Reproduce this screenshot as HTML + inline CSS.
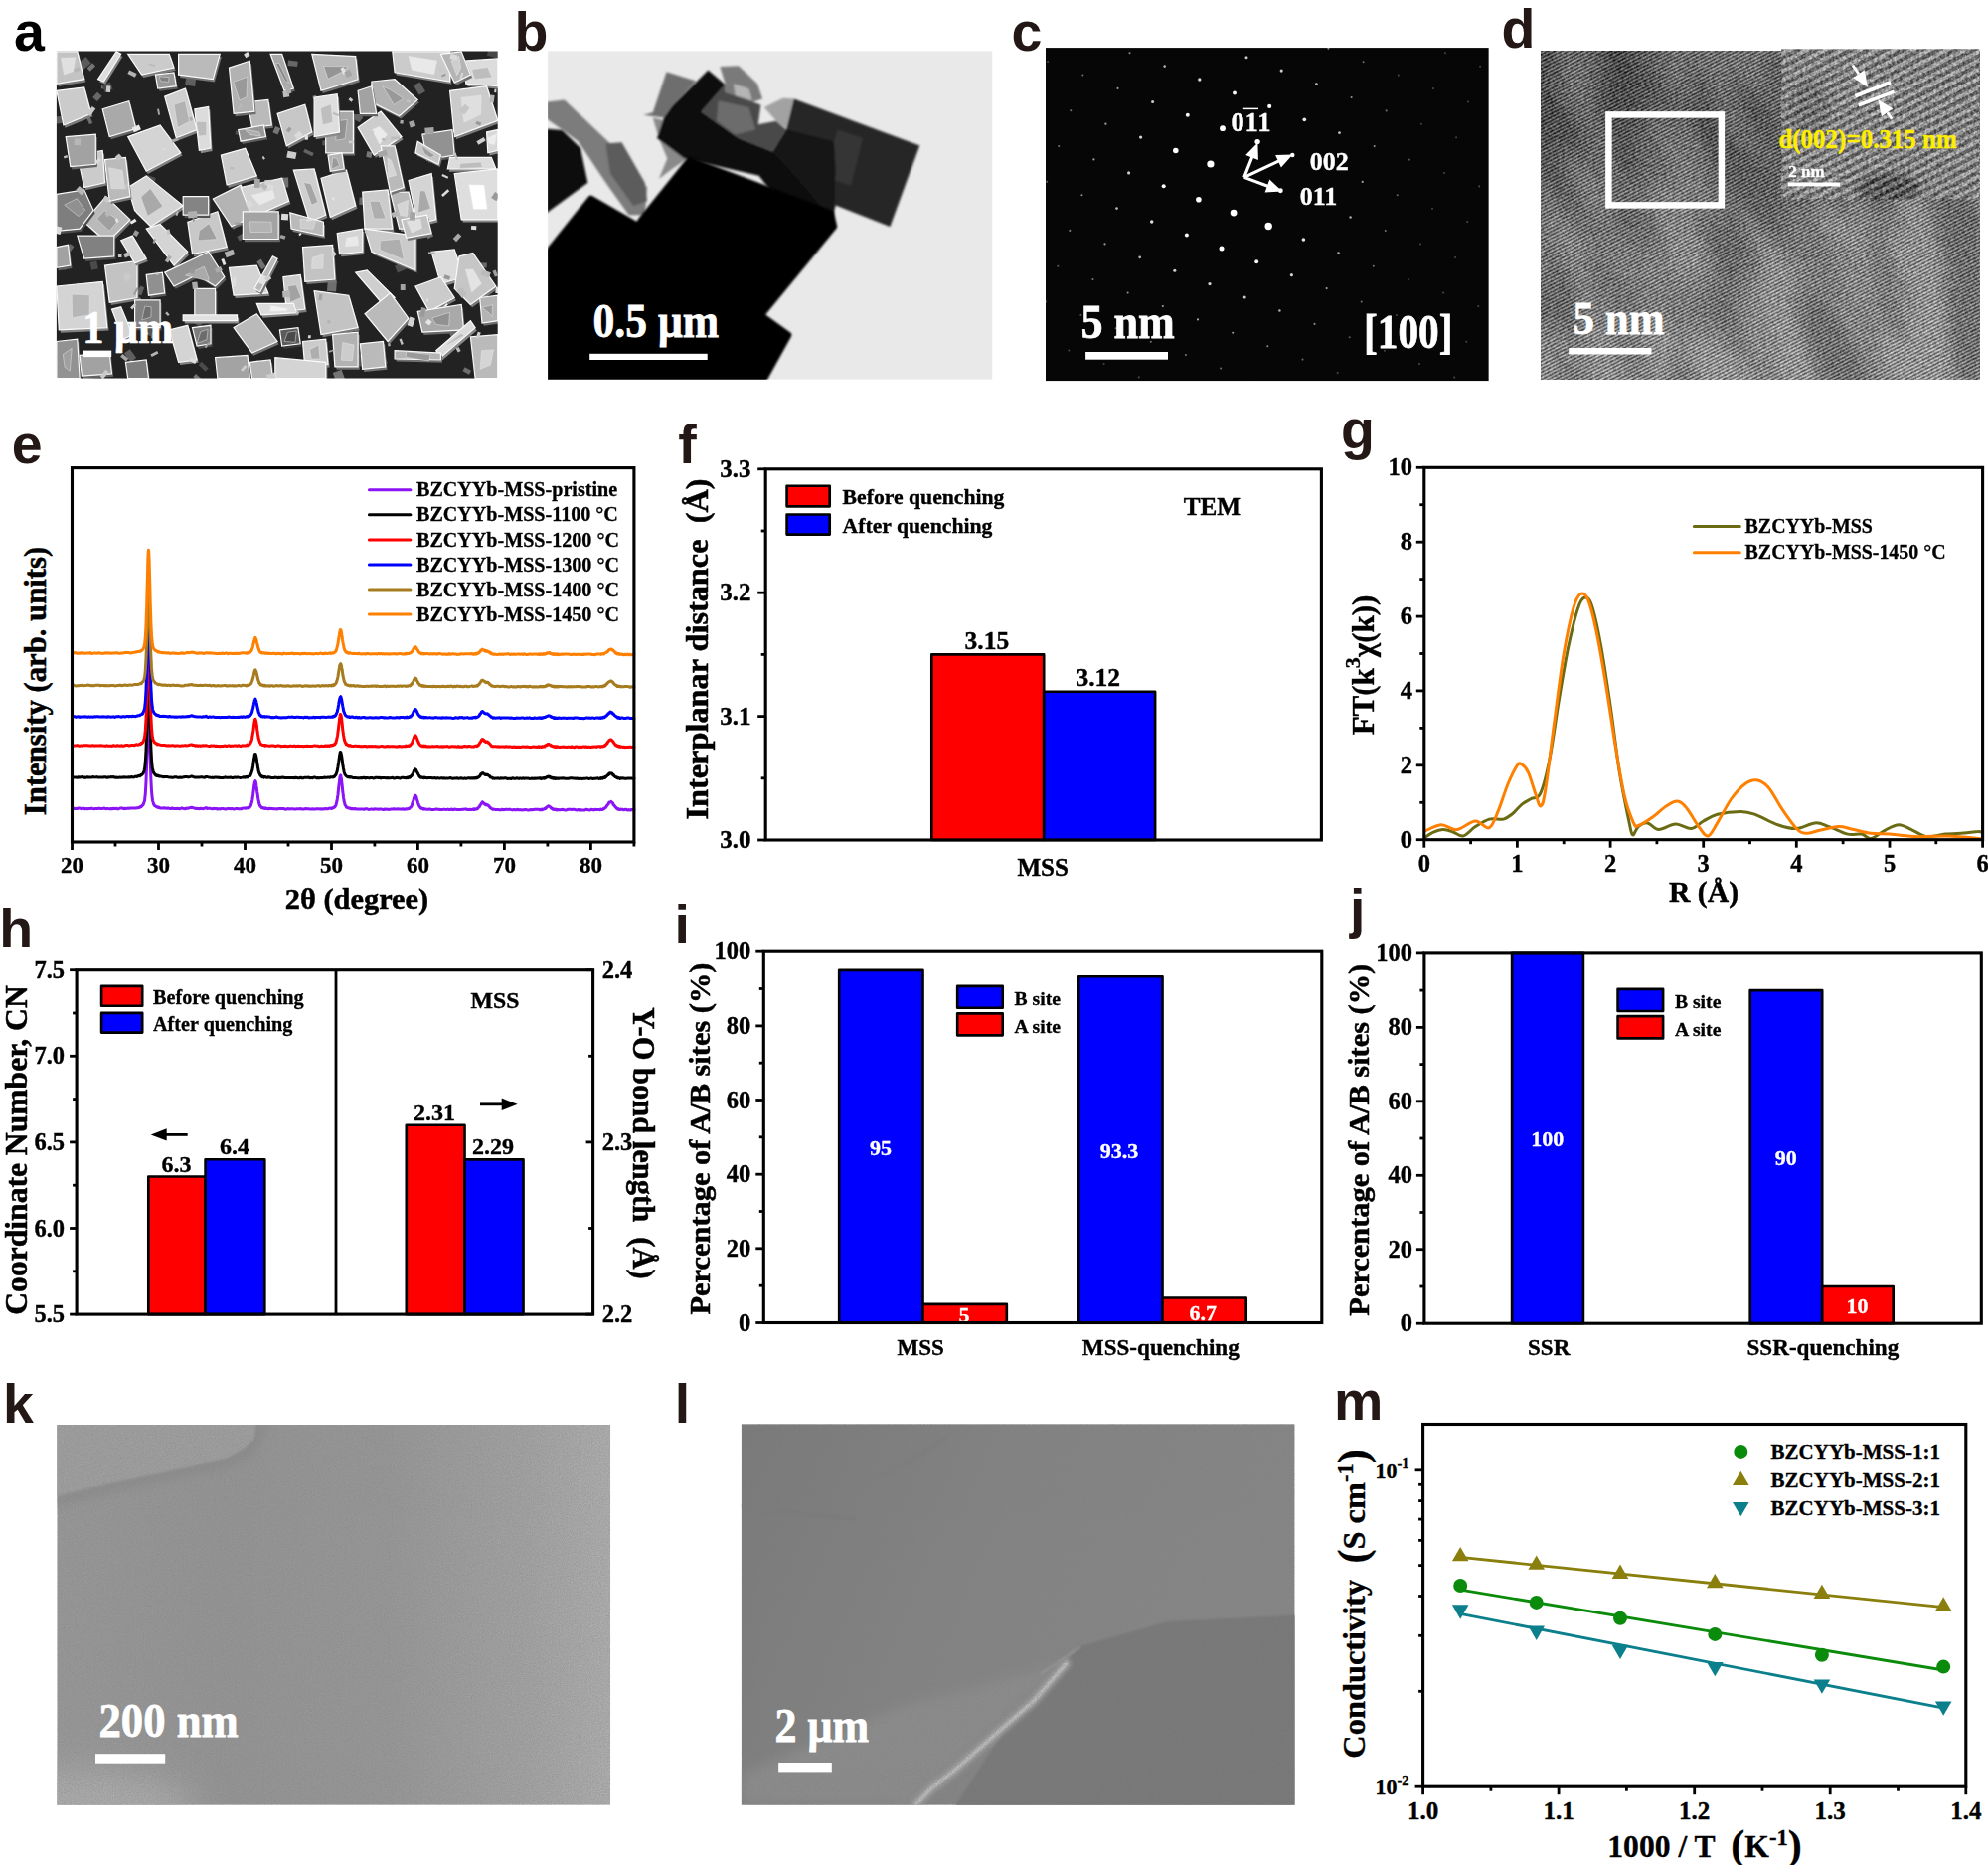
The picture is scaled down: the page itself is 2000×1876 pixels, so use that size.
<!DOCTYPE html>
<html lang="en"><head><meta charset="utf-8"><title>Figure</title>
<style>html,body{margin:0;padding:0;background:#fff;}svg{display:block;}</style></head>
<body><svg width="2000" height="1876" viewBox="0 0 2000 1876">
<rect width="2000" height="1876" fill="#fff"/>
<clipPath id="ca"><rect x="56.9" y="51.5" width="443.8" height="329.0"/></clipPath>
<filter id="bla" x="-5%" y="-5%" width="110%" height="110%"><feGaussianBlur stdDeviation="0.45"/></filter>
<g clip-path="url(#ca)"><g filter="url(#bla)">
<rect x="51.9" y="46.5" width="453.8" height="339.0" fill="#232323" stroke="none" stroke-width="0"/>
<polygon points="261.7,230.5 261.4,241.4 254.2,241.3 254.4,230.3" fill="#6b6b6b" stroke="none" stroke-width="0"/>
<polygon points="140.6,310.5 146.7,314.6 142.0,321.6 135.9,317.6" fill="#626262" stroke="none" stroke-width="0"/>
<polygon points="187.4,76.6 197.3,77.9 196.1,86.9 186.2,85.6" fill="#5f5f5f" stroke="none" stroke-width="0"/>
<polygon points="481.4,264.2 489.9,264.6 489.7,269.4 481.2,269.0" fill="#676767" stroke="none" stroke-width="0"/>
<polygon points="91.7,63.4 83.6,70.3 78.3,63.9 86.4,57.1" fill="#5a5a5a" stroke="none" stroke-width="0"/>
<polygon points="257.0,324.9 257.0,332.6 248.3,332.6 248.3,324.9" fill="#707070" stroke="none" stroke-width="0"/>
<polygon points="98.9,270.2 92.2,271.7 90.5,263.9 97.2,262.5" fill="#4b4b4b" stroke="none" stroke-width="0"/>
<polygon points="369.4,152.1 374.6,153.3 373.4,159.0 368.2,157.8" fill="#777777" stroke="none" stroke-width="0"/>
<polygon points="102.1,85.2 107.9,85.5 107.7,89.5 101.9,89.2" fill="#717171" stroke="none" stroke-width="0"/>
<polygon points="62.8,124.1 52.0,124.8 51.5,117.6 62.4,116.9" fill="#5f5f5f" stroke="none" stroke-width="0"/>
<polygon points="246.1,233.6 248.6,238.0 240.8,242.4 238.3,238.0" fill="#595959" stroke="none" stroke-width="0"/>
<polygon points="202.8,363.8 209.7,370.5 206.6,373.7 199.7,366.9" fill="#4c4c4c" stroke="none" stroke-width="0"/>
<polygon points="61.2,198.9 67.4,203.0 62.4,210.5 56.2,206.4" fill="#666666" stroke="none" stroke-width="0"/>
<polygon points="141.1,287.6 145.3,289.2 142.2,297.3 138.0,295.7" fill="#606060" stroke="none" stroke-width="0"/>
<polygon points="503.7,48.7 500.7,58.7 489.8,55.5 492.8,45.5" fill="#474747" stroke="none" stroke-width="0"/>
<polygon points="147.0,175.8 156.8,179.0 154.2,187.2 144.3,184.0" fill="#4f4f4f" stroke="none" stroke-width="0"/>
<polygon points="151.2,131.1 157.0,138.9 152.1,142.5 146.3,134.7" fill="#4a4a4a" stroke="none" stroke-width="0"/>
<polygon points="89.9,115.9 93.3,123.8 90.0,125.2 86.6,117.3" fill="#6d6d6d" stroke="none" stroke-width="0"/>
<polygon points="263.3,369.3 256.6,372.3 253.3,364.9 260.0,361.9" fill="#515151" stroke="none" stroke-width="0"/>
<polygon points="340.5,154.8 337.1,158.8 330.7,153.4 334.1,149.3" fill="#505050" stroke="none" stroke-width="0"/>
<polygon points="389.8,365.2 385.1,367.1 381.1,356.7 385.8,354.8" fill="#6c6c6c" stroke="none" stroke-width="0"/>
<polygon points="93.0,63.3 96.1,66.4 90.6,71.7 87.6,68.6" fill="#757575" stroke="none" stroke-width="0"/>
<polygon points="370.2,129.8 376.3,137.9 369.7,142.9 363.6,134.9" fill="#515151" stroke="none" stroke-width="0"/>
<polygon points="474.1,372.7 472.0,376.7 465.5,373.3 467.6,369.3" fill="#6d6d6d" stroke="none" stroke-width="0"/>
<polygon points="324.5,141.2 335.4,141.7 335.2,146.9 324.3,146.3" fill="#575757" stroke="none" stroke-width="0"/>
<polygon points="242.8,132.1 242.4,136.0 236.7,135.4 237.0,131.6" fill="#4e4e4e" stroke="none" stroke-width="0"/>
<polygon points="102.6,96.8 97.8,102.1 93.2,98.0 98.0,92.7" fill="#676767" stroke="none" stroke-width="0"/>
<polygon points="318.9,99.3 315.3,100.3 314.3,96.8 317.9,95.8" fill="#727272" stroke="none" stroke-width="0"/>
<polygon points="191.8,60.1 200.0,61.8 199.1,65.8 191.0,64.1" fill="#595959" stroke="none" stroke-width="0"/>
<polygon points="202.9,381.5 200.1,384.5 194.3,379.1 197.1,376.1" fill="#757575" stroke="none" stroke-width="0"/>
<polygon points="379.8,90.0 390.7,93.0 389.1,99.0 378.2,96.0" fill="#646464" stroke="none" stroke-width="0"/>
<polygon points="462.3,341.2 456.1,344.1 452.0,335.1 458.2,332.2" fill="#6a6a6a" stroke="none" stroke-width="0"/>
<polygon points="60.6,267.1 67.0,268.5 66.2,272.0 59.8,270.5" fill="#4b4b4b" stroke="none" stroke-width="0"/>
<polygon points="343.6,371.7 347.2,381.7 338.4,384.9 334.8,375.0" fill="#757575" stroke="none" stroke-width="0"/>
<polygon points="369.5,199.0 369.0,206.2 361.2,205.7 361.6,198.5" fill="#666666" stroke="none" stroke-width="0"/>
<polygon points="74.5,248.1 70.2,254.1 65.9,250.9 70.2,245.0" fill="#656565" stroke="none" stroke-width="0"/>
<polygon points="406.9,263.3 409.9,270.1 400.0,274.4 397.0,267.6" fill="#4f4f4f" stroke="none" stroke-width="0"/>
<polygon points="364.1,119.0 361.8,123.2 352.3,118.0 354.6,113.8" fill="#626262" stroke="none" stroke-width="0"/>
<polygon points="282.2,129.3 279.5,135.5 274.4,133.2 277.2,127.1" fill="#767676" stroke="none" stroke-width="0"/>
<polygon points="464.7,336.2 468.3,341.7 461.5,346.2 457.9,340.7" fill="#4e4e4e" stroke="none" stroke-width="0"/>
<polygon points="111.8,164.3 122.4,166.4 121.6,170.1 111.1,168.0" fill="#575757" stroke="none" stroke-width="0"/>
<polygon points="428.0,91.9 421.7,95.6 416.1,86.1 422.4,82.4" fill="#5e5e5e" stroke="none" stroke-width="0"/>
<polygon points="338.2,219.2 332.2,219.5 331.6,209.3 337.6,208.9" fill="#626262" stroke="none" stroke-width="0"/>
<polygon points="204.3,324.0 201.3,328.9 194.2,324.4 197.2,319.6" fill="#575757" stroke="none" stroke-width="0"/>
<polygon points="306.7,149.8 315.7,153.9 314.2,157.2 305.2,153.1" fill="#636363" stroke="none" stroke-width="0"/>
<polygon points="146.5,306.9 142.0,310.3 136.1,302.4 140.7,299.1" fill="#6e6e6e" stroke="none" stroke-width="0"/>
<polygon points="110.6,82.5 113.7,89.6 105.8,93.1 102.6,85.9" fill="#4a4a4a" stroke="none" stroke-width="0"/>
<polygon points="357.5,114.9 364.8,115.1 364.6,120.0 357.3,119.8" fill="#646464" stroke="none" stroke-width="0"/>
<polygon points="299.7,61.8 299.1,67.1 289.4,65.9 290.0,60.6" fill="#676767" stroke="none" stroke-width="0"/>
<polygon points="284.8,380.6 282.1,384.4 273.7,378.4 276.5,374.5" fill="#545454" stroke="none" stroke-width="0"/>
<polygon points="97.2,353.4 98.6,362.7 94.1,363.3 92.8,354.1" fill="#6e6e6e" stroke="none" stroke-width="0"/>
<polygon points="455.6,50.2 455.5,58.1 446.7,58.1 446.8,50.2" fill="#5b5b5b" stroke="none" stroke-width="0"/>
<polygon points="267.6,268.5 263.3,271.3 258.3,263.4 262.6,260.6" fill="#6f6f6f" stroke="none" stroke-width="0"/>
<polygon points="465.8,88.6 471.1,90.1 469.3,96.4 464.0,95.0" fill="#595959" stroke="none" stroke-width="0"/>
<polygon points="300.6,315.3 295.1,318.0 290.4,308.2 295.8,305.6" fill="#5c5c5c" stroke="none" stroke-width="0"/>
<polygon points="281.8,59.5 285.8,64.3 280.6,68.8 276.5,64.0" fill="#474747" stroke="none" stroke-width="0"/>
<polygon points="156.1,333.7 155.4,340.6 151.7,340.3 152.4,333.3" fill="#717171" stroke="none" stroke-width="0"/>
<polygon points="411.4,98.8 408.4,102.4 402.6,97.4 405.6,93.9" fill="#717171" stroke="none" stroke-width="0"/>
<polygon points="361.1,356.3 368.3,358.3 365.3,369.1 358.1,367.1" fill="#545454" stroke="none" stroke-width="0"/>
<polygon points="249.7,229.5 258.6,234.6 254.6,241.5 245.7,236.5" fill="#666666" stroke="none" stroke-width="0"/>
<polygon points="435.9,237.4 430.6,240.2 427.6,234.4 432.9,231.6" fill="#6d6d6d" stroke="none" stroke-width="0"/>
<polygon points="154.5,326.8 151.9,337.9 144.4,336.1 147.0,325.1" fill="#525252" stroke="none" stroke-width="0"/>
<polygon points="243.0,88.1 242.6,91.6 236.1,90.8 236.5,87.4" fill="#484848" stroke="none" stroke-width="0"/>
<polygon points="290.1,178.5 290.3,188.4 282.3,188.7 282.0,178.7" fill="#727272" stroke="none" stroke-width="0"/>
<polygon points="137.2,360.1 131.3,364.3 124.9,355.5 130.7,351.3" fill="#5f5f5f" stroke="none" stroke-width="0"/>
<polygon points="180.3,209.1 176.6,211.6 172.7,205.7 176.5,203.3" fill="#646464" stroke="none" stroke-width="0"/>
<polygon points="289.2,83.9 293.9,88.9 291.2,91.4 286.5,86.4" fill="#727272" stroke="none" stroke-width="0"/>
<polygon points="406.8,58.8 404.0,63.0 399.5,60.1 402.3,55.9" fill="#5a5a5a" stroke="none" stroke-width="0"/>
<polygon points="383.0,129.6 381.1,136.9 373.8,134.9 375.7,127.7" fill="#666666" stroke="none" stroke-width="0"/>
<polygon points="329.8,282.1 338.9,282.8 338.1,293.4 329.0,292.7" fill="#6e6e6e" stroke="none" stroke-width="0"/>
<polygon points="86.3,225.9 108.3,200.5 132.6,223.6 109.5,246.8" fill="#737373" stroke="none" stroke-width="0"/>
<polygon points="84.7,223.2 106.7,197.7 131.0,220.9 107.8,244.0" fill="#bababa" stroke="#fafafa" stroke-width="1.2"/>
<polygon points="97.5,219.9 105.1,211.7 119.1,221.4 110.1,232.4" fill="#9f9f9f" stroke="#e6e6e6" stroke-width="0.5"/>
<polygon points="130.3,191.2 148.8,179.7 185.8,209.7 153.4,230.6 137.2,214.4" fill="#838383" stroke="none" stroke-width="0"/>
<polygon points="128.7,188.5 147.2,176.9 184.2,207.0 151.8,227.8 135.6,211.6" fill="#d4d4d4" stroke="#fafafa" stroke-width="1.2"/>
<polygon points="141.8,198.3 151.3,189.6 163.8,207.4 148.6,217.3" fill="#a9a9a9" stroke="#e6e6e6" stroke-width="0.5"/>
<polygon points="58.6,198.2 86.3,193.6 95.6,214.4 81.7,232.9 58.6,235.2" fill="#4e4e4e" stroke="none" stroke-width="0"/>
<polygon points="56.9,195.4 84.7,190.8 94.0,211.6 80.1,230.1 56.9,232.4" fill="#7e7e7e" stroke="#fafafa" stroke-width="1.2"/>
<polygon points="64.8,206.1 77.4,199.7 85.6,211.3 79.0,217.6" fill="#909090" stroke="#e6e6e6" stroke-width="0.5"/>
<polygon points="104.8,112.6 131.4,104.5 138.4,132.2 111.8,140.3" fill="#686868" stroke="none" stroke-width="0"/>
<polygon points="103.2,109.8 129.8,101.7 136.8,129.5 110.2,137.6" fill="#a9a9a9" stroke="#fafafa" stroke-width="1.2"/>
<polygon points="58.6,94.1 86.3,90.6 93.3,117.2 65.5,128.8" fill="#7d7d7d" stroke="none" stroke-width="0"/>
<polygon points="56.9,91.3 84.7,87.8 91.7,114.4 63.9,126.0" fill="#cbcbcb" stroke="#fafafa" stroke-width="1.2"/>
<polygon points="167.3,99.8 188.1,91.7 199.7,133.4 178.9,141.5" fill="#808080" stroke="none" stroke-width="0"/>
<polygon points="165.7,97.1 186.5,89.0 198.1,130.6 177.3,138.7" fill="#cfcfcf" stroke="#fafafa" stroke-width="1.2"/>
<polygon points="175.1,105.3 186.2,101.7 190.6,122.3 178.7,128.5" fill="#b2b2b2" stroke="#e6e6e6" stroke-width="0.5"/>
<polygon points="130.3,140.3 162.7,128.8 183.5,156.5 148.8,175.0" fill="#838383" stroke="none" stroke-width="0"/>
<polygon points="128.7,137.6 161.1,126.0 181.9,153.8 147.2,172.3" fill="#d4d4d4" stroke="#fafafa" stroke-width="1.2"/>
<polygon points="197.4,112.6 211.3,110.3 213.6,151.9 202.0,154.2" fill="#888888" stroke="none" stroke-width="0"/>
<polygon points="195.8,109.8 209.7,107.5 212.0,149.1 200.4,151.4" fill="#dcdcdc" stroke="#fafafa" stroke-width="1.2"/>
<polygon points="197.2,122.4 207.6,122.4 207.7,136.2 200.0,137.1" fill="#bdbdbd" stroke="#e6e6e6" stroke-width="0.5"/>
<polygon points="224.0,158.8 248.3,151.9 259.9,179.7 229.8,188.9" fill="#7d7d7d" stroke="none" stroke-width="0"/>
<polygon points="222.4,156.1 246.7,149.1 258.3,176.9 228.2,186.1" fill="#cbcbcb" stroke="#fafafa" stroke-width="1.2"/>
<polygon points="215.9,202.8 243.7,188.9 259.9,219.0 234.4,230.6" fill="#6f6f6f" stroke="none" stroke-width="0"/>
<polygon points="214.3,200.0 242.1,186.1 258.3,216.2 232.8,227.8" fill="#b4b4b4" stroke="#fafafa" stroke-width="1.2"/>
<polygon points="243.7,191.2 285.3,182.0 292.3,205.1 255.2,221.3" fill="#838383" stroke="none" stroke-width="0"/>
<polygon points="242.1,188.5 283.7,179.2 290.6,202.3 253.6,218.5" fill="#d4d4d4" stroke="#fafafa" stroke-width="1.2"/>
<polygon points="253.0,196.4 274.5,190.9 276.7,199.3 261.4,206.3" fill="#e9e9e9" stroke="#e6e6e6" stroke-width="0.5"/>
<polygon points="190.5,225.9 220.5,215.5 229.8,251.4 195.1,258.3" fill="#7c7c7c" stroke="none" stroke-width="0"/>
<polygon points="188.8,223.2 218.9,212.8 228.2,248.6 193.5,255.6" fill="#c8c8c8" stroke="#fafafa" stroke-width="1.2"/>
<polygon points="200.4,232.1 210.3,224.7 218.4,240.5 199.0,241.9" fill="#a0a0a0" stroke="#e6e6e6" stroke-width="0.5"/>
<polygon points="246.0,215.5 281.9,215.5 281.9,243.3 246.0,243.3" fill="#656565" stroke="none" stroke-width="0"/>
<polygon points="244.4,212.8 280.2,212.8 280.2,240.5 244.4,240.5" fill="#a3a3a3" stroke="#fafafa" stroke-width="1.2"/>
<polygon points="251.3,222.8 273.0,223.2 273.4,233.4 252.1,233.5" fill="#b3b3b3" stroke="#e6e6e6" stroke-width="0.5"/>
<polygon points="148.8,232.9 162.7,228.3 190.5,256.0 176.6,269.9" fill="#838383" stroke="none" stroke-width="0"/>
<polygon points="147.2,230.1 161.1,225.5 188.8,253.3 175.0,267.1" fill="#d4d4d4" stroke="#fafafa" stroke-width="1.2"/>
<polygon points="167.3,276.9 211.3,256.0 227.5,281.5 218.2,290.7 199.7,279.2 176.6,290.7" fill="#5b5b5b" stroke="none" stroke-width="0"/>
<polygon points="165.7,274.1 209.7,253.3 225.9,278.7 216.6,288.0 198.1,276.4 175.0,288.0" fill="#949494" stroke="#fafafa" stroke-width="1.2"/>
<polygon points="186.6,277.0 205.4,268.2 210.1,280.2 209.3,282.9" fill="#aaaaaa" stroke="#e6e6e6" stroke-width="0.5"/>
<polygon points="107.2,269.9 139.5,265.3 139.5,302.3 111.8,306.9" fill="#787878" stroke="none" stroke-width="0"/>
<polygon points="105.5,267.1 137.9,262.5 137.9,299.5 110.2,304.2" fill="#c3c3c3" stroke="#fafafa" stroke-width="1.2"/>
<polygon points="58.6,290.7 104.8,286.1 109.5,332.4 60.9,334.7" fill="#838383" stroke="none" stroke-width="0"/>
<polygon points="56.9,288.0 103.2,283.3 107.8,329.6 59.3,331.9" fill="#d4d4d4" stroke="#fafafa" stroke-width="1.2"/>
<polygon points="72.2,296.1 90.3,296.8 90.1,316.8 72.6,319.7" fill="#b6b6b6" stroke="#e6e6e6" stroke-width="0.5"/>
<polygon points="137.2,304.6 162.7,304.6 162.7,332.4 137.2,332.4" fill="#4f4f4f" stroke="none" stroke-width="0"/>
<polygon points="135.6,301.8 161.1,301.8 161.1,329.6 135.6,329.6" fill="#818181" stroke="#fafafa" stroke-width="1.2"/>
<polygon points="145.8,308.1 152.1,308.8 151.9,319.0 142.7,322.0" fill="#6e6e6e" stroke="#e6e6e6" stroke-width="0.5"/>
<polygon points="197.4,293.1 218.2,293.1 218.2,320.8 197.4,320.8" fill="#686868" stroke="none" stroke-width="0"/>
<polygon points="195.8,290.3 216.6,290.3 216.6,318.0 195.8,318.0" fill="#a9a9a9" stroke="#fafafa" stroke-width="1.2"/>
<polygon points="185.8,319.7 240.2,319.7 240.2,325.4 185.8,325.4" fill="#8b8b8b" stroke="none" stroke-width="0"/>
<polygon points="184.2,316.9 238.6,316.9 238.6,322.7 184.2,322.7" fill="#e1e1e1" stroke="#fafafa" stroke-width="1.2"/>
<polygon points="232.1,272.2 259.9,269.9 271.4,297.7 236.7,300.0" fill="#838383" stroke="none" stroke-width="0"/>
<polygon points="230.5,269.4 258.3,267.1 269.8,294.9 235.1,297.2" fill="#d4d4d4" stroke="#fafafa" stroke-width="1.2"/>
<polygon points="306.1,251.4 336.2,249.1 338.5,283.8 308.5,286.1" fill="#787878" stroke="none" stroke-width="0"/>
<polygon points="304.5,248.6 334.6,246.3 336.9,281.0 306.8,283.3" fill="#c3c3c3" stroke="#fafafa" stroke-width="1.2"/>
<polygon points="314.2,259.2 325.3,255.8 324.9,270.0 313.6,270.4" fill="#d6d6d6" stroke="#e6e6e6" stroke-width="0.5"/>
<polygon points="286.5,281.5 303.8,279.2 308.5,313.9 290.0,316.2" fill="#7d7d7d" stroke="none" stroke-width="0"/>
<polygon points="284.9,278.7 302.2,276.4 306.8,311.1 288.3,313.4" fill="#cbcbcb" stroke="#fafafa" stroke-width="1.2"/>
<polygon points="289.6,287.9 298.0,286.7 303.0,299.4 291.9,304.2" fill="#a2a2a2" stroke="#e6e6e6" stroke-width="0.5"/>
<polygon points="259.9,308.1 296.9,308.1 300.4,317.3 264.5,319.7" fill="#888888" stroke="none" stroke-width="0"/>
<polygon points="258.3,305.3 295.3,305.3 298.7,314.6 262.9,316.9" fill="#dcdcdc" stroke="#fafafa" stroke-width="1.2"/>
<polygon points="272.6,307.4 289.5,310.6 288.1,313.0 271.1,313.3" fill="#f2f2f2" stroke="#e6e6e6" stroke-width="0.5"/>
<polygon points="296.9,173.9 317.7,172.7 329.3,219.0 313.1,225.9" fill="#808080" stroke="none" stroke-width="0"/>
<polygon points="295.3,171.1 316.1,170.0 327.7,216.2 311.5,223.2" fill="#cfcfcf" stroke="#fafafa" stroke-width="1.2"/>
<polygon points="305.5,183.4 312.7,184.9 319.8,203.1 313.6,206.3" fill="#a5a5a5" stroke="#e6e6e6" stroke-width="0.5"/>
<polygon points="324.7,182.0 350.1,173.9 359.4,209.7 333.9,221.3" fill="#838383" stroke="none" stroke-width="0"/>
<polygon points="323.0,179.2 348.5,171.1 357.7,207.0 332.3,218.5" fill="#d4d4d4" stroke="#fafafa" stroke-width="1.2"/>
<polygon points="293.4,216.7 327.0,225.9 327.0,239.8 294.6,232.9" fill="#737373" stroke="none" stroke-width="0"/>
<polygon points="291.8,213.9 325.4,223.2 325.4,237.1 293.0,230.1" fill="#bababa" stroke="#fafafa" stroke-width="1.2"/>
<polygon points="302.1,220.0 317.6,221.7 315.0,230.3 302.3,229.4" fill="#cccccc" stroke="#e6e6e6" stroke-width="0.5"/>
<polygon points="361.7,131.1 384.8,114.9 405.6,140.3 377.9,158.8" fill="#7f7f7f" stroke="none" stroke-width="0"/>
<polygon points="360.1,128.3 383.2,112.1 404.0,137.6 376.3,156.1" fill="#cdcdcd" stroke="#fafafa" stroke-width="1.2"/>
<polygon points="374.3,130.7 381.8,127.2 389.5,135.5 381.8,145.2" fill="#ebebeb" stroke="#e6e6e6" stroke-width="0.5"/>
<polygon points="329.3,114.9 357.1,114.9 357.1,156.5 329.3,156.5" fill="#686868" stroke="none" stroke-width="0"/>
<polygon points="327.7,112.1 355.4,112.1 355.4,153.8 327.7,153.8" fill="#a9a9a9" stroke="#fafafa" stroke-width="1.2"/>
<polygon points="338.5,121.8 349.2,120.4 347.2,139.6 337.8,141.3" fill="#919191" stroke="#e6e6e6" stroke-width="0.5"/>
<polygon points="317.7,101.0 340.9,97.5 343.2,135.7 317.7,140.3" fill="#898989" stroke="none" stroke-width="0"/>
<polygon points="316.1,98.2 339.2,94.7 341.6,132.9 316.1,137.6" fill="#dedede" stroke="#fafafa" stroke-width="1.2"/>
<polygon points="322.4,109.1 332.9,104.7 334.8,123.0 324.7,125.8" fill="#bebebe" stroke="#e6e6e6" stroke-width="0.5"/>
<polygon points="280.7,117.2 308.5,107.9 315.4,135.7 290.0,149.6" fill="#7b7b7b" stroke="none" stroke-width="0"/>
<polygon points="279.1,114.4 306.8,105.2 313.8,132.9 288.3,146.8" fill="#c7c7c7" stroke="#fafafa" stroke-width="1.2"/>
<polygon points="250.6,105.6 271.4,103.3 274.9,128.8 255.2,131.1" fill="#737373" stroke="none" stroke-width="0"/>
<polygon points="249.0,102.8 269.8,100.5 273.3,126.0 253.6,128.3" fill="#bababa" stroke="#fafafa" stroke-width="1.2"/>
<polygon points="232.1,70.9 252.9,64.0 257.6,114.9 236.7,117.2" fill="#6e6e6e" stroke="none" stroke-width="0"/>
<polygon points="230.5,68.1 251.3,61.2 255.9,112.1 235.1,114.4" fill="#b2b2b2" stroke="#fafafa" stroke-width="1.2"/>
<polygon points="234.8,82.3 248.8,77.3 248.0,97.8 240.9,100.9" fill="#999999" stroke="#e6e6e6" stroke-width="0.5"/>
<polygon points="181.2,57.0 222.8,57.0 215.9,82.5 181.2,77.9" fill="#737373" stroke="none" stroke-width="0"/>
<polygon points="179.6,54.3 221.2,54.3 214.3,79.7 179.6,75.1" fill="#bababa" stroke="#fafafa" stroke-width="1.2"/>
<polygon points="130.3,57.0 171.9,57.0 176.6,70.9 144.2,77.9" fill="#7d7d7d" stroke="none" stroke-width="0"/>
<polygon points="128.7,54.3 170.3,54.3 175.0,68.1 142.6,75.1" fill="#cbcbcb" stroke="#fafafa" stroke-width="1.2"/>
<polygon points="315.4,57.0 359.4,59.3 361.7,82.5 324.7,94.1" fill="#737373" stroke="none" stroke-width="0"/>
<polygon points="313.8,54.3 357.7,56.6 360.1,79.7 323.0,91.3" fill="#bababa" stroke="#fafafa" stroke-width="1.2"/>
<polygon points="325.7,66.5 350.1,66.8 345.1,71.6 330.0,79.3" fill="#949494" stroke="#e6e6e6" stroke-width="0.5"/>
<polygon points="375.6,84.8 398.7,82.5 421.8,103.3 403.3,119.5 375.6,105.6" fill="#6e6e6e" stroke="none" stroke-width="0"/>
<polygon points="373.9,82.0 397.1,79.7 420.2,100.5 401.7,116.7 373.9,102.8" fill="#b2b2b2" stroke="#fafafa" stroke-width="1.2"/>
<polygon points="384.9,86.9 392.2,90.1 405.8,99.2 396.3,105.4" fill="#999999" stroke="#e6e6e6" stroke-width="0.5"/>
<polygon points="396.4,54.7 454.2,54.7 454.2,84.8 398.7,75.5" fill="#7d7d7d" stroke="none" stroke-width="0"/>
<polygon points="394.8,51.9 452.6,51.9 452.6,82.0 397.1,72.8" fill="#cbcbcb" stroke="#fafafa" stroke-width="1.2"/>
<polygon points="411.0,56.4 439.6,61.0 436.7,74.7 414.4,70.2" fill="#e9e9e9" stroke="#e6e6e6" stroke-width="0.5"/>
<polygon points="468.1,64.0 502.4,61.7 502.4,89.4 470.4,87.1" fill="#888888" stroke="none" stroke-width="0"/>
<polygon points="466.5,61.2 500.7,58.9 500.7,86.7 468.8,84.3" fill="#dcdcdc" stroke="#fafafa" stroke-width="1.2"/>
<polygon points="474.6,69.7 490.7,67.6 495.0,77.8 477.6,79.7" fill="#bdbdbd" stroke="#e6e6e6" stroke-width="0.5"/>
<polygon points="454.2,94.1 491.3,89.4 502.4,124.1 458.9,140.3" fill="#7d7d7d" stroke="none" stroke-width="0"/>
<polygon points="452.6,91.3 489.6,86.7 500.7,121.4 457.2,137.6" fill="#cbcbcb" stroke="#fafafa" stroke-width="1.2"/>
<polygon points="464.1,98.3 484.2,96.1 483.7,115.1 466.9,123.3" fill="#dfdfdf" stroke="#e6e6e6" stroke-width="0.5"/>
<polygon points="426.5,138.0 456.6,133.4 458.9,158.8 431.1,163.5" fill="#5a5a5a" stroke="none" stroke-width="0"/>
<polygon points="424.9,135.2 454.9,130.6 457.2,156.1 429.5,160.7" fill="#929292" stroke="#fafafa" stroke-width="1.2"/>
<polygon points="454.2,161.2 495.9,161.2 500.5,172.7 451.9,172.7" fill="#888888" stroke="none" stroke-width="0"/>
<polygon points="452.6,158.4 494.3,158.4 498.9,170.0 450.3,170.0" fill="#dcdcdc" stroke="#fafafa" stroke-width="1.2"/>
<polygon points="463.1,164.4 483.9,162.9 485.2,168.6 462.2,169.4" fill="#bdbdbd" stroke="#e6e6e6" stroke-width="0.5"/>
<polygon points="458.9,177.4 502.4,172.7 502.4,223.6 465.8,223.6" fill="#898989" stroke="none" stroke-width="0"/>
<polygon points="457.2,174.6 500.7,170.0 500.7,220.9 464.2,220.9" fill="#dedede" stroke="#fafafa" stroke-width="1.2"/>
<polygon points="471.7,185.7 487.1,186.0 490.2,210.4 476.3,210.4" fill="#ffffff" stroke="#e6e6e6" stroke-width="0.5"/>
<polygon points="412.6,184.3 435.7,177.4 440.4,223.6 421.8,228.3" fill="#838383" stroke="none" stroke-width="0"/>
<polygon points="411.0,181.5 434.1,174.6 438.7,220.9 420.2,225.5" fill="#d4d4d4" stroke="#fafafa" stroke-width="1.2"/>
<polygon points="422.7,191.7 427.7,192.1 433.3,209.8 420.5,214.1" fill="#a9a9a9" stroke="#e6e6e6" stroke-width="0.5"/>
<polygon points="366.3,195.9 391.8,193.6 396.4,232.9 368.6,232.9" fill="#7d7d7d" stroke="none" stroke-width="0"/>
<polygon points="364.7,193.1 390.1,190.8 394.8,230.1 367.0,230.1" fill="#cbcbcb" stroke="#fafafa" stroke-width="1.2"/>
<polygon points="371.9,202.2 382.0,202.4 388.2,219.9 376.0,220.0" fill="#aeaeae" stroke="#e6e6e6" stroke-width="0.5"/>
<polygon points="394.1,195.9 412.6,195.9 421.8,232.9 403.3,232.9" fill="#737373" stroke="none" stroke-width="0"/>
<polygon points="392.5,193.1 411.0,193.1 420.2,230.1 401.7,230.1" fill="#bababa" stroke="#fafafa" stroke-width="1.2"/>
<polygon points="399.8,205.7 410.6,201.3 409.5,217.6 402.8,216.6" fill="#d5d5d5" stroke="#e6e6e6" stroke-width="0.5"/>
<polygon points="368.6,232.9 419.5,239.8 419.5,274.5 375.6,256.0" fill="#7d7d7d" stroke="none" stroke-width="0"/>
<polygon points="367.0,230.1 417.9,237.1 417.9,271.8 373.9,253.3" fill="#cbcbcb" stroke="#fafafa" stroke-width="1.2"/>
<polygon points="382.3,242.0 402.0,240.2 406.5,261.5 382.2,251.3" fill="#aeaeae" stroke="#e6e6e6" stroke-width="0.5"/>
<polygon points="340.9,237.5 366.3,232.9 366.3,256.0 343.2,258.3" fill="#838383" stroke="none" stroke-width="0"/>
<polygon points="339.2,234.7 364.7,230.1 364.7,253.3 341.6,255.6" fill="#d4d4d4" stroke="#fafafa" stroke-width="1.2"/>
<polygon points="348.8,239.0 359.5,237.4 360.8,246.7 347.3,247.8" fill="#e9e9e9" stroke="#e6e6e6" stroke-width="0.5"/>
<polygon points="435.7,256.0 458.9,253.7 468.1,281.5 445.0,288.4" fill="#888888" stroke="none" stroke-width="0"/>
<polygon points="434.1,253.3 457.2,250.9 466.5,278.7 443.4,285.6" fill="#dcdcdc" stroke="#fafafa" stroke-width="1.2"/>
<polygon points="463.5,260.7 477.4,257.2 500.5,290.7 475.1,309.2 458.9,293.1" fill="#7a7a7a" stroke="none" stroke-width="0"/>
<polygon points="461.9,257.9 475.8,254.4 498.9,288.0 473.4,306.5 457.2,290.3" fill="#c6c6c6" stroke="#fafafa" stroke-width="1.2"/>
<polygon points="468.5,271.2 475.9,271.0 484.3,285.5 474.6,294.0" fill="#e3e3e3" stroke="#e6e6e6" stroke-width="0.5"/>
<polygon points="359.4,276.9 370.9,274.5 398.7,302.3 387.1,309.2" fill="#808080" stroke="none" stroke-width="0"/>
<polygon points="357.7,274.1 369.3,271.8 397.1,299.5 385.5,306.5" fill="#cfcfcf" stroke="#fafafa" stroke-width="1.2"/>
<polygon points="368.6,318.5 394.1,297.7 412.6,323.1 391.8,346.3" fill="#737373" stroke="none" stroke-width="0"/>
<polygon points="367.0,315.7 392.5,294.9 411.0,320.4 390.1,343.5" fill="#bababa" stroke="#fafafa" stroke-width="1.2"/>
<polygon points="317.7,295.4 352.4,300.0 361.7,332.4 324.7,339.3" fill="#787878" stroke="none" stroke-width="0"/>
<polygon points="316.1,292.6 350.8,297.2 360.1,329.6 323.0,336.6" fill="#c3c3c3" stroke="#fafafa" stroke-width="1.2"/>
<polygon points="419.5,290.7 445.0,281.5 458.9,302.3 433.4,316.2" fill="#7d7d7d" stroke="none" stroke-width="0"/>
<polygon points="417.9,288.0 443.4,278.7 457.2,299.5 431.8,313.4" fill="#cbcbcb" stroke="#fafafa" stroke-width="1.2"/>
<polygon points="421.8,316.2 465.8,309.2 468.1,334.7 426.5,337.0" fill="#686868" stroke="none" stroke-width="0"/>
<polygon points="420.2,313.4 464.2,306.5 466.5,331.9 424.9,334.2" fill="#a9a9a9" stroke="#fafafa" stroke-width="1.2"/>
<polygon points="434.7,320.0 452.5,314.2 451.6,327.9 438.8,326.4" fill="#919191" stroke="#e6e6e6" stroke-width="0.5"/>
<polygon points="440.4,355.5 475.1,325.4 479.7,332.4 445.0,362.5" fill="#888888" stroke="none" stroke-width="0"/>
<polygon points="438.7,352.7 473.4,322.7 478.1,329.6 443.4,359.7" fill="#dcdcdc" stroke="#fafafa" stroke-width="1.2"/>
<polygon points="448.8,346.6 463.6,335.5 467.1,337.6 450.3,347.1" fill="#bdbdbd" stroke="#e6e6e6" stroke-width="0.5"/>
<polygon points="236.7,332.4 259.9,318.5 280.7,346.3 255.2,357.8" fill="#737373" stroke="none" stroke-width="0"/>
<polygon points="235.1,329.6 258.3,315.7 279.1,343.5 253.6,355.1" fill="#bababa" stroke="#fafafa" stroke-width="1.2"/>
<polygon points="171.9,334.7 190.5,330.1 199.7,364.8 181.2,367.1" fill="#838383" stroke="none" stroke-width="0"/>
<polygon points="170.3,331.9 188.8,327.3 198.1,362.0 179.6,364.3" fill="#d4d4d4" stroke="#fafafa" stroke-width="1.2"/>
<polygon points="306.1,346.3 329.3,344.0 331.6,369.4 308.5,371.7" fill="#7d7d7d" stroke="none" stroke-width="0"/>
<polygon points="304.5,343.5 327.7,341.2 330.0,366.6 306.8,368.9" fill="#cbcbcb" stroke="#fafafa" stroke-width="1.2"/>
<polygon points="311.4,351.9 320.6,346.7 322.0,360.9 313.3,361.1" fill="#aeaeae" stroke="#e6e6e6" stroke-width="0.5"/>
<polygon points="336.2,339.3 361.7,337.0 361.7,371.7 338.5,371.7" fill="#6e6e6e" stroke="none" stroke-width="0"/>
<polygon points="334.6,336.6 360.1,334.2 360.1,368.9 336.9,368.9" fill="#b2b2b2" stroke="#fafafa" stroke-width="1.2"/>
<polygon points="344.7,344.5 356.2,347.1 354.3,362.8 343.3,362.2" fill="#cccccc" stroke="#e6e6e6" stroke-width="0.5"/>
<polygon points="278.4,362.5 329.3,367.1 329.3,383.3 278.4,383.3" fill="#838383" stroke="none" stroke-width="0"/>
<polygon points="276.8,359.7 327.7,364.3 327.7,380.5 276.8,380.5" fill="#d4d4d4" stroke="#fafafa" stroke-width="1.2"/>
<polygon points="218.2,362.5 250.6,360.2 252.9,383.3 220.5,383.3" fill="#656565" stroke="none" stroke-width="0"/>
<polygon points="216.6,359.7 249.0,357.4 251.3,380.5 218.9,380.5" fill="#a3a3a3" stroke="#fafafa" stroke-width="1.2"/>
<polygon points="58.6,346.3 79.4,344.0 81.7,383.3 58.6,383.3" fill="#5a5a5a" stroke="none" stroke-width="0"/>
<polygon points="56.9,343.5 77.8,341.2 80.1,380.5 56.9,380.5" fill="#929292" stroke="#fafafa" stroke-width="1.2"/>
<polygon points="63.3,356.5 72.2,350.4 70.3,373.1 65.1,369.2" fill="#a0a0a0" stroke="#e6e6e6" stroke-width="0.5"/>
<polygon points="81.7,360.2 111.8,357.8 114.1,378.7 84.0,381.0" fill="#646464" stroke="none" stroke-width="0"/>
<polygon points="80.1,357.4 110.2,355.1 112.5,375.9 82.4,378.2" fill="#a2a2a2" stroke="#fafafa" stroke-width="1.2"/>
<polygon points="475.1,341.6 502.4,339.3 502.4,383.3 479.7,383.3" fill="#737373" stroke="none" stroke-width="0"/>
<polygon points="473.4,338.9 500.7,336.6 500.7,380.5 478.1,380.5" fill="#bababa" stroke="#fafafa" stroke-width="1.2"/>
<polygon points="484.5,352.7 496.5,351.8 493.5,367.0 483.1,371.3" fill="#d5d5d5" stroke="#e6e6e6" stroke-width="0.5"/>
<polygon points="398.7,355.5 445.0,357.8 445.0,364.8 398.7,363.6" fill="#6f6f6f" stroke="none" stroke-width="0"/>
<polygon points="397.1,352.7 443.4,355.1 443.4,362.0 397.1,360.8" fill="#b4b4b4" stroke="#fafafa" stroke-width="1.2"/>
<polygon points="408.6,353.8 433.2,356.6 431.6,363.0 408.2,359.3" fill="#9a9a9a" stroke="#e6e6e6" stroke-width="0.5"/>
<polygon points="58.6,54.7 79.4,54.7 86.3,82.5 58.6,87.1" fill="#787878" stroke="none" stroke-width="0"/>
<polygon points="56.9,51.9 77.8,51.9 84.7,79.7 56.9,84.3" fill="#c3c3c3" stroke="#fafafa" stroke-width="1.2"/>
<polygon points="61.4,58.2 75.9,57.8 73.5,71.7 64.4,75.0" fill="#e0e0e0" stroke="#e6e6e6" stroke-width="0.5"/>
<polygon points="100.2,82.5 118.7,54.7 123.4,57.0 106.0,84.8" fill="#888888" stroke="none" stroke-width="0"/>
<polygon points="98.6,79.7 117.1,51.9 121.7,54.3 104.4,82.0" fill="#dcdcdc" stroke="#fafafa" stroke-width="1.2"/>
<polygon points="445.0,57.0 465.8,54.7 475.1,77.9 458.9,86.0" fill="#6f6f6f" stroke="none" stroke-width="0"/>
<polygon points="443.4,54.3 464.2,51.9 473.4,75.1 457.2,83.2" fill="#b4b4b4" stroke="#fafafa" stroke-width="1.2"/>
<polygon points="454.0,61.1 461.7,56.4 463.6,68.0 459.8,75.7" fill="#cecece" stroke="#e6e6e6" stroke-width="0.5"/>
<polygon points="384.8,149.6 398.7,149.6 408.0,191.2 394.1,195.9" fill="#737373" stroke="none" stroke-width="0"/>
<polygon points="383.2,146.8 397.1,146.8 406.3,188.5 392.5,193.1" fill="#bababa" stroke="#fafafa" stroke-width="1.2"/>
<polygon points="389.9,159.1 393.4,161.2 398.7,176.3 390.8,178.4" fill="#d5d5d5" stroke="#e6e6e6" stroke-width="0.5"/>
<polygon points="79.4,158.8 104.8,154.2 107.2,186.6 86.3,191.2" fill="#7d7d7d" stroke="none" stroke-width="0"/>
<polygon points="77.8,156.1 103.2,151.4 105.5,183.8 84.7,188.5" fill="#cbcbcb" stroke="#fafafa" stroke-width="1.2"/>
<polygon points="107.2,163.5 128.0,161.2 132.6,200.5 111.8,205.1" fill="#737373" stroke="none" stroke-width="0"/>
<polygon points="105.5,160.7 126.4,158.4 131.0,197.7 110.2,202.3" fill="#bababa" stroke="#fafafa" stroke-width="1.2"/>
<polygon points="109.6,168.7 123.1,171.4 125.7,189.8 112.0,189.6" fill="#d5d5d5" stroke="#e6e6e6" stroke-width="0.5"/>
<polygon points="67.8,140.3 97.9,138.0 97.9,168.1 72.4,170.4" fill="#646464" stroke="none" stroke-width="0"/>
<polygon points="66.2,137.6 96.3,135.2 96.3,165.3 70.8,167.6" fill="#a2a2a2" stroke="#fafafa" stroke-width="1.2"/>
<polygon points="241.4,133.4 266.8,128.8 269.1,140.3 243.7,145.0" fill="#5e5e5e" stroke="none" stroke-width="0"/>
<polygon points="239.7,130.6 265.2,126.0 267.5,137.6 242.1,142.2" fill="#989898" stroke="#fafafa" stroke-width="1.2"/>
<polygon points="245.9,129.8 260.7,132.9 262.3,137.2 251.2,135.3" fill="#aeaeae" stroke="#e6e6e6" stroke-width="0.5"/>
<polygon points="185.8,200.5 211.3,200.5 211.3,219.0 185.8,219.0" fill="#515151" stroke="none" stroke-width="0"/>
<polygon points="184.2,197.7 209.7,197.7 209.7,216.2 184.2,216.2" fill="#848484" stroke="#fafafa" stroke-width="1.2"/>
<polygon points="79.4,239.8 116.4,239.8 116.4,260.7 86.3,263.0" fill="#4f4f4f" stroke="none" stroke-width="0"/>
<polygon points="77.8,237.1 114.8,237.1 114.8,257.9 84.7,260.2" fill="#818181" stroke="#fafafa" stroke-width="1.2"/>
<polygon points="123.4,244.5 134.9,239.8 148.8,263.0 137.2,267.6" fill="#838383" stroke="none" stroke-width="0"/>
<polygon points="121.7,241.7 133.3,237.1 147.2,260.2 135.6,264.8" fill="#d4d4d4" stroke="#fafafa" stroke-width="1.2"/>
<polygon points="257.6,293.1 276.1,260.7 280.7,263.0 263.3,296.5" fill="#737373" stroke="none" stroke-width="0"/>
<polygon points="255.9,290.3 274.4,257.9 279.1,260.2 261.7,293.7" fill="#bababa" stroke="#fafafa" stroke-width="1.2"/>
<polygon points="405.6,223.6 431.1,219.0 435.7,237.5 410.3,242.1" fill="#787878" stroke="none" stroke-width="0"/>
<polygon points="404.0,220.9 429.5,216.2 434.1,234.7 408.7,239.4" fill="#c3c3c3" stroke="#fafafa" stroke-width="1.2"/>
<polygon points="409.4,222.5 422.9,219.9 424.5,229.4 414.2,234.0" fill="#e0e0e0" stroke="#e6e6e6" stroke-width="0.5"/>
<polygon points="361.7,94.1 375.6,89.4 380.2,117.2 364.0,117.2" fill="#646464" stroke="none" stroke-width="0"/>
<polygon points="360.1,91.3 373.9,86.7 378.6,114.4 362.4,114.4" fill="#a2a2a2" stroke="#fafafa" stroke-width="1.2"/>
<polygon points="421.8,145.0 445.0,158.8 442.7,168.1 419.5,156.5" fill="#7a7a7a" stroke="none" stroke-width="0"/>
<polygon points="420.2,142.2 443.4,156.1 441.0,165.3 417.9,153.8" fill="#c6c6c6" stroke="#fafafa" stroke-width="1.2"/>
<polygon points="423.5,146.0 437.6,156.6 433.1,158.6 427.2,154.7" fill="#9e9e9e" stroke="#e6e6e6" stroke-width="0.5"/>
<polygon points="484.3,302.3 502.4,300.0 502.4,325.4 486.6,327.8" fill="#6f6f6f" stroke="none" stroke-width="0"/>
<polygon points="482.7,299.5 500.7,297.2 500.7,322.7 485.0,325.0" fill="#b4b4b4" stroke="#fafafa" stroke-width="1.2"/>
<polygon points="484.7,309.3 495.6,306.7 495.0,318.5 492.0,314.8" fill="#9a9a9a" stroke="#e6e6e6" stroke-width="0.5"/>
<polygon points="148.8,279.2 165.0,276.9 167.3,297.7 151.1,300.0" fill="#595959" stroke="none" stroke-width="0"/>
<polygon points="147.2,276.4 163.4,274.1 165.7,294.9 149.5,297.2" fill="#909090" stroke="#fafafa" stroke-width="1.2"/>
<polygon points="58.6,251.4 70.1,249.1 72.4,269.9 58.6,272.2" fill="#646464" stroke="none" stroke-width="0"/>
<polygon points="56.9,248.6 68.5,246.3 70.8,267.1 56.9,269.4" fill="#a2a2a2" stroke="#fafafa" stroke-width="1.2"/>
<polygon points="273.8,57.0 285.3,57.0 296.9,91.7 287.6,94.1" fill="#686868" stroke="none" stroke-width="0"/>
<polygon points="272.1,54.3 283.7,54.3 295.3,89.0 286.0,91.3" fill="#a9a9a9" stroke="#fafafa" stroke-width="1.2"/>
<polygon points="277.6,63.5 280.7,63.4 290.6,83.1 287.1,81.9" fill="#878787" stroke="#e6e6e6" stroke-width="0.5"/>
<polygon points="158.1,77.9 176.6,75.5 178.9,89.4 160.4,91.7" fill="#5e5e5e" stroke="none" stroke-width="0"/>
<polygon points="156.4,75.1 175.0,72.8 177.3,86.7 158.8,89.0" fill="#989898" stroke="#fafafa" stroke-width="1.2"/>
<polygon points="160.0,76.9 170.1,77.6 169.5,82.3 161.8,81.8" fill="#828282" stroke="#e6e6e6" stroke-width="0.5"/>
<polygon points="331.6,158.8 345.5,156.5 347.8,172.7 333.9,175.0" fill="#6f6f6f" stroke="none" stroke-width="0"/>
<polygon points="330.0,156.1 343.9,153.8 346.2,170.0 332.3,172.3" fill="#b4b4b4" stroke="#fafafa" stroke-width="1.2"/>
<polygon points="334.7,158.5 338.8,159.6 341.8,166.6 333.4,170.2" fill="#9a9a9a" stroke="#e6e6e6" stroke-width="0.5"/>
<polygon points="491.3,135.7 502.4,133.4 502.4,154.2 492.4,156.5" fill="#858585" stroke="none" stroke-width="0"/>
<polygon points="489.6,132.9 500.7,130.6 500.7,151.4 490.8,153.8" fill="#d8d8d8" stroke="#fafafa" stroke-width="1.2"/>
<polygon points="489.6,139.1 499.8,134.5 497.7,145.8 492.2,144.6" fill="#ededed" stroke="#e6e6e6" stroke-width="0.5"/>
<polygon points="195.1,332.4 213.6,330.1 213.6,348.6 199.7,350.9" fill="#4e4e4e" stroke="none" stroke-width="0"/>
<polygon points="193.5,329.6 212.0,327.3 212.0,345.8 198.1,348.1" fill="#7e7e7e" stroke="#fafafa" stroke-width="1.2"/>
<polygon points="201.8,333.7 209.1,331.2 208.0,341.7 198.2,345.3" fill="#6c6c6c" stroke="#e6e6e6" stroke-width="0.5"/>
<polygon points="114.1,313.9 123.4,311.6 134.9,339.3 125.7,344.0" fill="#838383" stroke="none" stroke-width="0"/>
<polygon points="112.5,311.1 121.7,308.8 133.3,336.6 124.0,341.2" fill="#d4d4d4" stroke="#fafafa" stroke-width="1.2"/>
<polygon points="364.0,348.6 387.1,346.3 389.4,371.7 366.3,374.0" fill="#737373" stroke="none" stroke-width="0"/>
<polygon points="362.4,345.8 385.5,343.5 387.8,368.9 364.7,371.3" fill="#bababa" stroke="#fafafa" stroke-width="1.2"/>
<polygon points="252.9,367.1 273.8,364.8 276.1,383.3 255.2,383.3" fill="#6f6f6f" stroke="none" stroke-width="0"/>
<polygon points="251.3,364.3 272.1,362.0 274.4,380.5 253.6,380.5" fill="#b4b4b4" stroke="#fafafa" stroke-width="1.2"/>
<polygon points="128.0,367.1 148.8,364.8 151.1,383.3 130.3,383.3" fill="#4e4e4e" stroke="none" stroke-width="0"/>
<polygon points="126.4,364.3 147.2,362.0 149.5,380.5 128.7,380.5" fill="#7e7e7e" stroke="#fafafa" stroke-width="1.2"/>
<polygon points="283.0,334.7 301.5,332.4 303.8,348.6 285.3,350.9" fill="#373737" stroke="none" stroke-width="0"/>
<polygon points="281.4,331.9 299.9,329.6 302.2,345.8 283.7,348.1" fill="#5a5a5a" stroke="#fafafa" stroke-width="1.2"/>
<polygon points="289.4,334.3 298.2,332.9 297.0,344.3 286.0,343.4" fill="#484848" stroke="#e6e6e6" stroke-width="0.5"/>
<polygon points="261.7,188.8 255.9,188.9 255.9,180.1 261.7,180.1" fill="#a7a7a7" stroke="none" stroke-width="0"/>
<polygon points="196.7,270.5 195.1,275.8 190.6,274.5 192.2,269.1" fill="#989898" stroke="none" stroke-width="0"/>
<polygon points="127.5,184.3 129.4,185.0 127.3,190.4 125.4,189.6" fill="#c9c9c9" stroke="none" stroke-width="0"/>
<polygon points="135.9,219.8 137.5,222.6 132.3,225.6 130.7,222.9" fill="#e8e8e8" stroke="none" stroke-width="0"/>
<polygon points="407.6,286.1 407.7,292.0 402.8,292.0 402.8,286.1" fill="#a3a3a3" stroke="none" stroke-width="0"/>
<polygon points="269.9,187.9 266.3,191.4 261.5,186.3 265.1,182.9" fill="#bababa" stroke="none" stroke-width="0"/>
<polygon points="275.8,374.7 277.6,380.5 269.7,382.8 268.0,377.0" fill="#cdcdcd" stroke="none" stroke-width="0"/>
<polygon points="111.4,86.4 111.0,93.1 106.7,92.8 107.2,86.2" fill="#cbcbcb" stroke="none" stroke-width="0"/>
<polygon points="460.8,160.4 458.8,161.1 456.6,154.2 458.6,153.5" fill="#c6c6c6" stroke="none" stroke-width="0"/>
<polygon points="321.4,295.6 324.7,296.3 323.4,302.4 320.1,301.7" fill="#a5a5a5" stroke="none" stroke-width="0"/>
<polygon points="436.3,128.1 436.8,134.4 427.8,135.1 427.3,128.8" fill="#a3a3a3" stroke="none" stroke-width="0"/>
<polygon points="291.1,127.6 293.6,129.9 290.4,133.4 287.9,131.1" fill="#9e9e9e" stroke="none" stroke-width="0"/>
<polygon points="503.6,289.3 502.7,295.5 498.2,294.8 499.1,288.6" fill="#dedede" stroke="none" stroke-width="0"/>
<polygon points="418.3,126.8 412.9,128.5 411.1,122.8 416.5,121.1" fill="#a2a2a2" stroke="none" stroke-width="0"/>
<polygon points="290.4,91.1 291.3,97.3 285.2,98.2 284.3,92.0" fill="#bbbbbb" stroke="none" stroke-width="0"/>
<polygon points="167.3,150.8 164.0,151.9 163.3,149.7 166.6,148.6" fill="#d9d9d9" stroke="none" stroke-width="0"/>
<polygon points="231.1,167.8 235.9,168.2 235.7,170.4 230.9,169.9" fill="#bebebe" stroke="none" stroke-width="0"/>
<polygon points="198.0,212.0 198.5,218.6 189.5,219.4 188.9,212.8" fill="#b0b0b0" stroke="none" stroke-width="0"/>
<polygon points="146.5,331.3 149.4,335.8 147.5,337.1 144.6,332.6" fill="#c3c3c3" stroke="none" stroke-width="0"/>
<polygon points="460.4,55.4 459.5,60.4 452.6,59.1 453.5,54.1" fill="#dadada" stroke="none" stroke-width="0"/>
<polygon points="335.3,112.8 341.3,114.9 340.5,117.0 334.5,114.9" fill="#bebebe" stroke="none" stroke-width="0"/>
<polygon points="486.7,138.1 488.7,141.6 481.4,145.7 479.4,142.3" fill="#cecece" stroke="none" stroke-width="0"/>
<polygon points="244.3,105.8 240.8,110.9 238.5,109.4 242.0,104.3" fill="#b8b8b8" stroke="none" stroke-width="0"/>
<polygon points="139.9,125.4 141.9,130.2 134.8,133.2 132.8,128.4" fill="#eaeaea" stroke="none" stroke-width="0"/>
<polygon points="293.5,93.6 289.3,95.0 286.3,86.4 290.6,85.0" fill="#adadad" stroke="none" stroke-width="0"/>
<polygon points="355.9,144.0 350.8,144.3 350.7,141.8 355.8,141.5" fill="#cecece" stroke="none" stroke-width="0"/>
<polygon points="466.2,73.3 464.5,79.6 462.6,79.1 464.4,72.8" fill="#dadada" stroke="none" stroke-width="0"/>
<polygon points="170.6,316.5 169.0,318.1 166.2,315.2 167.9,313.6" fill="#b5b5b5" stroke="none" stroke-width="0"/>
<polygon points="137.5,289.3 139.3,290.2 135.7,297.1 134.0,296.1" fill="#9a9a9a" stroke="none" stroke-width="0"/>
<polygon points="335.8,353.1 331.3,354.7 330.7,353.0 335.2,351.4" fill="#9d9d9d" stroke="none" stroke-width="0"/>
<polygon points="140.1,233.4 137.6,238.0 133.7,235.8 136.1,231.3" fill="#9a9a9a" stroke="none" stroke-width="0"/>
<polygon points="290.2,215.2 289.8,221.4 282.9,220.9 283.3,214.8" fill="#dadada" stroke="none" stroke-width="0"/>
<polygon points="135.4,304.9 137.3,306.7 133.1,311.4 131.1,309.6" fill="#cecece" stroke="none" stroke-width="0"/>
<polygon points="301.1,131.6 304.8,135.6 299.6,140.6 295.8,136.6" fill="#dbdbdb" stroke="none" stroke-width="0"/>
<polygon points="156.9,240.8 155.6,245.0 153.6,244.3 154.9,240.1" fill="#9c9c9c" stroke="none" stroke-width="0"/>
<polygon points="310.0,337.2 312.8,337.3 312.6,340.3 309.9,340.2" fill="#d5d5d5" stroke="none" stroke-width="0"/>
<polygon points="412.7,213.1 418.3,213.6 417.5,221.8 411.9,221.3" fill="#a4a4a4" stroke="none" stroke-width="0"/>
<polygon points="461.0,234.5 464.3,237.6 459.1,243.3 455.7,240.1" fill="#a8a8a8" stroke="none" stroke-width="0"/>
<polygon points="85.7,192.4 82.0,196.4 76.2,191.0 79.9,187.0" fill="#b7b7b7" stroke="none" stroke-width="0"/>
<polygon points="398.6,212.2 400.5,217.0 395.3,219.1 393.4,214.3" fill="#b5b5b5" stroke="none" stroke-width="0"/>
<polygon points="125.7,274.5 131.7,275.7 130.2,283.2 124.2,282.1" fill="#cacaca" stroke="none" stroke-width="0"/>
<polygon points="263.6,276.3 268.6,278.5 265.1,286.7 260.1,284.5" fill="#e2e2e2" stroke="none" stroke-width="0"/>
<polygon points="493.5,95.5 497.6,96.0 496.7,103.4 492.6,102.8" fill="#b4b4b4" stroke="none" stroke-width="0"/>
<polygon points="241.9,223.2 242.1,225.5 236.2,226.1 236.0,223.7" fill="#9f9f9f" stroke="none" stroke-width="0"/>
<polygon points="493.8,274.3 491.9,279.5 483.4,276.3 485.3,271.2" fill="#bbbbbb" stroke="none" stroke-width="0"/>
<polygon points="171.5,235.5 168.5,236.2 167.4,231.0 170.4,230.4" fill="#c4c4c4" stroke="none" stroke-width="0"/>
<polygon points="192.1,359.8 197.8,363.0 196.2,366.0 190.4,362.8" fill="#e0e0e0" stroke="none" stroke-width="0"/>
<polygon points="348.7,73.6 345.4,75.1 342.5,68.7 345.8,67.2" fill="#e1e1e1" stroke="none" stroke-width="0"/>
<polygon points="467.7,104.8 472.6,108.7 467.1,115.6 462.2,111.7" fill="#c6c6c6" stroke="none" stroke-width="0"/>
<polygon points="405.9,121.2 405.4,124.7 402.2,124.3 402.8,120.7" fill="#aaaaaa" stroke="none" stroke-width="0"/>
<polygon points="273.8,180.7 274.2,185.5 266.8,186.2 266.3,181.3" fill="#d4d4d4" stroke="none" stroke-width="0"/>
<polygon points="498.7,271.6 500.9,277.4 497.8,278.6 495.5,272.8" fill="#9f9f9f" stroke="none" stroke-width="0"/>
<polygon points="81.3,139.6 80.9,146.3 74.5,145.9 74.9,139.3" fill="#b7b7b7" stroke="none" stroke-width="0"/>
<polygon points="282.6,235.9 287.5,237.5 286.4,240.8 281.5,239.2" fill="#9d9d9d" stroke="none" stroke-width="0"/>
<polygon points="129.2,360.7 126.8,363.5 121.1,358.7 123.5,355.9" fill="#a5a5a5" stroke="none" stroke-width="0"/>
<polygon points="68.2,158.2 64.7,159.6 63.8,157.3 67.3,155.9" fill="#bfbfbf" stroke="none" stroke-width="0"/>
<polygon points="173.6,338.9 171.9,343.8 168.0,342.5 169.7,337.5" fill="#d4d4d4" stroke="none" stroke-width="0"/>
<polygon points="74.6,98.9 77.3,103.0 75.6,104.1 72.9,100.1" fill="#cccccc" stroke="none" stroke-width="0"/>
<polygon points="270.8,276.5 273.3,280.2 268.4,283.5 265.9,279.7" fill="#cfcfcf" stroke="none" stroke-width="0"/>
<polygon points="355.3,100.4 353.5,102.7 350.5,100.2 352.3,98.0" fill="#c9c9c9" stroke="none" stroke-width="0"/>
<polygon points="118.1,219.6 119.6,222.9 117.2,224.0 115.7,220.6" fill="#e4e4e4" stroke="none" stroke-width="0"/>
<polygon points="156.2,65.0 155.8,66.9 149.4,65.6 149.8,63.7" fill="#bcbcbc" stroke="none" stroke-width="0"/>
<polygon points="351.6,69.8 354.4,75.4 349.0,78.0 346.3,72.5" fill="#a5a5a5" stroke="none" stroke-width="0"/>
<polygon points="480.7,333.7 483.7,334.6 481.8,340.8 478.9,340.0" fill="#cccccc" stroke="none" stroke-width="0"/>
<polygon points="112.2,209.5 114.9,212.9 108.1,218.3 105.4,214.9" fill="#b9b9b9" stroke="none" stroke-width="0"/>
<polygon points="158.1,353.0 159.4,355.6 152.7,359.0 151.4,356.5" fill="#b4b4b4" stroke="none" stroke-width="0"/>
<polygon points="291.8,292.5 292.3,299.0 284.5,299.5 284.0,293.0" fill="#b6b6b6" stroke="none" stroke-width="0"/>
<polygon points="368.6,230.8 370.4,235.9 368.5,236.6 366.7,231.5" fill="#c4c4c4" stroke="none" stroke-width="0"/>
<polygon points="463.6,353.0 460.7,354.5 458.6,350.4 461.4,348.9" fill="#bcbcbc" stroke="none" stroke-width="0"/>
<polygon points="265.4,157.0 266.9,159.8 265.1,160.8 263.7,158.0" fill="#c5c5c5" stroke="none" stroke-width="0"/>
<polygon points="309.6,135.2 310.1,140.5 306.9,140.8 306.4,135.5" fill="#e4e4e4" stroke="none" stroke-width="0"/>
<polygon points="210.1,343.5 211.6,344.8 207.2,350.3 205.6,349.0" fill="#9f9f9f" stroke="none" stroke-width="0"/>
<polygon points="336.3,252.8 338.8,255.8 335.0,259.0 332.5,256.0" fill="#d1d1d1" stroke="none" stroke-width="0"/>
<polygon points="445.3,175.1 451.2,177.8 450.3,179.7 444.4,177.0" fill="#d6d6d6" stroke="none" stroke-width="0"/>
<polygon points="179.8,212.9 178.4,216.9 176.5,216.3 177.9,212.3" fill="#b8b8b8" stroke="none" stroke-width="0"/>
<polygon points="159.6,274.0 159.2,277.1 157.3,276.8 157.7,273.8" fill="#c8c8c8" stroke="none" stroke-width="0"/>
<polygon points="56.4,227.3 62.4,228.8 60.6,236.1 54.6,234.6" fill="#dddddd" stroke="none" stroke-width="0"/>
<polygon points="447.6,276.3 453.2,278.2 451.9,281.8 446.3,279.9" fill="#989898" stroke="none" stroke-width="0"/>
<polygon points="199.2,290.3 193.9,290.9 193.1,284.0 198.4,283.4" fill="#aaaaaa" stroke="none" stroke-width="0"/>
<polygon points="129.7,253.0 131.4,257.0 125.9,259.4 124.2,255.4" fill="#bababa" stroke="none" stroke-width="0"/>
<polygon points="222.0,268.1 223.9,272.0 217.8,274.8 216.0,270.8" fill="#acacac" stroke="none" stroke-width="0"/>
<polygon points="469.7,296.4 464.4,299.8 459.4,292.1 464.7,288.7" fill="#bdbdbd" stroke="none" stroke-width="0"/>
<polygon points="105.8,196.5 110.9,199.4 108.2,204.1 103.2,201.3" fill="#cacaca" stroke="none" stroke-width="0"/>
<polygon points="446.3,70.8 443.8,72.7 440.4,68.2 443.0,66.3" fill="#c8c8c8" stroke="none" stroke-width="0"/>
<polygon points="169.6,256.6 172.8,258.6 169.0,264.4 165.9,262.4" fill="#b0b0b0" stroke="none" stroke-width="0"/>
<polygon points="434.7,323.8 431.9,327.6 427.9,324.6 430.8,320.8" fill="#e5e5e5" stroke="none" stroke-width="0"/>
<polygon points="387.9,139.7 386.9,142.2 383.8,140.9 384.8,138.4" fill="#bbbbbb" stroke="none" stroke-width="0"/>
<polygon points="161.1,115.5 159.2,115.8 158.1,109.8 160.0,109.4" fill="#a7a7a7" stroke="none" stroke-width="0"/>
<polygon points="178.6,138.4 179.7,141.3 173.4,143.7 172.3,140.7" fill="#a7a7a7" stroke="none" stroke-width="0"/>
<polygon points="78.7,284.7 80.2,286.6 78.5,287.9 77.0,286.0" fill="#dadada" stroke="none" stroke-width="0"/>
<polygon points="499.6,89.8 499.2,93.3 497.1,93.0 497.6,89.5" fill="#d3d3d3" stroke="none" stroke-width="0"/>
<polygon points="137.6,74.1 135.8,77.8 128.4,74.0 130.2,70.4" fill="#b2b2b2" stroke="none" stroke-width="0"/>
<polygon points="234.3,250.7 236.2,256.1 227.7,259.2 225.7,253.8" fill="#b1b1b1" stroke="none" stroke-width="0"/>
<polygon points="298.8,312.9 301.2,313.8 300.2,316.8 297.7,315.9" fill="#b6b6b6" stroke="none" stroke-width="0"/>
<polygon points="450.4,190.3 452.2,192.3 445.8,197.9 444.1,195.9" fill="#dedede" stroke="none" stroke-width="0"/>
<polygon points="122.4,255.7 122.6,258.9 119.1,259.1 118.9,255.9" fill="#c4c4c4" stroke="none" stroke-width="0"/>
<polygon points="303.6,235.4 301.6,237.2 300.3,235.8 302.3,234.0" fill="#ebebeb" stroke="none" stroke-width="0"/>
<polygon points="92.8,106.9 96.3,109.5 90.8,116.9 87.3,114.3" fill="#cacaca" stroke="none" stroke-width="0"/>
<polygon points="269.6,185.3 275.4,186.3 274.6,191.0 268.7,190.0" fill="#dcdcdc" stroke="none" stroke-width="0"/>
<polygon points="331.3,321.5 333.2,324.0 330.6,325.9 328.7,323.5" fill="#b5b5b5" stroke="none" stroke-width="0"/>
<polygon points="498.0,192.9 503.2,196.1 499.4,202.2 494.2,199.0" fill="#999999" stroke="none" stroke-width="0"/>
<polygon points="474.2,226.9 479.4,227.3 479.1,231.2 473.9,230.8" fill="#dddddd" stroke="none" stroke-width="0"/>
<polygon points="195.8,222.5 193.9,222.7 193.5,219.3 195.4,219.1" fill="#979797" stroke="none" stroke-width="0"/>
<polygon points="402.0,137.4 402.0,140.5 393.3,140.6 393.3,137.5" fill="#bdbdbd" stroke="none" stroke-width="0"/>
<polygon points="412.4,318.6 417.9,320.4 415.0,329.1 409.6,327.3" fill="#d3d3d3" stroke="none" stroke-width="0"/>
<polygon points="234.4,279.3 237.5,279.5 236.9,288.1 233.8,287.8" fill="#dfdfdf" stroke="none" stroke-width="0"/>
<polygon points="119.8,154.4 123.4,158.6 119.1,162.2 115.6,158.0" fill="#c4c4c4" stroke="none" stroke-width="0"/>
<polygon points="337.3,198.7 335.7,201.8 333.6,200.7 335.2,197.7" fill="#e2e2e2" stroke="none" stroke-width="0"/>
<polygon points="101.9,161.1 98.1,165.2 95.6,162.8 99.5,158.7" fill="#dbdbdb" stroke="none" stroke-width="0"/>
<polygon points="192.9,117.4 194.3,120.7 191.5,121.9 190.1,118.5" fill="#adadad" stroke="none" stroke-width="0"/>
<polygon points="249.2,51.9 251.5,55.6 247.4,58.2 245.1,54.5" fill="#dadada" stroke="none" stroke-width="0"/>
<polygon points="429.4,300.4 431.3,300.8 430.7,303.9 428.8,303.5" fill="#e1e1e1" stroke="none" stroke-width="0"/>
<polygon points="106.4,371.7 109.5,374.2 103.8,381.2 100.7,378.6" fill="#cacaca" stroke="none" stroke-width="0"/>
<polygon points="403.8,340.4 405.8,346.1 403.6,346.9 401.5,341.2" fill="#bfbfbf" stroke="none" stroke-width="0"/>
<polygon points="450.8,306.4 447.8,309.8 446.3,308.5 449.3,305.1" fill="#eaeaea" stroke="none" stroke-width="0"/>
<polygon points="227.4,266.0 224.7,267.0 222.4,261.0 225.2,260.0" fill="#e6e6e6" stroke="none" stroke-width="0"/>
<polygon points="248.5,369.0 244.1,373.8 242.1,371.9 246.5,367.1" fill="#d0d0d0" stroke="none" stroke-width="0"/>
<polygon points="252.1,201.6 254.5,207.2 249.3,209.4 247.0,203.7" fill="#dbdbdb" stroke="none" stroke-width="0"/>
<polygon points="314.4,219.7 314.8,221.7 308.4,222.8 308.0,220.8" fill="#e1e1e1" stroke="none" stroke-width="0"/>
<polygon points="79.0,66.9 80.8,69.9 75.9,72.9 74.0,69.9" fill="#b6b6b6" stroke="none" stroke-width="0"/>
<polygon points="388.3,150.7 390.0,156.1 381.3,158.8 379.6,153.5" fill="#a6a6a6" stroke="none" stroke-width="0"/>
<polygon points="393.0,348.1 390.6,348.6 389.9,345.5 392.2,344.9" fill="#a8a8a8" stroke="none" stroke-width="0"/>
<polygon points="424.1,309.1 428.5,310.0 426.6,319.0 422.3,318.1" fill="#9a9a9a" stroke="none" stroke-width="0"/>
<polygon points="376.0,131.7 375.4,137.6 370.2,137.0 370.8,131.1" fill="#cccccc" stroke="none" stroke-width="0"/>
<polygon points="145.6,141.5 144.8,146.5 142.4,146.1 143.3,141.1" fill="#d4d4d4" stroke="none" stroke-width="0"/>
<polygon points="448.9,75.8 444.9,77.6 444.0,75.5 448.0,73.7" fill="#9e9e9e" stroke="none" stroke-width="0"/>
<polygon points="409.2,100.3 412.9,100.7 412.6,103.3 408.9,102.9" fill="#c2c2c2" stroke="none" stroke-width="0"/>
<polygon points="484.2,123.4 483.1,126.5 478.4,124.8 479.6,121.7" fill="#999999" stroke="none" stroke-width="0"/>
<polygon points="437.5,255.8 431.0,256.0 430.9,253.6 437.4,253.4" fill="#b0b0b0" stroke="none" stroke-width="0"/>
<polygon points="298.5,153.4 297.2,160.0 288.3,158.4 289.6,151.8" fill="#cdcdcd" stroke="none" stroke-width="0"/>
</g></g>
<text transform="translate(83.2 344.7) scale(1.0 1.1)" font-size="42.3" text-anchor="start" fill="#fff" stroke="#fff" stroke-width="0.68" font-family="Liberation Serif, serif" font-weight="bold">1 μm</text>
<rect x="83.3" y="352.6" width="28.9" height="6.5" fill="#fff" stroke="none" stroke-width="0"/>
<text x="14.0" y="50.5" font-size="55.5" text-anchor="start" fill="#000000" font-family="Liberation Sans, sans-serif" font-weight="bold">a</text>
<clipPath id="cb"><rect x="551.1" y="51.2" width="447.4" height="330.5"/></clipPath>
<filter id="bl1" x="-10%" y="-10%" width="120%" height="120%"><feGaussianBlur stdDeviation="1.1"/></filter>
<filter id="bl3" x="-10%" y="-10%" width="120%" height="120%"><feGaussianBlur stdDeviation="3"/></filter>
<g clip-path="url(#cb)">
<rect x="551.1" y="51.2" width="447.4" height="330.5" fill="#e9e9e9" stroke="none" stroke-width="0"/>
<g filter="url(#bl1)">
<polygon points="549.3,102.8 567.8,100.5 616.4,146.8 651.1,188.5 648.8,216.2 632.6,216.2 609.4,183.8 581.7,142.2 549.3,119.0" fill="#7c7c7c" stroke="none" stroke-width="0"/>
<polygon points="609.4,144.5 625.6,143.3 648.8,183.8 651.1,202.3 637.2,207.0 614.0,174.6" fill="#5c5c5c" stroke="none" stroke-width="0"/>
<polygon points="724.3,67.1 743.1,66.2 762.0,84.2 767.1,99.6 756.8,103.0 729.5,92.8 729.5,84.2" fill="#7a7a7a" stroke="none" stroke-width="0"/>
<polygon points="738.0,84.2 753.4,89.3 756.8,101.3 739.7,96.2" fill="#b5b5b5" stroke="none" stroke-width="0"/>
<polygon points="670.5,72.2 700.4,81.6 676.4,106.4 667.9,118.4 647.4,115.8 656.8,113.3" fill="#6e6e6e" stroke="none" stroke-width="0"/>
<polygon points="656.8,118.4 671.3,121.8 691.8,159.5 676.4,169.7 662.8,180.0 671.3,159.5 662.8,138.9" fill="#8a8a8a" stroke="none" stroke-width="0"/>
<polygon points="729.5,85.1 729.5,92.8 765.4,105.6 762.8,125.3 780.8,121.8 791.0,130.4 777.3,152.6 743.1,138.9 705.5,112.4" fill="#484848" stroke="none" stroke-width="0"/>
<polygon points="722.6,101.3 753.4,108.1 760.2,130.4 739.7,135.5 720.9,121.8" fill="#6c6c6c" stroke="none" stroke-width="0"/>
<polygon points="768.8,108.1 787.6,98.7 798.7,99.6 791.0,129.5 780.8,121.8" fill="#a2a2a2" stroke="none" stroke-width="0"/>
<polygon points="798.7,99.6 925.3,146.6 895.4,227.9 840.6,206.5 837.2,221.0 773.9,186.8 791.0,130.4" fill="#262626" stroke="none" stroke-width="0"/>
<polygon points="842.3,130.4 868.0,138.9 856.0,186.8 830.4,178.3" fill="#363636" stroke="none" stroke-width="0"/>
<polygon points="777.3,152.6 791.0,130.4 838.9,142.4 840.6,169.7 838.9,214.2 791.0,195.4" fill="#141414" stroke="none" stroke-width="0"/>
<polygon points="739.7,145.8 808.1,186.8 837.2,221.0 773.9,190.2" fill="#0e0e0e" stroke="none" stroke-width="0"/>
<polygon points="712.4,70.5 729.5,85.1 705.5,112.4 743.1,138.9 777.3,152.6 808.1,186.8 688.4,159.5 661.0,138.9 667.9,118.4 676.4,106.4" fill="#0e0e0e" stroke="none" stroke-width="0"/>
</g><g filter="url(#bl1)">
<polygon points="546.9,129.5 565.5,131.1 584.0,149.1 591.4,183.8 546.9,216.2" fill="#0c0c0c" stroke="none" stroke-width="0"/>
<path d="M645.3,220.9 L693.9,160.7 L836.2,214.6 L839.2,227.8 L767.9,314.6 L639.5,230.1 Z" fill="#060606" stroke="#060606" stroke-width="6" stroke-linejoin="round"/>
<path d="M546.9,259.0 L594.4,199.6 L639.5,225.5 L793.4,337.0 L766.8,385.1 L546.9,385.1 Z" fill="#040404" stroke="#040404" stroke-width="6" stroke-linejoin="round"/>
</g></g>
<text transform="translate(596.5 338.9) scale(1.0 1.1)" font-size="43.7" text-anchor="start" fill="#fff" stroke="#fff" stroke-width="0.70" font-family="Liberation Serif, serif" font-weight="bold">0.5 μm</text>
<rect x="593.2" y="355.8" width="118.5" height="6.2" fill="#fff" stroke="none" stroke-width="0"/>
<text x="517.4" y="51.3" font-size="55.5" text-anchor="start" fill="#231815" font-family="Liberation Sans, sans-serif" font-weight="bold">b</text>
<clipPath id="cc"><rect x="1052" y="48.1" width="445.8" height="335.2"/></clipPath>
<filter id="bl05" x="-50%" y="-50%" width="200%" height="200%"><feGaussianBlur stdDeviation="0.55"/></filter>
<g clip-path="url(#cc)">
<rect x="1052.0" y="48.1" width="445.8" height="335.2" fill="#060606" stroke="none" stroke-width="0"/>
<g filter="url(#bl05)">
<circle cx="1075.4" cy="352.6" r="1.05" fill="#fff" opacity="0.25"/>
<circle cx="1110.6" cy="366.0" r="1.05" fill="#fff" opacity="0.25"/>
<circle cx="1145.7" cy="379.4" r="1.05" fill="#fff" opacity="0.25"/>
<circle cx="1052.3" cy="303.4" r="1.05" fill="#fff" opacity="0.25"/>
<circle cx="1087.4" cy="316.9" r="1.05" fill="#fff" opacity="0.30"/>
<circle cx="1122.6" cy="330.3" r="1.05" fill="#fff" opacity="0.38"/>
<circle cx="1157.8" cy="343.7" r="1.05" fill="#fff" opacity="0.43"/>
<circle cx="1192.9" cy="357.1" r="1.05" fill="#fff" opacity="0.44"/>
<circle cx="1228.1" cy="370.5" r="1.05" fill="#fff" opacity="0.41"/>
<circle cx="1263.3" cy="384.0" r="1.05" fill="#fff" opacity="0.35"/>
<circle cx="1064.3" cy="267.7" r="1.05" fill="#fff" opacity="0.34"/>
<circle cx="1099.5" cy="281.1" r="1.05" fill="#fff" opacity="0.46"/>
<circle cx="1134.6" cy="294.5" r="1.05" fill="#fff" opacity="0.56"/>
<circle cx="1169.8" cy="308.0" r="1.08" fill="#fff" opacity="0.62"/>
<circle cx="1205.0" cy="321.4" r="1.12" fill="#fff" opacity="0.63"/>
<circle cx="1240.2" cy="334.8" r="1.05" fill="#fff" opacity="0.60"/>
<circle cx="1275.3" cy="348.2" r="1.05" fill="#fff" opacity="0.52"/>
<circle cx="1310.5" cy="361.6" r="1.05" fill="#fff" opacity="0.39"/>
<circle cx="1345.7" cy="375.1" r="1.05" fill="#fff" opacity="0.25"/>
<circle cx="1076.3" cy="231.9" r="1.05" fill="#fff" opacity="0.46"/>
<circle cx="1111.5" cy="245.4" r="1.05" fill="#fff" opacity="0.60"/>
<circle cx="1146.7" cy="258.8" r="1.35" fill="#fff" opacity="0.72"/>
<circle cx="1181.8" cy="272.2" r="1.56" fill="#fff" opacity="0.80"/>
<circle cx="1217.0" cy="285.6" r="1.62" fill="#fff" opacity="0.82"/>
<circle cx="1252.2" cy="299.0" r="1.52" fill="#fff" opacity="0.79"/>
<circle cx="1287.4" cy="312.5" r="1.25" fill="#fff" opacity="0.68"/>
<circle cx="1322.5" cy="325.9" r="1.05" fill="#fff" opacity="0.52"/>
<circle cx="1357.7" cy="339.3" r="1.05" fill="#fff" opacity="0.33"/>
<circle cx="1392.9" cy="352.7" r="1.05" fill="#fff" opacity="0.25"/>
<circle cx="1428.0" cy="366.1" r="1.05" fill="#fff" opacity="0.25"/>
<circle cx="1463.2" cy="379.6" r="1.05" fill="#fff" opacity="0.25"/>
<circle cx="1053.2" cy="182.8" r="1.05" fill="#fff" opacity="0.38"/>
<circle cx="1088.4" cy="196.2" r="1.05" fill="#fff" opacity="0.56"/>
<circle cx="1123.5" cy="209.6" r="1.35" fill="#fff" opacity="0.72"/>
<circle cx="1158.7" cy="223.0" r="1.73" fill="#fff" opacity="0.87"/>
<circle cx="1193.9" cy="236.5" r="2.01" fill="#fff" opacity="0.98"/>
<circle cx="1229.0" cy="249.9" r="2.50" fill="#fff" opacity="1.00"/>
<circle cx="1264.2" cy="263.3" r="1.97" fill="#fff" opacity="0.96"/>
<circle cx="1299.4" cy="276.7" r="1.59" fill="#fff" opacity="0.81"/>
<circle cx="1334.6" cy="290.1" r="1.08" fill="#fff" opacity="0.62"/>
<circle cx="1369.7" cy="303.6" r="1.05" fill="#fff" opacity="0.40"/>
<circle cx="1404.9" cy="317.0" r="1.05" fill="#fff" opacity="0.25"/>
<circle cx="1440.1" cy="330.4" r="1.05" fill="#fff" opacity="0.25"/>
<circle cx="1475.2" cy="343.8" r="1.05" fill="#fff" opacity="0.25"/>
<circle cx="1065.2" cy="147.0" r="1.05" fill="#fff" opacity="0.43"/>
<circle cx="1100.4" cy="160.4" r="1.09" fill="#fff" opacity="0.62"/>
<circle cx="1135.6" cy="173.9" r="1.56" fill="#fff" opacity="0.80"/>
<circle cx="1170.7" cy="187.3" r="2.01" fill="#fff" opacity="0.98"/>
<circle cx="1205.9" cy="200.7" r="2.80" fill="#fff" opacity="1.00"/>
<circle cx="1241.1" cy="214.1" r="3.40" fill="#fff" opacity="1.00"/>
<circle cx="1276.2" cy="227.5" r="3.70" fill="#fff" opacity="1.00"/>
<circle cx="1311.4" cy="241.0" r="1.81" fill="#fff" opacity="0.90"/>
<circle cx="1346.6" cy="254.4" r="1.22" fill="#fff" opacity="0.67"/>
<circle cx="1381.8" cy="267.8" r="1.05" fill="#fff" opacity="0.44"/>
<circle cx="1416.9" cy="281.2" r="1.05" fill="#fff" opacity="0.25"/>
<circle cx="1452.1" cy="294.6" r="1.05" fill="#fff" opacity="0.25"/>
<circle cx="1487.3" cy="308.1" r="1.05" fill="#fff" opacity="0.25"/>
<circle cx="1077.3" cy="111.3" r="1.05" fill="#fff" opacity="0.44"/>
<circle cx="1112.4" cy="124.7" r="1.13" fill="#fff" opacity="0.63"/>
<circle cx="1147.6" cy="138.1" r="1.62" fill="#fff" opacity="0.83"/>
<circle cx="1182.8" cy="151.5" r="2.80" fill="#fff" opacity="1.00"/>
<circle cx="1217.9" cy="165.0" r="3.60" fill="#fff" opacity="1.00"/>
<circle cx="1288.3" cy="191.8" r="2.48" fill="#fff" opacity="1.00"/>
<circle cx="1358.6" cy="218.6" r="1.23" fill="#fff" opacity="0.67"/>
<circle cx="1393.8" cy="232.1" r="1.05" fill="#fff" opacity="0.43"/>
<circle cx="1429.0" cy="245.5" r="1.05" fill="#fff" opacity="0.25"/>
<circle cx="1464.1" cy="258.9" r="1.05" fill="#fff" opacity="0.25"/>
<circle cx="1499.3" cy="272.3" r="1.05" fill="#fff" opacity="0.25"/>
<circle cx="1054.1" cy="62.1" r="1.05" fill="#fff" opacity="0.25"/>
<circle cx="1089.3" cy="75.5" r="1.05" fill="#fff" opacity="0.42"/>
<circle cx="1124.5" cy="88.9" r="1.05" fill="#fff" opacity="0.60"/>
<circle cx="1159.6" cy="102.4" r="1.52" fill="#fff" opacity="0.79"/>
<circle cx="1194.8" cy="115.8" r="1.98" fill="#fff" opacity="0.97"/>
<circle cx="1230.0" cy="129.2" r="2.90" fill="#fff" opacity="1.00"/>
<circle cx="1265.1" cy="142.6" r="2.70" fill="#fff" opacity="1.00"/>
<circle cx="1300.3" cy="156.0" r="2.24" fill="#fff" opacity="1.00"/>
<circle cx="1370.7" cy="182.9" r="1.10" fill="#fff" opacity="0.62"/>
<circle cx="1405.8" cy="196.3" r="1.05" fill="#fff" opacity="0.39"/>
<circle cx="1441.0" cy="209.7" r="1.05" fill="#fff" opacity="0.25"/>
<circle cx="1476.2" cy="223.1" r="1.05" fill="#fff" opacity="0.25"/>
<circle cx="1136.5" cy="53.2" r="1.05" fill="#fff" opacity="0.53"/>
<circle cx="1171.7" cy="66.6" r="1.29" fill="#fff" opacity="0.70"/>
<circle cx="1206.8" cy="80.0" r="1.68" fill="#fff" opacity="0.85"/>
<circle cx="1242.0" cy="93.5" r="1.98" fill="#fff" opacity="0.96"/>
<circle cx="1277.2" cy="106.9" r="2.08" fill="#fff" opacity="1.00"/>
<circle cx="1312.3" cy="120.3" r="1.84" fill="#fff" opacity="0.91"/>
<circle cx="1347.5" cy="133.7" r="1.39" fill="#fff" opacity="0.74"/>
<circle cx="1382.7" cy="147.1" r="1.05" fill="#fff" opacity="0.53"/>
<circle cx="1417.9" cy="160.6" r="1.05" fill="#fff" opacity="0.31"/>
<circle cx="1453.0" cy="174.0" r="1.05" fill="#fff" opacity="0.25"/>
<circle cx="1488.2" cy="187.4" r="1.05" fill="#fff" opacity="0.25"/>
<circle cx="1254.0" cy="57.7" r="1.52" fill="#fff" opacity="0.79"/>
<circle cx="1289.2" cy="71.1" r="1.57" fill="#fff" opacity="0.80"/>
<circle cx="1324.4" cy="84.5" r="1.37" fill="#fff" opacity="0.73"/>
<circle cx="1359.6" cy="98.0" r="1.05" fill="#fff" opacity="0.59"/>
<circle cx="1394.7" cy="111.4" r="1.05" fill="#fff" opacity="0.40"/>
<circle cx="1429.9" cy="124.8" r="1.05" fill="#fff" opacity="0.25"/>
<circle cx="1465.1" cy="138.2" r="1.05" fill="#fff" opacity="0.25"/>
<circle cx="1500.2" cy="151.6" r="1.05" fill="#fff" opacity="0.25"/>
<circle cx="1336.4" cy="48.8" r="1.05" fill="#fff" opacity="0.54"/>
<circle cx="1371.6" cy="62.2" r="1.05" fill="#fff" opacity="0.42"/>
<circle cx="1406.8" cy="75.6" r="1.05" fill="#fff" opacity="0.26"/>
<circle cx="1441.9" cy="89.1" r="1.05" fill="#fff" opacity="0.25"/>
<circle cx="1477.1" cy="102.5" r="1.05" fill="#fff" opacity="0.25"/>
<circle cx="1454.0" cy="53.3" r="1.05" fill="#fff" opacity="0.25"/>
<circle cx="1489.1" cy="66.7" r="1.05" fill="#fff" opacity="0.25"/>
</g></g>
<line x1="1251.7" y1="178.4" x2="1260.3" y2="156.5" stroke="#fff" stroke-width="3.1"/>
<polygon points="1265.4,143.5 1265.9,160.9 1253.2,155.9" fill="#fff" stroke="none" stroke-width="0"/>
<line x1="1251.7" y1="178.4" x2="1287.8" y2="161.4" stroke="#fff" stroke-width="3.1"/>
<polygon points="1300.5,155.5 1288.9,168.5 1283.1,156.1" fill="#fff" stroke="none" stroke-width="0"/>
<line x1="1251.7" y1="178.4" x2="1276.9" y2="187.7" stroke="#fff" stroke-width="3.1"/>
<polygon points="1290.0,192.5 1272.6,193.4 1277.3,180.6" fill="#fff" stroke="none" stroke-width="0"/>
<text x="1238.5" y="131.9" font-size="26.5" fill="#fff" stroke="#fff" stroke-width="0.4" font-family="Liberation Serif, serif" font-weight="bold" letter-spacing="0.8">011</text>
<line x1="1250.8" y1="109.4" x2="1266.0" y2="109.4" stroke="#fff" stroke-width="1.5"/>
<text x="1317.7" y="171.2" font-size="26" text-anchor="start" fill="#fff" font-family="Liberation Serif, serif" font-weight="bold" stroke="#fff" stroke-width="0.42">002</text>
<text x="1307.7" y="206.1" font-size="26" text-anchor="start" fill="#fff" font-family="Liberation Serif, serif" font-weight="bold" stroke="#fff" stroke-width="0.42">011</text>
<text transform="translate(1087.5 339.6) scale(1.026 1.11)" font-size="43" text-anchor="start" fill="#fff" stroke="#fff" stroke-width="0.69" font-family="Liberation Serif, serif" font-weight="bold">5 nm</text>
<rect x="1092.1" y="354.0" width="82.9" height="7.7" fill="#fff" stroke="none" stroke-width="0"/>
<text transform="translate(1372.0 349.5) scale(1.0 1.15)" font-size="41.3" text-anchor="start" fill="#fff" stroke="#fff" stroke-width="0.66" font-family="Liberation Serif, serif" font-weight="bold">[100]</text>
<text x="1017.6" y="50.5" font-size="55.5" text-anchor="start" fill="#231815" font-family="Liberation Sans, sans-serif" font-weight="bold">c</text>
<clipPath id="cd"><rect x="1550" y="50.9" width="441.9" height="331.1"/></clipPath>
<clipPath id="cdi"><rect x="1792.2" y="49.3" width="199.3" height="151.1"/></clipPath>
<pattern id="st1" width="10" height="3.2" patternUnits="userSpaceOnUse" patternTransform="rotate(-27)"><rect width="10" height="1.6" fill="#000" opacity="0.42"/><rect y="1.6" width="10" height="1.6" fill="#fff" opacity="0.27"/></pattern>
<pattern id="st2" width="20" height="8.0" patternUnits="userSpaceOnUse" patternTransform="rotate(-27)"><rect width="20" height="4.0" fill="#000" opacity="0.36"/><rect y="4.0" width="20" height="4.0" fill="#fff" opacity="0.3"/></pattern>
<linearGradient id="gd" x1="0" y1="0" x2="0.35" y2="1"><stop offset="0" stop-color="#2e2e2e"/><stop offset="0.35" stop-color="#555555"/><stop offset="0.7" stop-color="#868686"/><stop offset="1" stop-color="#9a9a9a"/></linearGradient>
<filter id="noise2" x="0" y="0" width="100%" height="100%" color-interpolation-filters="sRGB"><feTurbulence type="fractalNoise" baseFrequency="0.35" numOctaves="3" seed="3"/><feColorMatrix type="matrix" values="2.2 0 0 0 -0.6  2.2 0 0 0 -0.6  2.2 0 0 0 -0.6  0 0 0 0 1"/></filter>
<g clip-path="url(#cd)">
<rect x="1550.0" y="50.9" width="441.9" height="331.1" fill="url(#gd)" stroke="none" stroke-width="0"/>
<filter id="noise3" x="0" y="0" width="100%" height="100%" color-interpolation-filters="sRGB"><feTurbulence type="fractalNoise" baseFrequency="0.02 0.008" numOctaves="2" seed="5"/><feColorMatrix type="matrix" values="3 0 0 0 -1  3 0 0 0 -1  3 0 0 0 -1  0 0 0 0 1"/></filter>
<g transform="rotate(-27 1770 216)"><rect x="1400" y="-100" width="740" height="640" fill="#808080" filter="url(#noise3)" opacity="0.25"/></g>
<rect x="1550.0" y="50.9" width="441.9" height="331.1" fill="url(#st1)" stroke="none" stroke-width="0"/>
<rect x="1550.0" y="50.9" width="441.9" height="331.1" fill="#808080" stroke="none" stroke-width="0" filter="url(#noise2)" opacity="0.2"/>
</g>
<g clip-path="url(#cdi)">
<rect x="1792.2" y="49.3" width="199.3" height="151.1" fill="#8c8c8c" stroke="none" stroke-width="0"/>
<ellipse cx="1900" cy="190" rx="32" ry="16" fill="#3a3a3a" filter="url(#bl3)"/>
<ellipse cx="1820" cy="110" rx="20" ry="30" fill="#6a6a6a" filter="url(#bl3)"/>
<rect x="1792.2" y="49.3" width="199.3" height="151.1" fill="url(#st2)" stroke="none" stroke-width="0"/>
<rect x="1792.2" y="49.3" width="199.3" height="151.1" fill="#808080" stroke="none" stroke-width="0" filter="url(#noise2)" opacity="0.3"/>
</g>
<rect x="1618.4" y="115.4" width="113.5" height="91.0" fill="none" stroke="#fff" stroke-width="6.5"/>
<text transform="translate(1582.5 336.2) scale(1.0 1.1)" font-size="43" text-anchor="start" fill="#fff" stroke="#fff" stroke-width="0.69" font-family="Liberation Serif, serif" font-weight="bold">5 nm</text>
<rect x="1578.2" y="350.0" width="83.3" height="6.5" fill="#fff" stroke="none" stroke-width="0"/>
<text transform="translate(1789.4 149.2) scale(1.0 1.08)" font-size="25" text-anchor="start" fill="#ffee00" stroke="#ffee00" stroke-width="0.40" font-family="Liberation Serif, serif" font-weight="bold">d(002)=0.315 nm</text>
<text x="1799.2" y="178.1" font-size="17" text-anchor="start" fill="#fff" font-family="Liberation Serif, serif" font-weight="bold" stroke="#fff" stroke-width="0.27">2 nm</text>
<rect x="1798.7" y="183.5" width="52.5" height="3.9" fill="#fff" stroke="none" stroke-width="0"/>
<line x1="1866.3" y1="96.7" x2="1902.1" y2="82.8" stroke="#fff" stroke-width="3.6"/>
<line x1="1869.7" y1="105.9" x2="1905.6" y2="92.1" stroke="#fff" stroke-width="3.6"/>
<line x1="1863.9" y1="65.5" x2="1869.9" y2="74.2" stroke="#fff" stroke-width="2.8"/>
<polygon points="1879.0,87.4 1864.2,78.2 1875.7,70.3" fill="#fff" stroke="none" stroke-width="0"/>
<line x1="1903.3" y1="119.8" x2="1898.7" y2="113.3" stroke="#fff" stroke-width="2.8"/>
<polygon points="1889.4,100.2 1904.4,109.2 1892.9,117.3" fill="#fff" stroke="none" stroke-width="0"/>
<text x="1510.6" y="48.4" font-size="55.5" text-anchor="start" fill="#231815" font-family="Liberation Sans, sans-serif" font-weight="bold">d</text>
<polyline points="72.5,813.2 73.8,813.4 75.1,813.3 76.4,813.5 77.7,813.5 79.0,813.0 80.3,813.0 81.6,813.7 82.9,813.2 84.2,813.2 85.5,813.8 86.9,813.4 88.2,813.7 89.5,813.4 90.8,813.5 92.1,813.1 93.4,813.5 94.7,813.7 96.0,813.4 97.3,813.6 98.6,813.5 99.9,813.1 101.2,813.6 102.5,813.5 103.8,813.3 105.1,813.0 106.4,813.7 107.7,813.4 109.0,813.6 110.3,813.7 111.6,813.6 112.9,813.7 114.3,813.3 115.6,813.6 116.9,813.3 118.2,813.7 119.5,813.7 120.8,813.0 122.1,813.1 123.4,813.1 124.7,813.7 126.0,813.2 127.3,813.4 128.6,813.1 129.9,813.2 131.2,813.1 132.5,813.0 133.8,813.1 135.1,813.0 136.4,813.1 137.7,812.7 139.0,812.7 140.3,812.3 140.7,812.3 141.0,811.9 141.4,811.3 141.7,811.7 142.1,811.6 142.4,811.3 142.8,810.8 143.1,810.6 143.5,809.8 143.8,809.9 144.2,809.2 144.5,808.3 144.9,807.2 145.2,806.6 145.6,804.9 145.9,801.6 146.3,798.5 146.6,793.1 147.0,786.0 147.3,777.2 147.7,766.8 148.0,754.4 148.4,740.6 148.7,728.5 149.0,718.2 149.4,714.0 149.7,715.3 150.1,723.3 150.4,734.8 150.8,747.6 151.1,760.9 151.5,772.1 151.8,781.8 152.2,790.0 152.5,795.6 152.9,800.0 153.2,803.3 153.6,805.6 153.9,806.7 154.3,807.7 154.6,809.1 155.0,809.3 155.3,810.3 155.7,810.6 156.0,810.5 156.4,810.9 156.7,811.2 157.0,811.5 157.4,811.6 157.7,811.7 158.1,811.9 158.4,812.3 158.8,812.1 159.1,812.1 159.5,812.5 159.8,812.2 160.2,812.3 161.5,813.1 162.8,812.9 164.1,813.0 165.4,812.7 166.7,813.1 168.0,813.3 169.3,812.9 170.6,813.4 171.9,813.5 173.2,813.0 174.5,813.5 175.8,813.4 177.1,813.6 178.4,813.3 179.8,813.6 181.1,813.7 182.4,813.1 183.7,813.1 185.0,813.6 186.3,813.8 187.6,813.1 188.9,813.2 190.2,813.0 191.5,812.4 192.8,812.3 194.1,812.6 195.4,813.0 196.7,813.4 198.0,813.3 199.3,813.4 200.6,813.7 201.9,813.2 203.2,813.6 204.5,813.7 205.8,813.1 207.2,812.6 208.5,813.4 209.8,813.3 211.1,813.3 212.4,813.6 213.7,813.8 215.0,813.3 216.3,813.5 217.6,813.5 218.9,814.0 220.2,813.6 221.5,814.0 222.8,813.4 224.1,813.6 225.4,813.8 226.7,814.0 228.0,813.7 229.3,813.5 230.6,813.4 231.9,813.7 233.2,813.4 234.6,813.9 235.9,813.9 237.2,813.4 238.5,813.4 239.8,813.8 241.1,813.7 242.4,813.7 243.7,813.3 245.0,813.1 246.3,813.1 247.6,813.3 247.9,812.8 248.3,812.8 248.6,812.8 249.0,812.7 249.3,812.6 249.7,812.9 250.0,812.2 250.4,811.9 250.7,812.5 251.1,812.2 251.4,811.9 251.8,811.0 252.1,810.9 252.5,810.1 252.8,808.6 253.2,807.8 253.5,806.4 253.9,804.5 254.2,802.3 254.6,799.7 254.9,797.1 255.3,794.3 255.6,791.4 256.0,789.4 256.3,787.2 256.6,786.4 257.0,785.5 257.3,787.0 257.7,788.4 258.0,790.9 258.4,793.5 258.7,796.2 259.1,798.6 259.4,800.7 259.8,803.5 260.1,805.0 260.5,806.8 260.8,808.4 261.2,809.4 261.5,810.1 261.9,811.2 262.2,811.5 262.6,811.6 262.9,811.8 263.3,812.6 263.6,812.4 264.0,812.8 264.3,812.6 264.6,812.6 265.0,812.9 265.3,813.2 265.7,812.8 266.0,813.3 266.4,813.5 266.7,813.5 267.1,813.5 267.4,812.9 268.7,813.5 270.0,813.8 271.3,813.2 272.7,813.4 274.0,813.5 275.3,813.7 276.6,813.7 277.9,813.7 279.2,814.0 280.5,813.4 281.8,813.5 283.1,813.5 284.4,813.5 285.7,813.5 287.0,814.2 288.3,814.1 289.6,813.5 290.9,813.9 292.2,813.7 293.5,813.7 294.8,813.8 296.1,814.0 297.4,814.0 298.7,813.8 300.1,813.7 301.4,813.8 302.7,813.6 304.0,814.0 305.3,814.1 306.6,813.8 307.9,813.6 309.2,813.7 310.5,813.8 311.8,814.0 313.1,814.1 314.4,813.8 315.7,814.1 317.0,814.0 318.3,813.8 319.6,813.8 320.9,813.8 322.2,814.0 323.5,813.7 324.8,813.9 326.1,813.7 327.5,813.5 328.8,813.7 330.1,813.7 331.4,813.1 332.7,813.2 333.0,813.1 333.4,813.4 333.7,813.4 334.1,812.9 334.4,813.2 334.8,813.0 335.1,812.5 335.5,812.5 335.8,812.1 336.2,812.4 336.5,812.0 336.8,811.9 337.2,811.4 337.5,810.7 337.9,810.0 338.2,808.9 338.6,807.3 338.9,806.2 339.3,803.8 339.6,801.7 340.0,799.5 340.3,796.0 340.7,792.8 341.0,789.4 341.4,786.8 341.7,783.4 342.1,781.1 342.4,780.5 342.8,779.9 343.1,781.7 343.5,783.8 343.8,786.8 344.2,790.1 344.5,793.2 344.8,796.6 345.2,798.9 345.5,802.2 345.9,804.2 346.2,806.3 346.6,807.4 346.9,809.1 347.3,810.2 347.6,810.3 348.0,811.0 348.3,811.7 348.7,812.2 349.0,812.0 349.4,812.2 349.7,812.4 350.1,812.8 350.4,813.0 350.8,812.9 351.1,812.9 351.5,813.0 351.8,813.1 352.2,813.2 352.5,813.0 352.9,813.4 353.2,813.8 354.5,813.5 355.8,813.9 357.1,813.5 358.4,814.0 359.7,814.1 361.0,814.0 362.3,813.9 363.6,813.9 364.9,814.1 366.2,814.3 367.6,813.7 368.9,813.7 370.2,814.2 371.5,814.4 372.8,814.1 374.1,814.0 375.4,814.3 376.7,813.8 378.0,813.9 379.3,813.9 380.6,814.2 381.9,814.0 383.2,813.9 384.5,814.3 385.8,814.5 387.1,814.0 388.4,814.3 389.7,814.1 391.0,814.4 392.3,814.2 393.6,814.0 395.0,813.9 396.3,813.7 397.6,814.1 398.9,814.0 400.2,813.8 401.5,814.0 402.8,813.9 404.1,814.2 405.4,813.7 406.7,814.3 408.0,813.8 408.3,813.9 408.7,813.8 409.0,814.0 409.4,814.0 409.7,813.7 410.1,813.6 410.4,813.7 410.8,813.7 411.1,813.3 411.5,813.4 411.8,813.4 412.2,812.8 412.5,812.4 412.9,812.1 413.2,812.0 413.6,811.5 413.9,811.1 414.3,810.3 414.6,808.9 415.0,807.9 415.3,806.8 415.7,805.6 416.0,804.7 416.4,803.6 416.7,802.5 417.0,801.1 417.4,800.9 417.7,800.2 418.1,800.3 418.4,801.1 418.8,801.4 419.1,802.5 419.5,804.2 419.8,805.0 420.2,806.3 420.5,807.6 420.9,808.8 421.2,809.2 421.6,810.3 421.9,811.0 422.3,811.6 422.6,811.9 423.0,812.6 423.3,813.1 423.7,812.9 424.0,813.2 424.4,813.0 424.7,813.3 425.0,813.7 425.4,813.3 425.7,814.0 426.1,814.1 426.4,813.5 426.8,814.2 427.1,813.8 427.5,814.1 427.8,814.1 428.2,813.8 428.5,814.1 429.8,814.2 431.1,814.3 432.4,813.9 433.7,814.4 435.1,814.6 436.4,814.4 437.7,814.3 439.0,813.9 440.3,814.3 441.6,814.2 442.9,814.5 444.2,814.4 445.5,814.4 446.8,814.1 448.1,814.4 449.4,814.4 450.7,814.1 452.0,814.6 453.3,814.5 454.6,814.0 455.9,814.7 457.2,814.1 458.5,814.2 459.8,814.5 461.1,814.4 462.5,814.4 463.8,814.5 465.1,814.3 466.4,814.2 467.7,814.1 469.0,814.0 470.3,814.5 471.6,814.5 472.9,814.3 474.2,814.5 475.5,814.1 475.8,814.0 476.2,814.1 476.5,814.5 476.9,813.8 477.2,814.1 477.6,813.9 477.9,814.3 478.3,813.9 478.6,813.9 479.0,813.8 479.3,813.9 479.7,813.9 480.0,813.5 480.4,813.7 480.7,812.9 481.1,812.7 481.4,812.3 481.8,811.9 482.1,812.0 482.5,811.4 482.8,810.4 483.2,809.8 483.5,809.4 483.9,809.0 484.2,808.5 484.5,808.0 484.9,807.5 485.2,806.9 485.6,807.2 485.9,807.1 486.3,807.7 486.6,808.1 487.0,808.1 487.3,808.5 487.7,809.2 488.0,808.8 488.4,809.5 488.7,809.7 489.1,809.8 489.4,809.4 489.8,809.6 490.1,809.7 490.5,809.9 490.8,810.3 491.2,810.4 491.5,810.3 491.9,811.1 492.2,811.2 492.5,811.7 492.9,812.2 493.2,812.0 493.6,813.0 493.9,813.2 494.3,813.4 494.6,813.6 495.0,813.8 495.3,813.7 495.7,814.1 496.0,813.8 497.3,814.3 498.6,814.5 499.9,814.4 501.2,814.5 502.6,814.8 503.9,814.8 505.2,814.2 506.5,814.7 507.8,814.6 509.1,814.1 510.4,814.4 511.7,814.3 513.0,814.2 514.3,814.6 515.6,814.9 516.9,814.4 518.2,814.8 519.5,814.7 520.8,814.3 522.1,814.8 523.4,814.6 524.7,814.9 526.0,814.7 527.3,814.8 528.6,814.4 530.0,814.8 531.3,814.9 532.6,814.9 533.9,814.5 535.2,814.8 536.5,814.6 537.8,814.2 539.1,814.2 540.4,814.2 541.7,814.3 542.0,814.2 542.4,814.5 542.7,814.7 543.1,814.5 543.4,814.4 543.8,814.6 544.1,814.3 544.5,814.4 544.8,814.6 545.2,814.3 545.5,814.1 545.9,814.6 546.2,814.4 546.6,814.1 546.9,814.0 547.3,814.0 547.6,813.9 548.0,813.5 548.3,813.1 548.7,813.1 549.0,813.3 549.3,812.5 549.7,812.4 550.0,811.9 550.4,811.6 550.7,811.3 551.1,811.3 551.4,810.9 551.8,810.8 552.1,810.9 552.5,811.1 552.8,811.6 553.2,811.5 553.5,811.8 553.9,812.4 554.2,812.7 554.6,813.2 554.9,812.9 555.3,813.5 555.6,813.6 556.0,813.5 556.3,814.4 556.7,813.9 557.0,813.9 557.4,814.3 557.7,814.1 558.0,814.5 558.4,814.3 558.7,814.2 559.1,814.1 559.4,814.7 559.8,814.3 560.1,814.8 560.5,814.5 560.8,814.9 561.2,814.4 561.5,814.4 561.9,814.4 562.2,814.8 563.5,814.7 564.8,814.5 566.1,814.3 567.4,814.8 568.7,815.0 570.1,814.7 571.4,814.3 572.7,814.3 574.0,814.3 575.3,814.4 576.6,814.3 577.9,814.3 579.2,814.8 580.5,815.0 581.8,814.4 583.1,815.1 584.4,814.7 585.7,814.9 587.0,815.0 588.3,815.0 589.6,814.3 590.9,814.5 592.2,814.8 593.5,815.0 594.8,814.3 596.1,814.5 597.5,814.9 598.8,814.3 600.1,814.5 601.4,814.4 602.7,814.6 604.0,814.7 604.3,814.1 604.7,814.5 605.0,814.4 605.4,814.5 605.7,814.2 606.1,814.4 606.4,813.9 606.8,813.8 607.1,813.5 607.5,813.8 607.8,813.4 608.2,813.0 608.5,812.7 608.8,812.9 609.2,812.5 609.5,812.2 609.9,811.6 610.2,811.3 610.6,810.5 610.9,810.5 611.3,809.4 611.6,809.2 612.0,808.9 612.3,808.4 612.7,807.4 613.0,807.0 613.4,807.1 613.7,806.7 614.1,806.7 614.4,806.6 614.8,806.4 615.1,806.9 615.5,807.1 615.8,807.1 616.2,807.6 616.5,807.9 616.8,808.7 617.2,809.7 617.5,809.5 617.9,810.4 618.2,810.5 618.6,811.0 618.9,811.8 619.3,811.9 619.6,812.1 620.0,812.5 620.3,813.1 620.7,813.3 621.0,813.1 621.4,813.4 621.7,814.2 622.1,813.7 622.4,814.1 622.8,814.0 623.1,814.4 623.5,814.3 623.8,814.5 624.2,814.4 624.5,814.1 624.9,814.2 626.2,814.2 627.5,814.8 628.8,814.3 630.1,814.3 631.4,815.1 632.7,814.5 634.0,815.1 635.3,814.4 636.6,814.8 637.9,814.6" fill="none" stroke="#8a14f5" stroke-width="3.0" stroke-linejoin="round" stroke-linecap="round"/>
<polyline points="72.5,782.1 73.8,782.0 75.1,782.0 76.4,782.1 77.7,782.2 79.0,781.8 80.3,782.0 81.6,781.8 82.9,781.6 84.2,782.2 85.5,782.0 86.9,782.2 88.2,781.7 89.5,781.9 90.8,781.9 92.1,782.1 93.4,781.6 94.7,781.8 96.0,781.9 97.3,781.6 98.6,782.0 99.9,782.1 101.2,781.9 102.5,782.0 103.8,782.0 105.1,781.7 106.4,781.8 107.7,782.3 109.0,781.8 110.3,781.9 111.6,781.6 112.9,781.7 114.3,781.6 115.6,782.2 116.9,782.1 118.2,782.2 119.5,782.3 120.8,781.9 122.1,782.2 123.4,781.9 124.7,781.7 126.0,782.1 127.3,782.1 128.6,782.1 129.9,781.7 131.2,781.9 132.5,781.5 133.8,781.9 135.1,781.7 136.4,781.1 137.7,781.4 139.0,780.6 140.3,780.2 140.7,780.6 141.0,780.1 141.4,780.1 141.7,780.0 142.1,779.3 142.4,779.7 142.8,779.1 143.1,778.9 143.5,778.5 143.8,778.3 144.2,777.8 144.5,776.8 144.9,775.7 145.2,774.6 145.6,772.9 145.9,770.1 146.3,766.5 146.6,761.9 147.0,754.9 147.3,746.3 147.7,735.5 148.0,722.9 148.4,709.3 148.7,696.6 149.0,686.9 149.4,682.3 149.7,684.0 150.1,691.5 150.4,702.8 150.8,716.3 151.1,728.8 151.5,740.7 151.8,750.9 152.2,758.7 152.5,764.3 152.9,768.6 153.2,772.1 153.6,773.6 153.9,775.2 154.3,776.6 154.6,777.4 155.0,777.7 155.3,778.0 155.7,778.6 156.0,779.3 156.4,779.4 156.7,780.0 157.0,780.1 157.4,780.4 157.7,779.8 158.1,780.1 158.4,780.1 158.8,780.5 159.1,780.6 159.5,780.4 159.8,780.9 160.2,780.6 161.5,781.0 162.8,781.2 164.1,781.7 165.4,781.5 166.7,781.5 168.0,781.4 169.3,781.7 170.6,781.9 171.9,782.0 173.2,782.2 174.5,782.2 175.8,781.7 177.1,781.7 178.4,782.2 179.8,782.2 181.1,782.0 182.4,782.2 183.7,782.0 185.0,781.8 186.3,781.6 187.6,781.4 188.9,781.8 190.2,781.8 191.5,781.4 192.8,780.9 194.1,781.4 195.4,781.9 196.7,782.1 198.0,782.0 199.3,781.9 200.6,782.0 201.9,781.8 203.2,781.8 204.5,782.1 205.8,782.2 207.2,781.4 208.5,781.6 209.8,781.9 211.1,782.1 212.4,782.4 213.7,782.1 215.0,782.5 216.3,781.9 217.6,782.0 218.9,782.2 220.2,782.1 221.5,782.5 222.8,782.5 224.1,782.5 225.4,782.3 226.7,781.8 228.0,782.3 229.3,782.2 230.6,782.2 231.9,782.0 233.2,782.4 234.6,782.5 235.9,781.9 237.2,782.3 238.5,782.0 239.8,782.1 241.1,782.4 242.4,782.4 243.7,782.1 245.0,781.7 246.3,782.2 247.6,781.4 247.9,781.6 248.3,781.9 248.6,781.4 249.0,781.3 249.3,781.7 249.7,781.6 250.0,781.0 250.4,781.0 250.7,780.7 251.1,780.4 251.4,780.2 251.8,780.4 252.1,779.2 252.5,778.7 252.8,777.8 253.2,776.7 253.5,775.8 253.9,774.4 254.2,772.7 254.6,770.5 254.9,768.4 255.3,765.4 255.6,763.3 256.0,761.7 256.3,759.3 256.6,758.4 257.0,758.4 257.3,758.8 257.7,760.5 258.0,762.0 258.4,764.4 258.7,767.3 259.1,769.0 259.4,771.7 259.8,773.1 260.1,775.4 260.5,776.6 260.8,777.7 261.2,778.2 261.5,778.9 261.9,780.0 262.2,780.0 262.6,780.3 262.9,781.1 263.3,781.3 263.6,780.8 264.0,781.6 264.3,781.4 264.6,781.4 265.0,781.2 265.3,781.5 265.7,782.1 266.0,781.5 266.4,781.5 266.7,781.5 267.1,781.5 267.4,781.8 268.7,782.3 270.0,781.7 271.3,781.9 272.7,782.5 274.0,782.6 275.3,782.6 276.6,782.1 277.9,782.2 279.2,782.7 280.5,782.3 281.8,782.5 283.1,782.2 284.4,782.0 285.7,782.2 287.0,782.6 288.3,782.6 289.6,782.4 290.9,782.4 292.2,782.4 293.5,782.4 294.8,782.4 296.1,782.7 297.4,782.2 298.7,782.5 300.1,782.8 301.4,782.7 302.7,782.2 304.0,782.8 305.3,782.7 306.6,782.2 307.9,782.3 309.2,782.2 310.5,782.1 311.8,782.8 313.1,782.4 314.4,782.7 315.7,782.1 317.0,782.0 318.3,782.7 319.6,782.6 320.9,782.8 322.2,782.5 323.5,782.4 324.8,782.6 326.1,782.0 327.5,782.3 328.8,782.2 330.1,781.9 331.4,782.2 332.7,781.8 333.0,781.9 333.4,781.8 333.7,781.7 334.1,781.6 334.4,781.8 334.8,782.0 335.1,781.9 335.5,781.7 335.8,781.6 336.2,781.0 336.5,781.3 336.8,780.5 337.2,780.0 337.5,779.9 337.9,779.5 338.2,778.5 338.6,777.8 338.9,776.3 339.3,775.4 339.6,773.3 340.0,771.3 340.3,769.0 340.7,766.8 341.0,764.4 341.4,761.5 341.7,759.3 342.1,757.7 342.4,756.4 342.8,756.7 343.1,757.9 343.5,759.5 343.8,761.2 344.2,764.3 344.5,766.5 344.8,769.4 345.2,771.2 345.5,773.1 345.9,775.1 346.2,776.8 346.6,777.6 346.9,778.9 347.3,779.5 347.6,779.8 348.0,780.2 348.3,780.7 348.7,780.9 349.0,781.1 349.4,781.4 349.7,781.7 350.1,781.6 350.4,781.4 350.8,781.5 351.1,781.7 351.5,781.9 351.8,781.6 352.2,781.6 352.5,781.9 352.9,781.9 353.2,781.7 354.5,782.2 355.8,782.6 357.1,782.4 358.4,782.6 359.7,782.7 361.0,782.7 362.3,782.8 363.6,782.5 364.9,782.7 366.2,782.2 367.6,782.9 368.9,782.5 370.2,782.6 371.5,782.9 372.8,782.4 374.1,782.4 375.4,782.9 376.7,782.7 378.0,782.3 379.3,782.3 380.6,782.5 381.9,782.3 383.2,782.9 384.5,782.4 385.8,782.5 387.1,782.6 388.4,782.7 389.7,782.6 391.0,782.8 392.3,782.8 393.6,782.6 395.0,782.3 396.3,783.1 397.6,782.8 398.9,782.3 400.2,782.6 401.5,782.8 402.8,783.0 404.1,782.3 405.4,782.2 406.7,782.5 408.0,782.4 408.3,782.8 408.7,782.7 409.0,782.3 409.4,782.3 409.7,782.5 410.1,782.7 410.4,782.1 410.8,782.2 411.1,781.9 411.5,782.2 411.8,781.6 412.2,782.2 412.5,781.7 412.9,781.6 413.2,780.9 413.6,780.7 413.9,780.5 414.3,780.3 414.6,779.5 415.0,778.6 415.3,778.5 415.7,777.5 416.0,776.6 416.4,775.5 416.7,774.9 417.0,774.7 417.4,773.7 417.7,773.8 418.1,774.0 418.4,774.1 418.8,774.9 419.1,775.7 419.5,776.4 419.8,777.1 420.2,777.5 420.5,778.1 420.9,779.1 421.2,779.6 421.6,780.0 421.9,781.0 422.3,780.9 422.6,781.7 423.0,782.0 423.3,781.5 423.7,782.3 424.0,782.0 424.4,782.0 424.7,782.0 425.0,782.0 425.4,782.4 425.7,782.3 426.1,782.7 426.4,782.7 426.8,782.1 427.1,782.4 427.5,782.5 427.8,782.3 428.2,782.4 428.5,782.4 429.8,782.8 431.1,782.6 432.4,782.4 433.7,782.5 435.1,782.7 436.4,782.8 437.7,782.6 439.0,783.0 440.3,782.6 441.6,782.9 442.9,782.9 444.2,782.6 445.5,783.0 446.8,782.8 448.1,782.9 449.4,782.9 450.7,783.0 452.0,782.8 453.3,782.5 454.6,783.1 455.9,783.2 457.2,782.9 458.5,782.9 459.8,782.7 461.1,783.2 462.5,783.0 463.8,782.7 465.1,783.1 466.4,783.3 467.7,782.8 469.0,783.3 470.3,782.9 471.6,782.6 472.9,783.0 474.2,782.7 475.5,783.0 475.8,782.9 476.2,782.5 476.5,782.8 476.9,783.0 477.2,782.7 477.6,782.7 477.9,783.0 478.3,782.6 478.6,782.6 479.0,782.6 479.3,782.8 479.7,782.2 480.0,782.0 480.4,782.4 480.7,782.1 481.1,781.7 481.4,781.9 481.8,781.7 482.1,781.1 482.5,781.1 482.8,780.5 483.2,780.0 483.5,779.2 483.9,778.5 484.2,778.7 484.5,778.4 484.9,777.8 485.2,777.8 485.6,777.9 485.9,777.7 486.3,778.3 486.6,778.4 487.0,778.5 487.3,778.5 487.7,779.1 488.0,779.0 488.4,779.5 488.7,779.1 489.1,779.3 489.4,779.2 489.8,779.4 490.1,779.6 490.5,779.3 490.8,779.4 491.2,779.9 491.5,779.9 491.9,780.4 492.2,780.4 492.5,780.6 492.9,781.3 493.2,781.9 493.6,782.1 493.9,782.0 494.3,782.1 494.6,782.0 495.0,782.3 495.3,782.5 495.7,783.1 496.0,782.5 497.3,783.2 498.6,782.9 499.9,782.9 501.2,782.8 502.6,783.3 503.9,782.7 505.2,783.1 506.5,783.0 507.8,782.8 509.1,782.8 510.4,783.4 511.7,783.3 513.0,783.2 514.3,783.4 515.6,782.7 516.9,783.2 518.2,783.3 519.5,782.8 520.8,783.0 522.1,783.4 523.4,782.9 524.7,783.3 526.0,782.8 527.3,783.2 528.6,782.9 530.0,783.1 531.3,783.0 532.6,783.4 533.9,783.3 535.2,783.1 536.5,783.2 537.8,783.0 539.1,783.3 540.4,782.9 541.7,783.1 542.0,783.1 542.4,783.0 542.7,782.7 543.1,782.8 543.4,783.2 543.8,782.8 544.1,783.3 544.5,783.0 544.8,783.4 545.2,783.3 545.5,783.2 545.9,782.9 546.2,782.6 546.6,783.0 546.9,783.1 547.3,783.2 547.6,782.5 548.0,782.4 548.3,783.0 548.7,782.6 549.0,782.3 549.3,782.4 549.7,781.7 550.0,781.9 550.4,781.8 550.7,781.7 551.1,781.2 551.4,781.1 551.8,781.5 552.1,781.7 552.5,781.2 552.8,781.2 553.2,781.4 553.5,782.1 553.9,781.9 554.2,782.2 554.6,782.7 554.9,782.6 555.3,782.4 555.6,782.8 556.0,782.4 556.3,782.7 556.7,783.1 557.0,782.7 557.4,782.6 557.7,783.0 558.0,782.9 558.4,783.4 558.7,782.7 559.1,783.3 559.4,783.0 559.8,783.3 560.1,783.1 560.5,783.2 560.8,783.0 561.2,782.9 561.5,783.1 561.9,783.4 562.2,783.0 563.5,782.9 564.8,783.1 566.1,782.8 567.4,783.0 568.7,783.2 570.1,783.2 571.4,783.3 572.7,783.0 574.0,782.8 575.3,782.8 576.6,783.1 577.9,783.0 579.2,783.3 580.5,783.0 581.8,783.4 583.1,783.3 584.4,783.3 585.7,783.4 587.0,783.2 588.3,783.2 589.6,783.1 590.9,782.9 592.2,783.4 593.5,783.2 594.8,782.9 596.1,783.5 597.5,783.2 598.8,783.3 600.1,783.1 601.4,782.8 602.7,783.5 604.0,782.8 604.3,782.9 604.7,783.4 605.0,782.6 605.4,782.9 605.7,782.9 606.1,782.6 606.4,783.1 606.8,782.6 607.1,782.2 607.5,782.5 607.8,782.0 608.2,782.5 608.5,782.4 608.8,782.3 609.2,781.4 609.5,781.7 609.9,781.1 610.2,781.0 610.6,780.6 610.9,780.3 611.3,779.8 611.6,779.8 612.0,779.1 612.3,779.4 612.7,778.4 613.0,778.8 613.4,777.9 613.7,777.7 614.1,778.1 614.4,777.9 614.8,778.1 615.1,778.0 615.5,778.3 615.8,778.1 616.2,778.9 616.5,779.1 616.8,779.8 617.2,779.4 617.5,779.8 617.9,780.6 618.2,781.1 618.6,781.0 618.9,781.5 619.3,781.6 619.6,781.7 620.0,782.0 620.3,782.3 620.7,781.9 621.0,782.3 621.4,782.8 621.7,782.5 622.1,782.7 622.4,782.6 622.8,782.8 623.1,783.0 623.5,783.2 623.8,783.4 624.2,783.0 624.5,782.8 624.9,782.9 626.2,782.8 627.5,783.0 628.8,783.3 630.1,783.3 631.4,783.1 632.7,783.0 634.0,783.0 635.3,783.1 636.6,783.3 637.9,783.1" fill="none" stroke="#000000" stroke-width="3.0" stroke-linejoin="round" stroke-linecap="round"/>
<polyline points="72.5,750.3 73.8,750.0 75.1,749.9 76.4,749.9 77.7,749.6 79.0,750.2 80.3,750.2 81.6,749.9 82.9,750.2 84.2,749.8 85.5,749.8 86.9,749.8 88.2,749.8 89.5,750.1 90.8,750.1 92.1,750.2 93.4,749.7 94.7,750.2 96.0,750.0 97.3,749.9 98.6,750.0 99.9,750.0 101.2,749.8 102.5,749.9 103.8,750.1 105.1,750.2 106.4,750.3 107.7,749.8 109.0,750.3 110.3,750.2 111.6,750.2 112.9,750.4 114.3,749.7 115.6,750.2 116.9,750.3 118.2,749.7 119.5,750.0 120.8,750.3 122.1,749.8 123.4,750.2 124.7,750.2 126.0,749.8 127.3,749.6 128.6,749.6 129.9,750.1 131.2,749.7 132.5,749.5 133.8,749.6 135.1,749.8 136.4,749.2 137.7,748.8 139.0,749.3 140.3,748.4 140.7,748.4 141.0,748.7 141.4,748.0 141.7,747.7 142.1,748.1 142.4,747.4 142.8,747.1 143.1,747.4 143.5,746.5 143.8,746.6 144.2,745.6 144.5,744.9 144.9,743.9 145.2,742.9 145.6,741.2 145.9,738.5 146.3,734.9 146.6,729.6 147.0,723.1 147.3,714.3 147.7,703.4 148.0,691.0 148.4,677.2 148.7,664.8 149.0,654.9 149.4,650.1 149.7,652.4 150.1,659.9 150.4,671.4 150.8,684.2 151.1,696.8 151.5,708.8 151.8,718.3 152.2,726.9 152.5,732.3 152.9,736.7 153.2,740.3 153.6,741.9 153.9,743.9 154.3,744.5 154.6,745.6 155.0,745.7 155.3,746.8 155.7,746.8 156.0,747.1 156.4,747.6 156.7,747.8 157.0,747.7 157.4,747.8 157.7,748.4 158.1,748.1 158.4,748.9 158.8,748.6 159.1,748.5 159.5,748.8 159.8,748.7 160.2,748.9 161.5,749.3 162.8,749.4 164.1,749.5 165.4,749.5 166.7,749.8 168.0,750.1 169.3,749.8 170.6,750.1 171.9,749.9 173.2,749.7 174.5,749.8 175.8,750.3 177.1,750.0 178.4,750.0 179.8,750.1 181.1,750.4 182.4,750.0 183.7,750.0 185.0,749.9 186.3,749.6 187.6,750.0 188.9,749.8 190.2,749.5 191.5,749.1 192.8,749.0 194.1,749.5 195.4,749.4 196.7,750.3 198.0,749.7 199.3,750.4 200.6,749.9 201.9,750.4 203.2,749.9 204.5,749.7 205.8,749.9 207.2,749.7 208.5,750.1 209.8,750.4 211.1,750.6 212.4,749.9 213.7,750.2 215.0,749.9 216.3,750.5 217.6,750.2 218.9,750.5 220.2,750.5 221.5,750.7 222.8,750.4 224.1,750.6 225.4,750.3 226.7,750.0 228.0,750.6 229.3,750.0 230.6,750.0 231.9,750.5 233.2,750.1 234.6,750.4 235.9,749.9 237.2,750.0 238.5,750.4 239.8,749.8 241.1,750.2 242.4,750.5 243.7,749.8 245.0,750.1 246.3,750.1 247.6,749.8 247.9,749.9 248.3,749.8 248.6,749.1 249.0,749.2 249.3,749.4 249.7,749.6 250.0,748.9 250.4,749.0 250.7,748.5 251.1,748.8 251.4,748.2 251.8,747.8 252.1,747.4 252.5,746.2 252.8,745.8 253.2,744.7 253.5,743.3 253.9,741.1 254.2,739.0 254.6,736.7 254.9,734.8 255.3,731.7 255.6,729.1 256.0,726.8 256.3,725.1 256.6,723.6 257.0,723.4 257.3,724.4 257.7,726.0 258.0,727.8 258.4,730.1 258.7,733.5 259.1,735.9 259.4,738.2 259.8,740.2 260.1,742.6 260.5,743.7 260.8,744.9 261.2,745.8 261.5,746.8 261.9,747.7 262.2,747.9 262.6,748.8 262.9,748.8 263.3,748.9 263.6,749.2 264.0,749.3 264.3,749.4 264.6,749.4 265.0,749.6 265.3,749.6 265.7,749.9 266.0,749.5 266.4,750.0 266.7,749.7 267.1,750.2 267.4,749.6 268.7,750.0 270.0,750.1 271.3,750.4 272.7,750.0 274.0,750.1 275.3,750.0 276.6,750.4 277.9,750.4 279.2,750.0 280.5,750.1 281.8,750.2 283.1,750.8 284.4,750.4 285.7,750.5 287.0,750.3 288.3,750.6 289.6,750.7 290.9,750.6 292.2,750.1 293.5,750.4 294.8,750.5 296.1,750.1 297.4,750.7 298.7,750.4 300.1,750.3 301.4,750.6 302.7,750.6 304.0,750.5 305.3,750.8 306.6,750.5 307.9,750.4 309.2,750.2 310.5,750.6 311.8,750.4 313.1,750.5 314.4,750.4 315.7,750.1 317.0,750.1 318.3,750.2 319.6,750.2 320.9,750.7 322.2,750.5 323.5,750.2 324.8,750.6 326.1,750.5 327.5,750.0 328.8,750.5 330.1,750.0 331.4,750.5 332.7,749.6 333.0,749.7 333.4,749.6 333.7,750.0 334.1,749.9 334.4,749.6 334.8,749.2 335.1,749.3 335.5,749.4 335.8,748.7 336.2,749.2 336.5,748.9 336.8,748.7 337.2,748.1 337.5,747.5 337.9,747.1 338.2,745.6 338.6,744.5 338.9,742.9 339.3,741.1 339.6,739.5 340.0,736.4 340.3,734.2 340.7,730.8 341.0,728.1 341.4,724.9 341.7,722.2 342.1,720.2 342.4,718.5 342.8,718.7 343.1,719.9 343.5,722.0 343.8,724.9 344.2,728.1 344.5,731.1 344.8,734.3 345.2,736.9 345.5,739.2 345.9,741.4 346.2,743.4 346.6,744.9 346.9,745.7 347.3,746.6 347.6,747.5 348.0,747.7 348.3,748.7 348.7,748.3 349.0,749.0 349.4,749.1 349.7,749.0 350.1,749.5 350.4,749.5 350.8,750.0 351.1,750.0 351.5,749.8 351.8,750.1 352.2,750.2 352.5,749.7 352.9,750.3 353.2,750.3 354.5,750.6 355.8,750.5 357.1,750.3 358.4,750.2 359.7,750.6 361.0,750.3 362.3,750.8 363.6,750.6 364.9,750.9 366.2,750.5 367.6,750.5 368.9,751.0 370.2,750.8 371.5,750.6 372.8,750.7 374.1,750.6 375.4,750.8 376.7,750.7 378.0,750.5 379.3,751.1 380.6,751.0 381.9,750.9 383.2,750.6 384.5,750.5 385.8,750.9 387.1,751.0 388.4,750.9 389.7,750.5 391.0,750.9 392.3,750.8 393.6,750.7 395.0,750.8 396.3,750.7 397.6,750.9 398.9,750.9 400.2,751.1 401.5,750.4 402.8,750.8 404.1,751.0 405.4,750.8 406.7,750.7 408.0,750.8 408.3,750.1 408.7,750.7 409.0,750.6 409.4,750.5 409.7,750.2 410.1,750.4 410.4,750.0 410.8,750.3 411.1,750.0 411.5,750.4 411.8,750.2 412.2,749.7 412.5,749.8 412.9,749.2 413.2,749.0 413.6,748.3 413.9,748.4 414.3,747.7 414.6,747.0 415.0,745.7 415.3,745.4 415.7,743.8 416.0,743.3 416.4,742.3 416.7,741.1 417.0,740.6 417.4,740.4 417.7,740.0 418.1,739.8 418.4,740.6 418.8,740.9 419.1,742.2 419.5,742.7 419.8,743.4 420.2,745.1 420.5,745.3 420.9,746.3 421.2,747.4 421.6,747.5 421.9,748.4 422.3,749.1 422.6,749.3 423.0,749.4 423.3,749.9 423.7,750.2 424.0,750.1 424.4,750.2 424.7,750.1 425.0,750.2 425.4,750.8 425.7,750.8 426.1,750.1 426.4,750.3 426.8,750.3 427.1,750.8 427.5,750.3 427.8,750.3 428.2,750.8 428.5,750.4 429.8,751.1 431.1,750.7 432.4,751.1 433.7,751.1 435.1,750.6 436.4,751.1 437.7,750.8 439.0,750.7 440.3,750.5 441.6,751.1 442.9,751.0 444.2,750.8 445.5,751.2 446.8,750.7 448.1,750.9 449.4,750.6 450.7,750.8 452.0,751.3 453.3,751.0 454.6,750.7 455.9,750.7 457.2,751.1 458.5,750.8 459.8,751.3 461.1,750.6 462.5,751.3 463.8,751.1 465.1,751.2 466.4,750.8 467.7,750.6 469.0,750.7 470.3,751.0 471.6,750.5 472.9,750.6 474.2,751.1 475.5,751.1 475.8,751.1 476.2,751.1 476.5,750.8 476.9,751.1 477.2,750.9 477.6,750.8 477.9,750.6 478.3,750.3 478.6,750.3 479.0,750.3 479.3,750.4 479.7,750.0 480.0,750.6 480.4,750.1 480.7,750.0 481.1,749.8 481.4,749.0 481.8,749.1 482.1,748.7 482.5,747.7 482.8,747.0 483.2,746.9 483.5,746.3 483.9,745.7 484.2,744.8 484.5,744.4 484.9,743.7 485.2,743.6 485.6,743.8 485.9,744.2 486.3,743.9 486.6,744.9 487.0,744.6 487.3,745.6 487.7,745.3 488.0,746.0 488.4,746.2 488.7,746.4 489.1,746.0 489.4,746.3 489.8,746.0 490.1,746.5 490.5,746.1 490.8,746.9 491.2,746.9 491.5,746.8 491.9,747.8 492.2,747.7 492.5,747.9 492.9,748.5 493.2,748.7 493.6,749.2 493.9,749.9 494.3,750.4 494.6,750.3 495.0,750.7 495.3,750.8 495.7,750.9 496.0,750.7 497.3,750.7 498.6,750.7 499.9,751.1 501.2,750.8 502.6,751.2 503.9,750.9 505.2,751.1 506.5,751.1 507.8,751.2 509.1,750.8 510.4,750.9 511.7,751.3 513.0,750.9 514.3,751.3 515.6,751.5 516.9,751.0 518.2,751.5 519.5,751.2 520.8,751.5 522.1,751.2 523.4,751.4 524.7,751.3 526.0,750.9 527.3,751.2 528.6,751.2 530.0,751.1 531.3,751.3 532.6,751.5 533.9,751.4 535.2,751.4 536.5,750.9 537.8,751.3 539.1,751.3 540.4,751.5 541.7,750.8 542.0,750.9 542.4,751.5 542.7,751.0 543.1,751.3 543.4,751.2 543.8,751.0 544.1,751.1 544.5,751.1 544.8,751.5 545.2,751.1 545.5,751.3 545.9,750.8 546.2,751.1 546.6,751.0 546.9,751.0 547.3,751.1 547.6,750.3 548.0,750.9 548.3,750.5 548.7,750.0 549.0,750.0 549.3,749.5 549.7,749.4 550.0,749.7 550.4,749.3 550.7,749.3 551.1,748.5 551.4,748.4 551.8,748.6 552.1,748.7 552.5,749.0 552.8,748.8 553.2,749.4 553.5,749.5 553.9,749.5 554.2,750.1 554.6,749.7 554.9,750.3 555.3,750.2 555.6,750.2 556.0,750.7 556.3,750.8 556.7,751.0 557.0,750.8 557.4,751.3 557.7,751.3 558.0,750.8 558.4,750.7 558.7,751.5 559.1,751.1 559.4,750.8 559.8,750.9 560.1,751.3 560.5,750.9 560.8,751.1 561.2,751.3 561.5,751.1 561.9,751.3 562.2,751.6 563.5,751.5 564.8,751.3 566.1,751.3 567.4,751.1 568.7,751.4 570.1,751.4 571.4,751.3 572.7,751.3 574.0,751.5 575.3,751.0 576.6,751.5 577.9,751.7 579.2,750.9 580.5,751.1 581.8,751.7 583.1,751.0 584.4,751.5 585.7,751.4 587.0,750.9 588.3,751.4 589.6,750.9 590.9,751.6 592.2,751.1 593.5,751.6 594.8,751.6 596.1,751.0 597.5,751.2 598.8,750.9 600.1,751.4 601.4,750.8 602.7,750.8 604.0,750.7 604.3,751.3 604.7,750.8 605.0,750.8 605.4,750.8 605.7,750.9 606.1,750.7 606.4,751.0 606.8,750.5 607.1,750.5 607.5,750.6 607.8,750.0 608.2,749.8 608.5,750.1 608.8,749.4 609.2,749.6 609.5,749.3 609.9,748.6 610.2,748.2 610.6,747.6 610.9,747.8 611.3,747.0 611.6,746.4 612.0,745.8 612.3,745.4 612.7,745.4 613.0,744.5 613.4,744.5 613.7,744.2 614.1,744.0 614.4,743.9 614.8,743.9 615.1,743.9 615.5,744.7 615.8,745.1 616.2,745.2 616.5,745.4 616.8,746.4 617.2,746.3 617.5,746.8 617.9,747.6 618.2,748.2 618.6,748.4 618.9,748.4 619.3,749.4 619.6,749.1 620.0,749.5 620.3,750.2 620.7,750.3 621.0,750.4 621.4,750.0 621.7,750.8 622.1,750.5 622.4,750.3 622.8,751.0 623.1,751.2 623.5,750.6 623.8,750.9 624.2,751.3 624.5,750.9 624.9,750.9 626.2,751.4 627.5,751.2 628.8,751.7 630.1,751.6 631.4,751.6 632.7,751.5 634.0,751.1 635.3,751.5 636.6,751.5 637.9,751.4" fill="none" stroke="#ff0000" stroke-width="3.0" stroke-linejoin="round" stroke-linecap="round"/>
<polyline points="72.5,721.0 73.8,720.8 75.1,720.7 76.4,721.3 77.7,720.9 79.0,720.7 80.3,721.4 81.6,721.0 82.9,721.1 84.2,720.9 85.5,720.7 86.9,720.9 88.2,721.3 89.5,720.8 90.8,721.3 92.1,720.9 93.4,721.3 94.7,720.8 96.0,721.0 97.3,720.7 98.6,720.7 99.9,721.0 101.2,720.9 102.5,721.0 103.8,720.8 105.1,720.9 106.4,720.9 107.7,721.3 109.0,720.7 110.3,720.9 111.6,721.3 112.9,721.1 114.3,720.8 115.6,721.4 116.9,720.7 118.2,720.7 119.5,720.6 120.8,720.9 122.1,721.2 123.4,720.8 124.7,720.7 126.0,721.1 127.3,720.5 128.6,720.4 129.9,720.9 131.2,720.4 132.5,720.7 133.8,720.3 135.1,720.6 136.4,720.7 137.7,720.2 139.0,719.8 140.3,719.7 140.7,719.6 141.0,719.0 141.4,719.0 141.7,718.9 142.1,718.8 142.4,718.4 142.8,718.5 143.1,717.8 143.5,718.0 143.8,717.1 144.2,716.5 144.5,715.7 144.9,714.9 145.2,713.7 145.6,712.4 145.9,709.5 146.3,705.8 146.6,701.1 147.0,694.2 147.3,685.2 147.7,674.0 148.0,661.6 148.4,648.5 148.7,635.8 149.0,626.0 149.4,621.2 149.7,622.8 150.1,630.8 150.4,642.1 150.8,655.1 151.1,668.1 151.5,679.9 151.8,689.9 152.2,697.2 152.5,703.8 152.9,707.9 153.2,710.8 153.6,713.5 153.9,714.8 154.3,715.5 154.6,716.1 155.0,717.0 155.3,717.5 155.7,717.8 156.0,717.9 156.4,718.6 156.7,718.5 157.0,719.2 157.4,719.2 157.7,719.1 158.1,719.7 158.4,719.5 158.8,719.4 159.1,719.6 159.5,719.5 159.8,719.9 160.2,720.4 161.5,720.6 162.8,720.6 164.1,720.3 165.4,720.5 166.7,720.5 168.0,720.7 169.3,721.0 170.6,720.5 171.9,721.0 173.2,720.9 174.5,721.1 175.8,721.3 177.1,721.0 178.4,721.2 179.8,720.9 181.1,721.0 182.4,721.2 183.7,720.7 185.0,721.1 186.3,721.0 187.6,720.7 188.9,720.6 190.2,720.8 191.5,720.1 192.8,719.8 194.1,720.2 195.4,720.7 196.7,720.8 198.0,720.9 199.3,720.9 200.6,720.9 201.9,721.1 203.2,721.2 204.5,720.8 205.8,721.0 207.2,720.3 208.5,721.2 209.8,721.4 211.1,720.9 212.4,721.4 213.7,721.1 215.0,721.0 216.3,721.6 217.6,721.6 218.9,721.5 220.2,721.4 221.5,721.7 222.8,721.4 224.1,721.5 225.4,721.4 226.7,721.6 228.0,721.6 229.3,721.2 230.6,721.1 231.9,721.4 233.2,721.4 234.6,721.2 235.9,721.6 237.2,721.6 238.5,721.4 239.8,721.3 241.1,721.4 242.4,721.0 243.7,721.4 245.0,720.8 246.3,721.4 247.6,721.1 247.9,720.7 248.3,720.6 248.6,720.9 249.0,720.8 249.3,720.9 249.7,720.3 250.0,720.9 250.4,720.4 250.7,720.3 251.1,720.4 251.4,720.1 251.8,719.6 252.1,719.2 252.5,718.8 252.8,717.9 253.2,717.3 253.5,716.8 253.9,715.0 254.2,713.7 254.6,712.7 254.9,710.7 255.3,709.0 255.6,707.3 256.0,705.9 256.3,704.3 256.6,703.9 257.0,703.1 257.3,704.2 257.7,704.9 258.0,706.6 258.4,708.0 258.7,710.1 259.1,711.5 259.4,713.3 259.8,714.6 260.1,716.2 260.5,717.2 260.8,717.6 261.2,718.8 261.5,719.5 261.9,719.3 262.2,719.6 262.6,720.5 262.9,720.7 263.3,720.2 263.6,720.8 264.0,721.0 264.3,720.5 264.6,721.0 265.0,720.7 265.3,721.1 265.7,721.0 266.0,721.0 266.4,720.7 266.7,721.2 267.1,721.2 267.4,720.9 268.7,720.8 270.0,720.9 271.3,721.1 272.7,721.7 274.0,721.6 275.3,721.7 276.6,721.6 277.9,721.1 279.2,721.3 280.5,721.8 281.8,721.7 283.1,721.9 284.4,721.7 285.7,721.7 287.0,721.7 288.3,721.8 289.6,721.4 290.9,721.1 292.2,721.4 293.5,721.1 294.8,721.3 296.1,721.6 297.4,721.4 298.7,721.3 300.1,721.2 301.4,721.4 302.7,721.6 304.0,721.6 305.3,721.9 306.6,721.2 307.9,721.4 309.2,721.2 310.5,721.9 311.8,721.7 313.1,721.7 314.4,721.8 315.7,721.2 317.0,721.9 318.3,721.4 319.6,721.6 320.9,721.5 322.2,721.7 323.5,721.3 324.8,721.3 326.1,721.3 327.5,721.6 328.8,721.4 330.1,721.1 331.4,721.2 332.7,721.2 333.0,721.0 333.4,721.2 333.7,721.3 334.1,721.1 334.4,721.2 334.8,720.7 335.1,721.1 335.5,721.1 335.8,720.7 336.2,720.1 336.5,720.0 336.8,720.4 337.2,720.2 337.5,719.7 337.9,719.1 338.2,718.5 338.6,717.4 338.9,716.8 339.3,716.0 339.6,714.0 340.0,712.6 340.3,711.0 340.7,708.8 341.0,706.5 341.4,704.5 341.7,703.1 342.1,701.9 342.4,701.1 342.8,700.7 343.1,701.7 343.5,703.1 343.8,704.6 344.2,706.9 344.5,708.6 344.8,710.5 345.2,712.2 345.5,714.4 345.9,715.8 346.2,716.4 346.6,717.4 346.9,718.4 347.3,718.9 347.6,719.7 348.0,719.7 348.3,720.2 348.7,720.4 349.0,720.4 349.4,721.0 349.7,720.7 350.1,720.9 350.4,721.1 350.8,720.9 351.1,720.8 351.5,721.5 351.8,721.4 352.2,721.2 352.5,721.2 352.9,721.4 353.2,721.1 354.5,721.0 355.8,721.5 357.1,721.8 358.4,721.2 359.7,722.0 361.0,721.5 362.3,722.0 363.6,721.9 364.9,721.5 366.2,721.4 367.6,722.0 368.9,722.1 370.2,721.9 371.5,721.8 372.8,721.8 374.1,722.0 375.4,722.0 376.7,722.0 378.0,721.6 379.3,722.0 380.6,722.1 381.9,721.8 383.2,721.4 384.5,721.5 385.8,721.9 387.1,721.7 388.4,722.1 389.7,721.9 391.0,721.9 392.3,721.5 393.6,721.8 395.0,722.0 396.3,722.1 397.6,722.1 398.9,721.6 400.2,721.8 401.5,722.1 402.8,721.4 404.1,721.4 405.4,721.5 406.7,721.9 408.0,721.5 408.3,721.8 408.7,721.9 409.0,721.8 409.4,721.2 409.7,721.7 410.1,721.7 410.4,721.6 410.8,721.7 411.1,721.6 411.5,721.4 411.8,721.5 412.2,721.1 412.5,720.6 412.9,720.6 413.2,720.9 413.6,720.1 413.9,719.8 414.3,719.7 414.6,719.1 415.0,718.6 415.3,717.7 415.7,717.1 416.0,716.0 416.4,715.4 416.7,714.7 417.0,714.5 417.4,714.1 417.7,713.6 418.1,714.1 418.4,713.9 418.8,714.6 419.1,714.9 419.5,716.0 419.8,716.4 420.2,717.8 420.5,718.0 420.9,718.9 421.2,719.2 421.6,719.5 421.9,720.3 422.3,720.2 422.6,720.7 423.0,721.0 423.3,721.4 423.7,721.3 424.0,720.9 424.4,721.3 424.7,721.8 425.0,721.8 425.4,721.4 425.7,721.3 426.1,721.4 426.4,721.8 426.8,721.4 427.1,722.0 427.5,721.5 427.8,721.8 428.2,721.9 428.5,721.5 429.8,721.8 431.1,721.9 432.4,721.6 433.7,721.9 435.1,722.0 436.4,722.2 437.7,721.7 439.0,721.6 440.3,721.9 441.6,722.0 442.9,721.9 444.2,722.3 445.5,721.7 446.8,721.9 448.1,721.9 449.4,721.7 450.7,721.9 452.0,721.9 453.3,721.9 454.6,722.2 455.9,722.4 457.2,722.3 458.5,721.7 459.8,721.9 461.1,722.3 462.5,721.6 463.8,721.7 465.1,721.6 466.4,722.3 467.7,722.0 469.0,721.9 470.3,721.6 471.6,722.3 472.9,722.3 474.2,722.1 475.5,722.2 475.8,721.9 476.2,721.7 476.5,721.6 476.9,721.7 477.2,721.5 477.6,721.7 477.9,721.4 478.3,721.3 478.6,722.0 479.0,721.9 479.3,721.8 479.7,721.3 480.0,721.3 480.4,721.2 480.7,721.2 481.1,720.6 481.4,720.5 481.8,720.2 482.1,720.0 482.5,719.2 482.8,718.4 483.2,718.2 483.5,718.1 483.9,717.0 484.2,716.8 484.5,716.0 484.9,715.8 485.2,716.0 485.6,715.6 485.9,716.0 486.3,716.3 486.6,716.4 487.0,717.0 487.3,717.4 487.7,717.2 488.0,717.7 488.4,717.9 488.7,717.8 489.1,717.9 489.4,717.9 489.8,718.1 490.1,718.1 490.5,717.9 490.8,718.3 491.2,718.6 491.5,718.7 491.9,719.3 492.2,719.2 492.5,719.7 492.9,720.1 493.2,720.4 493.6,720.4 493.9,721.1 494.3,720.8 494.6,721.4 495.0,721.5 495.3,721.8 495.7,722.0 496.0,722.2 497.3,721.8 498.6,722.3 499.9,722.0 501.2,722.1 502.6,721.7 503.9,722.4 505.2,721.9 506.5,721.9 507.8,721.9 509.1,721.9 510.4,721.9 511.7,722.0 513.0,722.2 514.3,722.0 515.6,722.3 516.9,722.5 518.2,722.5 519.5,722.1 520.8,722.3 522.1,722.3 523.4,722.3 524.7,722.1 526.0,721.9 527.3,722.4 528.6,722.3 530.0,722.1 531.3,722.3 532.6,721.8 533.9,722.4 535.2,722.5 536.5,722.6 537.8,721.9 539.1,722.3 540.4,722.4 541.7,721.9 542.0,722.2 542.4,721.9 542.7,721.9 543.1,721.8 543.4,722.0 543.8,722.4 544.1,722.2 544.5,722.3 544.8,722.5 545.2,721.8 545.5,722.3 545.9,722.3 546.2,722.1 546.6,721.8 546.9,721.6 547.3,721.8 547.6,721.6 548.0,721.4 548.3,721.6 548.7,721.4 549.0,720.9 549.3,720.7 549.7,720.7 550.0,720.7 550.4,720.5 550.7,720.3 551.1,720.3 551.4,720.1 551.8,719.8 552.1,720.1 552.5,720.1 552.8,720.0 553.2,720.1 553.5,720.4 553.9,720.9 554.2,721.2 554.6,721.0 554.9,721.4 555.3,721.1 555.6,721.7 556.0,721.7 556.3,722.0 556.7,722.2 557.0,721.6 557.4,722.4 557.7,721.8 558.0,722.5 558.4,722.5 558.7,721.9 559.1,722.0 559.4,721.9 559.8,722.5 560.1,722.4 560.5,722.6 560.8,722.4 561.2,722.1 561.5,722.4 561.9,722.1 562.2,722.1 563.5,722.2 564.8,722.4 566.1,722.1 567.4,722.3 568.7,722.3 570.1,722.5 571.4,722.3 572.7,722.2 574.0,722.3 575.3,722.3 576.6,722.5 577.9,722.0 579.2,722.0 580.5,721.9 581.8,722.2 583.1,722.6 584.4,722.4 585.7,722.4 587.0,722.7 588.3,722.6 589.6,722.1 590.9,722.1 592.2,722.3 593.5,722.1 594.8,722.4 596.1,721.9 597.5,722.2 598.8,722.4 600.1,722.0 601.4,721.9 602.7,722.4 604.0,721.9 604.3,722.4 604.7,722.1 605.0,722.3 605.4,722.0 605.7,721.9 606.1,721.7 606.4,721.5 606.8,722.1 607.1,721.4 607.5,721.2 607.8,721.8 608.2,721.3 608.5,721.2 608.8,721.3 609.2,720.9 609.5,720.3 609.9,720.0 610.2,720.0 610.6,719.7 610.9,719.0 611.3,718.7 611.6,718.5 612.0,717.8 612.3,718.0 612.7,717.5 613.0,716.8 613.4,716.9 613.7,716.7 614.1,716.1 614.4,716.4 614.8,716.7 615.1,716.6 615.5,717.0 615.8,716.9 616.2,717.8 616.5,717.9 616.8,718.2 617.2,718.1 617.5,718.8 617.9,718.9 618.2,719.6 618.6,719.7 618.9,720.0 619.3,720.4 619.6,720.5 620.0,720.8 620.3,721.2 620.7,721.0 621.0,721.5 621.4,722.0 621.7,721.9 622.1,722.2 622.4,721.6 622.8,722.1 623.1,721.8 623.5,722.4 623.8,722.1 624.2,722.3 624.5,722.4 624.9,721.9 626.2,721.9 627.5,722.5 628.8,722.6 630.1,722.3 631.4,722.0 632.7,722.0 634.0,722.6 635.3,722.6 636.6,722.3 637.9,722.6" fill="none" stroke="#0000ff" stroke-width="3.0" stroke-linejoin="round" stroke-linecap="round"/>
<polyline points="72.5,689.7 73.8,689.1 75.1,689.7 76.4,689.9 77.7,689.8 79.0,689.8 80.3,689.4 81.6,689.6 82.9,689.2 84.2,689.7 85.5,689.6 86.9,689.4 88.2,689.1 89.5,689.2 90.8,689.4 92.1,689.8 93.4,689.5 94.7,689.8 96.0,689.3 97.3,689.3 98.6,689.3 99.9,689.3 101.2,689.7 102.5,689.4 103.8,689.4 105.1,689.7 106.4,689.5 107.7,689.8 109.0,689.7 110.3,689.8 111.6,689.4 112.9,689.4 114.3,689.5 115.6,689.9 116.9,689.8 118.2,689.5 119.5,689.5 120.8,689.1 122.1,689.7 123.4,689.5 124.7,689.3 126.0,689.1 127.3,689.3 128.6,689.5 129.9,689.1 131.2,689.1 132.5,689.2 133.8,689.1 135.1,688.6 136.4,688.5 137.7,688.6 139.0,688.6 140.3,688.0 140.7,687.6 141.0,687.6 141.4,687.4 141.7,687.7 142.1,687.1 142.4,687.5 142.8,686.7 143.1,686.3 143.5,685.8 143.8,685.7 144.2,685.2 144.5,684.8 144.9,683.8 145.2,682.4 145.6,680.3 145.9,678.4 146.3,674.2 146.6,669.1 147.0,662.1 147.3,653.6 147.7,642.8 148.0,630.1 148.4,616.8 148.7,604.1 149.0,594.7 149.4,590.1 149.7,591.2 150.1,598.9 150.4,610.8 150.8,623.8 151.1,636.3 151.5,648.7 151.8,658.4 152.2,666.2 152.5,671.9 152.9,676.8 153.2,679.4 153.6,681.7 153.9,683.5 154.3,684.4 154.6,684.7 155.0,685.2 155.3,685.8 155.7,686.1 156.0,687.0 156.4,687.0 156.7,687.2 157.0,687.3 157.4,687.6 157.7,687.8 158.1,688.1 158.4,688.0 158.8,688.5 159.1,688.6 159.5,688.7 159.8,688.7 160.2,688.3 161.5,688.7 162.8,689.2 164.1,689.0 165.4,689.3 166.7,689.0 168.0,689.6 169.3,689.3 170.6,689.3 171.9,689.7 173.2,689.2 174.5,689.1 175.8,689.5 177.1,689.5 178.4,689.3 179.8,689.5 181.1,689.8 182.4,689.9 183.7,689.9 185.0,689.8 186.3,689.2 187.6,689.3 188.9,689.3 190.2,688.7 191.5,688.9 192.8,688.4 194.1,689.1 195.4,689.3 196.7,689.2 198.0,689.4 199.3,689.6 200.6,689.4 201.9,689.3 203.2,689.6 204.5,689.4 205.8,689.2 207.2,689.2 208.5,689.5 209.8,689.5 211.1,689.3 212.4,690.0 213.7,689.6 215.0,689.5 216.3,690.0 217.6,690.1 218.9,689.6 220.2,689.8 221.5,690.1 222.8,689.8 224.1,689.7 225.4,689.6 226.7,689.4 228.0,690.1 229.3,690.1 230.6,689.6 231.9,689.9 233.2,689.6 234.6,690.0 235.9,689.7 237.2,690.0 238.5,689.8 239.8,689.4 241.1,689.8 242.4,689.9 243.7,689.3 245.0,689.3 246.3,689.4 247.6,689.7 247.9,689.9 248.3,689.4 248.6,689.7 249.0,689.5 249.3,689.1 249.7,689.2 250.0,689.4 250.4,689.1 250.7,689.0 251.1,689.0 251.4,688.3 251.8,688.4 252.1,688.1 252.5,687.7 252.8,687.2 253.2,686.2 253.5,685.5 253.9,684.5 254.2,683.0 254.6,682.2 254.9,680.8 255.3,679.0 255.6,677.3 256.0,675.8 256.3,674.8 256.6,674.0 257.0,673.8 257.3,674.8 257.7,675.2 258.0,676.4 258.4,678.3 258.7,679.3 259.1,681.1 259.4,682.7 259.8,684.2 260.1,684.9 260.5,685.7 260.8,687.2 261.2,687.0 261.5,687.8 261.9,688.3 262.2,688.9 262.6,688.6 262.9,688.7 263.3,688.9 263.6,689.1 264.0,689.0 264.3,689.6 264.6,689.4 265.0,689.6 265.3,689.3 265.7,689.6 266.0,689.9 266.4,689.4 266.7,690.0 267.1,689.5 267.4,689.8 268.7,690.1 270.0,689.7 271.3,690.2 272.7,689.8 274.0,689.8 275.3,690.2 276.6,690.0 277.9,689.6 279.2,689.7 280.5,690.0 281.8,689.8 283.1,689.6 284.4,690.2 285.7,689.9 287.0,690.3 288.3,689.9 289.6,689.8 290.9,690.0 292.2,690.3 293.5,690.3 294.8,690.1 296.1,689.8 297.4,690.1 298.7,689.8 300.1,689.9 301.4,689.7 302.7,689.7 304.0,690.4 305.3,690.3 306.6,689.8 307.9,690.1 309.2,689.7 310.5,690.3 311.8,690.1 313.1,690.2 314.4,690.0 315.7,690.0 317.0,690.3 318.3,689.9 319.6,689.7 320.9,689.7 322.2,690.3 323.5,689.8 324.8,689.6 326.1,690.0 327.5,689.6 328.8,689.8 330.1,690.0 331.4,689.5 332.7,689.6 333.0,689.9 333.4,689.9 333.7,689.8 334.1,689.1 334.4,689.8 334.8,689.4 335.1,689.0 335.5,689.6 335.8,688.8 336.2,689.3 336.5,688.4 336.8,688.2 337.2,688.2 337.5,688.0 337.9,687.4 338.2,687.0 338.6,685.6 338.9,685.1 339.3,683.5 339.6,682.5 340.0,680.5 340.3,678.5 340.7,675.9 341.0,674.4 341.4,671.7 341.7,669.7 342.1,668.4 342.4,667.9 342.8,667.6 343.1,668.5 343.5,670.0 343.8,671.7 344.2,673.7 344.5,676.2 344.8,678.6 345.2,680.5 345.5,681.9 345.9,683.8 346.2,685.2 346.6,686.1 346.9,686.5 347.3,687.0 347.6,688.3 348.0,688.4 348.3,688.4 348.7,689.0 349.0,689.0 349.4,689.2 349.7,689.1 350.1,689.4 350.4,689.3 350.8,689.4 351.1,689.4 351.5,689.7 351.8,689.9 352.2,689.5 352.5,689.3 352.9,689.5 353.2,690.0 354.5,689.7 355.8,689.5 357.1,690.3 358.4,690.0 359.7,689.7 361.0,690.3 362.3,690.1 363.6,690.4 364.9,690.4 366.2,690.4 367.6,690.5 368.9,690.1 370.2,690.4 371.5,690.2 372.8,690.3 374.1,690.0 375.4,690.3 376.7,689.9 378.0,690.5 379.3,690.0 380.6,690.3 381.9,690.5 383.2,690.5 384.5,690.6 385.8,690.2 387.1,689.9 388.4,690.7 389.7,690.1 391.0,690.6 392.3,690.2 393.6,690.2 395.0,690.3 396.3,690.3 397.6,690.5 398.9,690.3 400.2,690.0 401.5,690.3 402.8,689.9 404.1,690.5 405.4,689.9 406.7,690.1 408.0,690.2 408.3,690.0 408.7,690.4 409.0,690.3 409.4,689.9 409.7,690.0 410.1,690.2 410.4,690.0 410.8,690.0 411.1,689.7 411.5,689.8 411.8,689.8 412.2,689.9 412.5,689.3 412.9,689.5 413.2,688.8 413.6,688.5 413.9,688.1 414.3,688.3 414.6,687.1 415.0,686.7 415.3,686.2 415.7,685.7 416.0,685.0 416.4,683.8 416.7,683.4 417.0,683.1 417.4,682.3 417.7,682.1 418.1,682.7 418.4,682.3 418.8,682.9 419.1,683.6 419.5,684.8 419.8,685.1 420.2,685.8 420.5,686.6 420.9,687.5 421.2,687.3 421.6,687.9 421.9,688.5 422.3,689.0 422.6,688.9 423.0,689.3 423.3,689.6 423.7,689.3 424.0,689.6 424.4,689.5 424.7,690.3 425.0,689.6 425.4,689.8 425.7,690.1 426.1,689.9 426.4,690.2 426.8,690.0 427.1,690.6 427.5,690.2 427.8,690.1 428.2,690.0 428.5,690.2 429.8,690.5 431.1,690.5 432.4,690.5 433.7,690.4 435.1,690.7 436.4,690.3 437.7,690.4 439.0,690.8 440.3,690.6 441.6,690.4 442.9,690.7 444.2,690.6 445.5,690.3 446.8,690.4 448.1,690.7 449.4,690.4 450.7,690.3 452.0,690.5 453.3,690.1 454.6,690.3 455.9,690.9 457.2,690.3 458.5,690.7 459.8,690.1 461.1,690.3 462.5,690.5 463.8,690.3 465.1,690.8 466.4,690.8 467.7,690.3 469.0,690.2 470.3,690.8 471.6,690.7 472.9,690.4 474.2,690.1 475.5,690.0 475.8,690.5 476.2,690.5 476.5,690.3 476.9,690.2 477.2,690.1 477.6,690.2 477.9,690.2 478.3,690.3 478.6,690.1 479.0,690.0 479.3,689.8 479.7,690.1 480.0,690.2 480.4,689.4 480.7,689.7 481.1,689.4 481.4,688.8 481.8,688.3 482.1,688.5 482.5,687.5 482.8,687.0 483.2,686.5 483.5,686.5 483.9,685.6 484.2,684.8 484.5,684.6 484.9,684.5 485.2,684.4 485.6,684.1 485.9,684.8 486.3,684.9 486.6,684.8 487.0,685.2 487.3,685.4 487.7,685.5 488.0,686.1 488.4,686.0 488.7,686.4 489.1,686.6 489.4,686.2 489.8,686.2 490.1,686.3 490.5,686.5 490.8,686.3 491.2,686.8 491.5,687.0 491.9,687.2 492.2,688.1 492.5,688.3 492.9,688.5 493.2,688.5 493.6,689.3 493.9,689.3 494.3,690.0 494.6,690.0 495.0,689.8 495.3,690.3 495.7,690.3 496.0,690.2 497.3,690.7 498.6,690.4 499.9,690.3 501.2,690.2 502.6,690.7 503.9,690.4 505.2,690.3 506.5,690.2 507.8,690.8 509.1,690.4 510.4,690.9 511.7,690.9 513.0,690.9 514.3,690.4 515.6,691.0 516.9,690.7 518.2,690.9 519.5,691.0 520.8,690.5 522.1,690.6 523.4,691.0 524.7,690.5 526.0,690.4 527.3,690.3 528.6,690.7 530.0,690.5 531.3,691.0 532.6,690.3 533.9,690.6 535.2,690.9 536.5,690.8 537.8,691.0 539.1,690.8 540.4,691.0 541.7,691.1 542.0,691.0 542.4,690.8 542.7,690.6 543.1,690.7 543.4,690.4 543.8,690.5 544.1,690.7 544.5,690.6 544.8,690.6 545.2,690.3 545.5,691.0 545.9,690.5 546.2,690.6 546.6,690.4 546.9,690.5 547.3,690.7 547.6,690.7 548.0,690.4 548.3,690.6 548.7,690.0 549.0,690.0 549.3,689.8 549.7,690.1 550.0,689.3 550.4,689.2 550.7,689.6 551.1,689.0 551.4,688.8 551.8,689.0 552.1,689.1 552.5,689.2 552.8,689.1 553.2,689.4 553.5,689.4 553.9,689.5 554.2,689.9 554.6,689.8 554.9,689.9 555.3,690.6 555.6,690.6 556.0,690.3 556.3,690.5 556.7,690.2 557.0,690.2 557.4,690.6 557.7,691.0 558.0,690.3 558.4,690.6 558.7,690.9 559.1,690.3 559.4,690.8 559.8,690.5 560.1,690.9 560.5,691.0 560.8,691.0 561.2,690.9 561.5,690.4 561.9,690.9 562.2,690.8 563.5,690.6 564.8,690.5 566.1,690.7 567.4,690.7 568.7,690.7 570.1,691.1 571.4,690.6 572.7,691.1 574.0,690.5 575.3,690.9 576.6,690.8 577.9,690.7 579.2,690.8 580.5,690.5 581.8,690.6 583.1,690.7 584.4,690.6 585.7,691.1 587.0,691.0 588.3,690.9 589.6,691.0 590.9,690.5 592.2,690.4 593.5,690.5 594.8,691.1 596.1,690.8 597.5,691.1 598.8,690.6 600.1,690.6 601.4,690.8 602.7,690.9 604.0,690.5 604.3,690.6 604.7,690.4 605.0,690.3 605.4,690.8 605.7,690.8 606.1,690.3 606.4,690.0 606.8,690.6 607.1,690.1 607.5,690.3 607.8,689.9 608.2,689.5 608.5,689.8 608.8,689.1 609.2,689.6 609.5,688.7 609.9,688.6 610.2,688.0 610.6,687.9 610.9,687.9 611.3,687.1 611.6,686.7 612.0,686.3 612.3,685.9 612.7,685.9 613.0,685.4 613.4,685.5 613.7,685.3 614.1,685.0 614.4,685.3 614.8,685.4 615.1,685.0 615.5,685.5 615.8,685.7 616.2,685.7 616.5,686.5 616.8,686.3 617.2,687.2 617.5,687.7 617.9,687.9 618.2,688.3 618.6,688.6 618.9,688.7 619.3,688.7 619.6,689.2 620.0,689.3 620.3,689.9 620.7,690.1 621.0,690.4 621.4,690.0 621.7,690.5 622.1,690.6 622.4,690.0 622.8,690.5 623.1,690.2 623.5,690.2 623.8,690.5 624.2,690.8 624.5,690.4 624.9,690.5 626.2,690.7 627.5,690.8 628.8,690.5 630.1,690.6 631.4,690.5 632.7,690.7 634.0,691.3 635.3,690.7 636.6,691.1 637.9,691.1" fill="none" stroke="#a67c1e" stroke-width="3.0" stroke-linejoin="round" stroke-linecap="round"/>
<polyline points="72.5,657.3 73.8,657.2 75.1,656.6 76.4,656.8 77.7,657.3 79.0,657.1 80.3,657.3 81.6,656.6 82.9,657.3 84.2,656.9 85.5,657.2 86.9,657.1 88.2,656.9 89.5,657.0 90.8,656.6 92.1,657.4 93.4,657.3 94.7,657.1 96.0,657.1 97.3,657.2 98.6,657.0 99.9,656.8 101.2,657.1 102.5,657.4 103.8,657.3 105.1,657.2 106.4,656.7 107.7,656.9 109.0,656.8 110.3,657.1 111.6,657.3 112.9,657.1 114.3,657.1 115.6,656.9 116.9,656.7 118.2,656.8 119.5,657.3 120.8,657.3 122.1,657.1 123.4,657.1 124.7,656.7 126.0,656.5 127.3,656.5 128.6,656.4 129.9,656.5 131.2,657.1 132.5,656.7 133.8,656.4 135.1,656.2 136.4,656.0 137.7,655.8 139.0,655.6 140.3,655.4 140.7,655.1 141.0,655.0 141.4,655.2 141.7,654.6 142.1,654.4 142.4,654.7 142.8,654.0 143.1,654.0 143.5,653.4 143.8,653.3 144.2,652.2 144.5,651.7 144.9,651.2 145.2,649.4 145.6,647.9 145.9,644.9 146.3,641.0 146.6,635.9 147.0,628.7 147.3,619.2 147.7,608.3 148.0,595.3 148.4,581.5 148.7,568.8 149.0,558.7 149.4,553.3 149.7,555.0 150.1,563.2 150.4,575.1 150.8,588.5 151.1,602.1 151.5,614.0 151.8,624.6 152.2,632.7 152.5,639.1 152.9,643.2 153.2,646.2 153.6,649.1 153.9,650.4 154.3,651.7 154.6,652.4 155.0,653.1 155.3,653.2 155.7,654.0 156.0,654.2 156.4,654.3 156.7,654.4 157.0,654.5 157.4,654.8 157.7,655.1 158.1,655.2 158.4,655.6 158.8,656.0 159.1,655.8 159.5,656.0 159.8,655.5 160.2,656.2 161.5,656.3 162.8,656.7 164.1,656.5 165.4,656.8 166.7,656.8 168.0,657.0 169.3,656.8 170.6,657.2 171.9,657.3 173.2,657.0 174.5,657.0 175.8,657.2 177.1,657.1 178.4,657.4 179.8,657.4 181.1,657.1 182.4,657.2 183.7,656.8 185.0,657.4 186.3,657.1 187.6,656.6 188.9,656.4 190.2,656.8 191.5,656.4 192.8,656.1 194.1,656.3 195.4,656.5 196.7,656.9 198.0,657.3 199.3,657.2 200.6,656.8 201.9,656.9 203.2,656.8 204.5,657.4 205.8,657.2 207.2,656.8 208.5,656.8 209.8,657.0 211.1,656.8 212.4,657.0 213.7,657.1 215.0,657.2 216.3,657.2 217.6,657.5 218.9,657.6 220.2,657.2 221.5,657.6 222.8,657.2 224.1,657.1 225.4,657.6 226.7,657.0 228.0,657.0 229.3,657.7 230.6,657.3 231.9,657.3 233.2,657.5 234.6,657.6 235.9,657.2 237.2,657.6 238.5,657.0 239.8,657.6 241.1,657.2 242.4,657.1 243.7,656.8 245.0,656.8 246.3,657.0 247.6,656.7 247.9,657.1 248.3,657.3 248.6,656.7 249.0,657.1 249.3,656.9 249.7,656.8 250.0,656.9 250.4,656.6 250.7,656.7 251.1,656.0 251.4,656.3 251.8,655.9 252.1,655.3 252.5,654.9 252.8,654.9 253.2,654.0 253.5,653.0 253.9,652.0 254.2,651.1 254.6,649.6 254.9,647.7 255.3,646.8 255.6,645.1 256.0,643.7 256.3,642.5 256.6,641.8 257.0,641.3 257.3,642.3 257.7,643.0 258.0,643.9 258.4,645.9 258.7,647.1 259.1,648.4 259.4,650.5 259.8,651.2 260.1,652.5 260.5,653.2 260.8,654.3 261.2,654.9 261.5,655.6 261.9,656.1 262.2,656.4 262.6,656.4 262.9,656.4 263.3,656.9 263.6,656.4 264.0,656.6 264.3,656.9 264.6,656.8 265.0,657.0 265.3,656.7 265.7,656.8 266.0,656.7 266.4,657.0 266.7,656.9 267.1,657.4 267.4,657.0 268.7,657.0 270.0,657.5 271.3,657.1 272.7,657.6 274.0,657.4 275.3,657.1 276.6,657.6 277.9,657.8 279.2,657.3 280.5,657.5 281.8,657.5 283.1,657.8 284.4,657.9 285.7,657.1 287.0,657.4 288.3,657.7 289.6,657.4 290.9,657.5 292.2,657.6 293.5,657.1 294.8,657.2 296.1,657.8 297.4,657.5 298.7,657.5 300.1,657.6 301.4,657.7 302.7,657.9 304.0,657.2 305.3,657.7 306.6,657.2 307.9,657.6 309.2,657.8 310.5,657.5 311.8,657.4 313.1,657.8 314.4,657.7 315.7,657.9 317.0,657.6 318.3,657.4 319.6,657.7 320.9,657.5 322.2,657.1 323.5,657.2 324.8,657.8 326.1,657.6 327.5,657.0 328.8,657.6 330.1,657.5 331.4,656.9 332.7,657.5 333.0,656.8 333.4,657.0 333.7,657.1 334.1,656.9 334.4,656.7 334.8,656.8 335.1,656.8 335.5,657.0 335.8,656.8 336.2,656.7 336.5,656.4 336.8,655.9 337.2,655.5 337.5,655.6 337.9,655.0 338.2,653.9 338.6,653.4 338.9,651.9 339.3,650.4 339.6,649.1 340.0,647.6 340.3,645.2 340.7,643.1 341.0,640.8 341.4,638.5 341.7,636.0 342.1,635.0 342.4,633.5 342.8,633.8 343.1,634.3 343.5,636.1 343.8,638.5 344.2,640.8 344.5,643.3 344.8,645.2 345.2,647.3 345.5,648.9 345.9,650.7 346.2,652.4 346.6,653.1 346.9,654.3 347.3,654.6 347.6,655.5 348.0,655.4 348.3,656.3 348.7,655.9 349.0,656.0 349.4,656.6 349.7,656.9 350.1,656.9 350.4,656.7 350.8,657.1 351.1,656.7 351.5,656.9 351.8,656.9 352.2,656.9 352.5,656.8 352.9,657.0 353.2,657.3 354.5,657.4 355.8,657.3 357.1,657.6 358.4,657.4 359.7,657.8 361.0,657.2 362.3,657.8 363.6,657.9 364.9,657.7 366.2,657.8 367.6,658.1 368.9,657.4 370.2,657.4 371.5,657.7 372.8,657.9 374.1,657.8 375.4,657.7 376.7,657.7 378.0,657.7 379.3,658.0 380.6,657.4 381.9,657.9 383.2,657.4 384.5,658.0 385.8,657.6 387.1,658.0 388.4,657.6 389.7,657.9 391.0,657.8 392.3,658.1 393.6,657.8 395.0,657.8 396.3,657.8 397.6,657.6 398.9,658.1 400.2,657.7 401.5,657.5 402.8,657.5 404.1,657.9 405.4,658.1 406.7,657.8 408.0,658.0 408.3,657.4 408.7,657.9 409.0,657.8 409.4,657.4 409.7,657.2 410.1,657.5 410.4,657.4 410.8,657.5 411.1,657.6 411.5,657.1 411.8,657.1 412.2,657.0 412.5,656.8 412.9,656.8 413.2,656.8 413.6,656.2 413.9,655.8 414.3,655.9 414.6,655.0 415.0,655.1 415.3,654.3 415.7,653.4 416.0,652.6 416.4,652.7 416.7,651.5 417.0,651.6 417.4,651.1 417.7,651.1 418.1,650.7 418.4,651.4 418.8,651.4 419.1,652.2 419.5,653.1 419.8,653.4 420.2,653.7 420.5,654.3 420.9,655.0 421.2,655.8 421.6,656.2 421.9,656.2 422.3,656.7 422.6,656.7 423.0,657.0 423.3,657.0 423.7,657.6 424.0,657.3 424.4,657.3 424.7,657.6 425.0,657.3 425.4,657.3 425.7,657.6 426.1,657.9 426.4,657.5 426.8,657.5 427.1,657.5 427.5,657.8 427.8,657.5 428.2,657.8 428.5,657.8 429.8,657.4 431.1,657.7 432.4,658.1 433.7,657.6 435.1,658.1 436.4,657.5 437.7,657.9 439.0,657.8 440.3,658.0 441.6,657.5 442.9,657.6 444.2,657.9 445.5,658.3 446.8,657.9 448.1,658.2 449.4,658.0 450.7,658.4 452.0,657.6 453.3,658.3 454.6,657.8 455.9,657.8 457.2,658.0 458.5,657.9 459.8,658.4 461.1,658.3 462.5,658.2 463.8,657.8 465.1,657.8 466.4,657.9 467.7,657.8 469.0,657.8 470.3,657.7 471.6,657.8 472.9,657.8 474.2,657.6 475.5,657.8 475.8,658.3 476.2,658.2 476.5,658.0 476.9,658.2 477.2,658.2 477.6,657.5 477.9,657.5 478.3,657.7 478.6,657.8 479.0,658.1 479.3,657.3 479.7,657.8 480.0,657.7 480.4,657.2 480.7,657.5 481.1,657.4 481.4,656.5 481.8,656.7 482.1,656.3 482.5,656.2 482.8,655.4 483.2,655.4 483.5,654.4 483.9,654.1 484.2,654.0 484.5,653.6 484.9,653.5 485.2,653.2 485.6,653.8 485.9,653.5 486.3,653.7 486.6,653.8 487.0,654.4 487.3,654.1 487.7,654.9 488.0,654.4 488.4,655.1 488.7,654.8 489.1,654.9 489.4,654.7 489.8,655.2 490.1,654.8 490.5,655.3 490.8,655.3 491.2,655.7 491.5,655.9 491.9,656.0 492.2,655.8 492.5,656.5 492.9,656.2 493.2,657.0 493.6,657.3 493.9,656.9 494.3,657.0 494.6,657.8 495.0,657.5 495.3,657.9 495.7,658.1 496.0,658.2 497.3,658.0 498.6,658.3 499.9,658.4 501.2,658.3 502.6,658.0 503.9,658.4 505.2,658.0 506.5,658.4 507.8,658.0 509.1,658.1 510.4,657.8 511.7,657.8 513.0,658.5 514.3,658.1 515.6,658.3 516.9,658.1 518.2,658.3 519.5,658.2 520.8,657.9 522.1,658.0 523.4,658.3 524.7,657.9 526.0,658.5 527.3,657.8 528.6,658.2 530.0,658.5 531.3,658.4 532.6,657.9 533.9,657.9 535.2,658.4 536.5,658.1 537.8,657.9 539.1,657.9 540.4,658.3 541.7,657.8 542.0,658.0 542.4,658.5 542.7,658.0 543.1,658.5 543.4,657.8 543.8,657.9 544.1,657.8 544.5,658.3 544.8,658.2 545.2,658.3 545.5,658.4 545.9,658.3 546.2,657.8 546.6,658.0 546.9,657.6 547.3,658.2 547.6,657.8 548.0,657.8 548.3,658.0 548.7,658.0 549.0,657.6 549.3,657.3 549.7,657.5 550.0,657.4 550.4,656.7 550.7,656.8 551.1,657.1 551.4,657.1 551.8,657.0 552.1,656.7 552.5,656.5 552.8,657.2 553.2,656.7 553.5,657.2 553.9,657.2 554.2,657.7 554.6,657.4 554.9,657.5 555.3,658.0 555.6,658.0 556.0,658.3 556.3,657.7 556.7,657.7 557.0,658.2 557.4,658.1 557.7,658.4 558.0,658.1 558.4,657.8 558.7,658.2 559.1,658.0 559.4,658.4 559.8,658.5 560.1,658.5 560.5,657.9 560.8,658.3 561.2,658.0 561.5,658.6 561.9,658.0 562.2,658.4 563.5,658.4 564.8,658.0 566.1,658.3 567.4,658.0 568.7,657.9 570.1,658.1 571.4,658.0 572.7,658.2 574.0,658.4 575.3,658.6 576.6,658.1 577.9,658.3 579.2,658.5 580.5,658.2 581.8,658.2 583.1,658.2 584.4,658.6 585.7,658.2 587.0,658.5 588.3,658.0 589.6,658.2 590.9,658.1 592.2,658.1 593.5,658.0 594.8,658.2 596.1,658.5 597.5,658.4 598.8,658.7 600.1,658.1 601.4,658.1 602.7,658.0 604.0,658.1 604.3,657.8 604.7,658.3 605.0,658.0 605.4,657.7 605.7,658.0 606.1,657.9 606.4,657.6 606.8,657.7 607.1,657.9 607.5,658.0 607.8,657.6 608.2,657.2 608.5,656.9 608.8,656.9 609.2,656.7 609.5,656.6 609.9,656.4 610.2,655.9 610.6,655.6 610.9,655.9 611.3,655.5 611.6,655.0 612.0,654.8 612.3,654.2 612.7,654.0 613.0,653.5 613.4,653.4 613.7,653.4 614.1,653.1 614.4,653.2 614.8,653.1 615.1,653.0 615.5,653.5 615.8,653.9 616.2,653.6 616.5,653.9 616.8,654.1 617.2,654.6 617.5,654.9 617.9,655.3 618.2,655.6 618.6,656.0 618.9,656.2 619.3,657.0 619.6,656.6 620.0,656.7 620.3,657.6 620.7,657.3 621.0,657.8 621.4,657.5 621.7,657.4 622.1,657.5 622.4,658.3 622.8,657.6 623.1,658.0 623.5,657.9 623.8,658.2 624.2,658.0 624.5,658.4 624.9,658.0 626.2,658.3 627.5,658.7 628.8,658.3 630.1,658.7 631.4,658.0 632.7,658.7 634.0,658.3 635.3,658.8 636.6,658.6 637.9,658.2" fill="none" stroke="#ff8000" stroke-width="3.0" stroke-linejoin="round" stroke-linecap="round"/>
<rect x="72.5" y="470.6" width="565.4" height="376.4" fill="none" stroke="#000" stroke-width="3.1"/>
<line x1="72.5" y1="847.0" x2="72.5" y2="855.0" stroke="#000" stroke-width="2.8"/>
<line x1="116.0" y1="847.0" x2="116.0" y2="851.5" stroke="#000" stroke-width="2.8"/>
<line x1="159.5" y1="847.0" x2="159.5" y2="855.0" stroke="#000" stroke-width="2.8"/>
<line x1="203.0" y1="847.0" x2="203.0" y2="851.5" stroke="#000" stroke-width="2.8"/>
<line x1="246.5" y1="847.0" x2="246.5" y2="855.0" stroke="#000" stroke-width="2.8"/>
<line x1="290.0" y1="847.0" x2="290.0" y2="851.5" stroke="#000" stroke-width="2.8"/>
<line x1="333.5" y1="847.0" x2="333.5" y2="855.0" stroke="#000" stroke-width="2.8"/>
<line x1="376.9" y1="847.0" x2="376.9" y2="851.5" stroke="#000" stroke-width="2.8"/>
<line x1="420.4" y1="847.0" x2="420.4" y2="855.0" stroke="#000" stroke-width="2.8"/>
<line x1="463.9" y1="847.0" x2="463.9" y2="851.5" stroke="#000" stroke-width="2.8"/>
<line x1="507.4" y1="847.0" x2="507.4" y2="855.0" stroke="#000" stroke-width="2.8"/>
<line x1="550.9" y1="847.0" x2="550.9" y2="851.5" stroke="#000" stroke-width="2.8"/>
<line x1="594.4" y1="847.0" x2="594.4" y2="855.0" stroke="#000" stroke-width="2.8"/>
<line x1="637.9" y1="847.0" x2="637.9" y2="851.5" stroke="#000" stroke-width="2.8"/>
<text x="72.5" y="878.3" font-size="23" text-anchor="middle" fill="#000" font-family="Liberation Serif, serif" font-weight="bold" stroke="#000" stroke-width="0.37">20</text>
<text x="159.5" y="878.3" font-size="23" text-anchor="middle" fill="#000" font-family="Liberation Serif, serif" font-weight="bold" stroke="#000" stroke-width="0.37">30</text>
<text x="246.5" y="878.3" font-size="23" text-anchor="middle" fill="#000" font-family="Liberation Serif, serif" font-weight="bold" stroke="#000" stroke-width="0.37">40</text>
<text x="333.5" y="878.3" font-size="23" text-anchor="middle" fill="#000" font-family="Liberation Serif, serif" font-weight="bold" stroke="#000" stroke-width="0.37">50</text>
<text x="420.4" y="878.3" font-size="23" text-anchor="middle" fill="#000" font-family="Liberation Serif, serif" font-weight="bold" stroke="#000" stroke-width="0.37">60</text>
<text x="507.4" y="878.3" font-size="23" text-anchor="middle" fill="#000" font-family="Liberation Serif, serif" font-weight="bold" stroke="#000" stroke-width="0.37">70</text>
<text x="594.4" y="878.3" font-size="23" text-anchor="middle" fill="#000" font-family="Liberation Serif, serif" font-weight="bold" stroke="#000" stroke-width="0.37">80</text>
<text x="359.0" y="913.6" font-size="30.4" text-anchor="middle" fill="#000" font-family="Liberation Serif, serif" font-weight="bold" stroke="#000" stroke-width="0.49">2θ (degree)</text>
<text x="46.0" y="685.0" font-size="30.7" text-anchor="middle" fill="#000" font-family="Liberation Serif, serif" font-weight="bold" stroke="#000" stroke-width="0.49" transform="rotate(-90 46.0 685.0)">Intensity (arb. units)</text>
<line x1="371.4" y1="492.7" x2="412.9" y2="492.7" stroke="#8a14f5" stroke-width="3.0" stroke-linecap="round"/>
<text x="419.0" y="499.3" font-size="20.1" text-anchor="start" fill="#000" font-family="Liberation Serif, serif" font-weight="bold" stroke="#000" stroke-width="0.32">BZCYYb-MSS-pristine</text>
<line x1="371.4" y1="517.8" x2="412.9" y2="517.8" stroke="#000" stroke-width="3.0" stroke-linecap="round"/>
<text x="419.0" y="524.4" font-size="20.1" text-anchor="start" fill="#000" font-family="Liberation Serif, serif" font-weight="bold" stroke="#000" stroke-width="0.32">BZCYYb-MSS-1100 °C</text>
<line x1="371.4" y1="542.9" x2="412.9" y2="542.9" stroke="#ff0000" stroke-width="3.0" stroke-linecap="round"/>
<text x="419.0" y="549.5" font-size="20.1" text-anchor="start" fill="#000" font-family="Liberation Serif, serif" font-weight="bold" stroke="#000" stroke-width="0.32">BZCYYb-MSS-1200 °C</text>
<line x1="371.4" y1="567.9" x2="412.9" y2="567.9" stroke="#0000ff" stroke-width="3.0" stroke-linecap="round"/>
<text x="419.0" y="574.5" font-size="20.1" text-anchor="start" fill="#000" font-family="Liberation Serif, serif" font-weight="bold" stroke="#000" stroke-width="0.32">BZCYYb-MSS-1300 °C</text>
<line x1="371.4" y1="593.0" x2="412.9" y2="593.0" stroke="#a67c1e" stroke-width="3.0" stroke-linecap="round"/>
<text x="419.0" y="599.6" font-size="20.1" text-anchor="start" fill="#000" font-family="Liberation Serif, serif" font-weight="bold" stroke="#000" stroke-width="0.32">BZCYYb-MSS-1400 °C</text>
<line x1="371.4" y1="618.1" x2="412.9" y2="618.1" stroke="#ff8000" stroke-width="3.0" stroke-linecap="round"/>
<text x="419.0" y="624.7" font-size="20.1" text-anchor="start" fill="#000" font-family="Liberation Serif, serif" font-weight="bold" stroke="#000" stroke-width="0.32">BZCYYb-MSS-1450 °C</text>
<text x="11.8" y="466.0" font-size="55.5" text-anchor="start" fill="#231815" font-family="Liberation Sans, sans-serif" font-weight="bold">e</text>
<rect x="937.3" y="658.4" width="112.9" height="186.6" fill="#ff0000" stroke="#000" stroke-width="2.65" stroke-linejoin="round"/>
<rect x="1050.2" y="695.7" width="111.9" height="149.3" fill="#0000ff" stroke="#000" stroke-width="2.65" stroke-linejoin="round"/>
<rect x="770.2" y="471.8" width="559.2" height="373.2" fill="none" stroke="#000" stroke-width="3.1"/>
<line x1="762.2" y1="845.0" x2="770.2" y2="845.0" stroke="#000" stroke-width="2.8"/>
<line x1="765.7" y1="782.8" x2="770.2" y2="782.8" stroke="#000" stroke-width="2.8"/>
<line x1="762.2" y1="720.6" x2="770.2" y2="720.6" stroke="#000" stroke-width="2.8"/>
<line x1="765.7" y1="658.4" x2="770.2" y2="658.4" stroke="#000" stroke-width="2.8"/>
<line x1="762.2" y1="596.2" x2="770.2" y2="596.2" stroke="#000" stroke-width="2.8"/>
<line x1="765.7" y1="534.0" x2="770.2" y2="534.0" stroke="#000" stroke-width="2.8"/>
<line x1="762.2" y1="471.8" x2="770.2" y2="471.8" stroke="#000" stroke-width="2.8"/>
<text x="755.5" y="853.0" font-size="25" text-anchor="end" fill="#000" font-family="Liberation Serif, serif" font-weight="bold" stroke="#000" stroke-width="0.40">3.0</text>
<text x="755.5" y="728.6" font-size="25" text-anchor="end" fill="#000" font-family="Liberation Serif, serif" font-weight="bold" stroke="#000" stroke-width="0.40">3.1</text>
<text x="755.5" y="604.2" font-size="25" text-anchor="end" fill="#000" font-family="Liberation Serif, serif" font-weight="bold" stroke="#000" stroke-width="0.40">3.2</text>
<text x="755.5" y="479.8" font-size="25" text-anchor="end" fill="#000" font-family="Liberation Serif, serif" font-weight="bold" stroke="#000" stroke-width="0.40">3.3</text>
<text x="992.9" y="652.6" font-size="25.5" text-anchor="middle" fill="#000" font-family="Liberation Serif, serif" font-weight="bold" stroke="#000" stroke-width="0.41">3.15</text>
<text x="1104.8" y="689.6" font-size="25.5" text-anchor="middle" fill="#000" font-family="Liberation Serif, serif" font-weight="bold" stroke="#000" stroke-width="0.41">3.12</text>
<rect x="791.6" y="488.7" width="43.1" height="20.6" fill="#ff0000" stroke="#000" stroke-width="2.65" stroke-linejoin="round"/>
<rect x="791.6" y="517.5" width="43.1" height="20.1" fill="#0000ff" stroke="#000" stroke-width="2.65" stroke-linejoin="round"/>
<text x="847.6" y="507.0" font-size="21.7" text-anchor="start" fill="#000" font-family="Liberation Serif, serif" font-weight="bold" stroke="#000" stroke-width="0.35">Before quenching</text>
<text x="847.6" y="535.6" font-size="21.7" text-anchor="start" fill="#000" font-family="Liberation Serif, serif" font-weight="bold" stroke="#000" stroke-width="0.35">After quenching</text>
<text x="1190.7" y="517.7" font-size="25.2" text-anchor="start" fill="#000" font-family="Liberation Serif, serif" font-weight="bold" stroke="#000" stroke-width="0.40">TEM</text>
<text x="1049.2" y="880.7" font-size="25.1" text-anchor="middle" fill="#000" font-family="Liberation Serif, serif" font-weight="bold" stroke="#000" stroke-width="0.40">MSS</text>
<text x="711.7" y="653.0" font-size="32.3" text-anchor="middle" fill="#000" font-family="Liberation Serif, serif" font-weight="bold" stroke="#000" stroke-width="0.52" transform="rotate(-90 711.7 653.0)">Interplanar distance&#160;&#160;(Å)</text>
<text x="682.2" y="465.8" font-size="55.5" text-anchor="start" fill="#231815" font-family="Liberation Sans, sans-serif" font-weight="bold">f</text>
<path d="M1432.8,842.8 C1434.4,841.9 1439.0,838.6 1442.2,837.2 C1445.3,835.8 1448.4,834.7 1451.5,834.6 C1454.6,834.5 1457.5,835.4 1460.9,836.5 C1464.3,837.5 1468.2,841.8 1472.1,841.0 C1476.0,840.1 1479.9,834.4 1484.3,831.6 C1488.7,828.8 1493.7,825.4 1498.3,824.1 C1503.0,822.9 1508.5,825.0 1512.4,824.1 C1516.3,823.2 1518.6,821.0 1521.8,818.5 C1524.9,816.0 1528.0,811.6 1531.1,809.1 C1534.2,806.6 1537.4,805.4 1540.5,803.5 C1543.6,801.6 1546.7,804.8 1549.8,797.9 C1553.0,791.0 1556.1,778.2 1559.2,762.3 C1562.3,746.4 1565.4,721.1 1568.6,702.4 C1571.7,683.7 1574.8,665.0 1577.9,650.0 C1581.1,635.0 1584.6,620.7 1587.3,612.6 C1589.9,604.5 1591.5,602.0 1593.8,601.3 C1596.2,600.7 1598.5,600.7 1601.3,608.8 C1604.1,616.9 1607.6,633.2 1610.7,650.0 C1613.8,666.9 1616.9,688.7 1620.1,709.9 C1623.2,731.1 1626.3,758.0 1629.4,777.3 C1632.6,796.7 1636.6,815.6 1638.8,826.0 C1641.0,836.4 1641.0,838.9 1642.5,839.8 C1644.1,840.8 1645.7,833.6 1648.2,831.6 C1650.7,829.6 1654.1,827.4 1657.5,827.9 C1661.0,828.4 1664.1,834.4 1668.8,834.6 C1673.4,834.8 1680.1,829.2 1685.6,829.0 C1691.1,828.8 1696.8,834.0 1701.5,833.5 C1706.2,833.0 1709.3,828.4 1713.7,826.0 C1718.1,823.6 1721.5,820.8 1727.7,819.2 C1734.0,817.7 1744.9,816.6 1751.2,816.6 C1757.4,816.6 1759.0,817.1 1765.2,819.2 C1771.4,821.4 1781.6,827.4 1788.6,829.7 C1795.6,832.1 1801.1,833.8 1807.3,833.5 C1813.6,833.2 1820.6,828.2 1826.1,827.9 C1831.5,827.5 1834.6,829.7 1840.1,831.6 C1845.6,833.5 1853.4,837.8 1858.8,839.1 C1864.3,840.3 1869.0,838.3 1872.9,839.1 C1876.8,839.8 1878.3,844.2 1882.2,843.6 C1886.1,843.0 1891.6,837.6 1896.3,835.3 C1901.0,833.0 1905.6,829.7 1910.3,829.7 C1915.0,829.7 1919.7,833.3 1924.4,835.3 C1929.1,837.3 1933.0,841.1 1938.4,841.7 C1943.9,842.3 1950.9,839.7 1957.1,839.1 C1963.4,838.5 1970.4,838.4 1975.9,838.0 C1981.3,837.5 1986.8,836.6 1989.9,836.5 C1993.0,836.3 1993.8,837.1 1994.6,837.2" fill="none" stroke="#6b6b14" stroke-width="3.0" stroke-linejoin="round" stroke-linecap="butt"/>
<path d="M1432.8,836.5 C1435.6,835.3 1444.2,830.0 1449.7,829.7 C1455.1,829.4 1459.8,835.2 1465.6,834.6 C1471.3,834.0 1478.8,826.3 1484.3,826.0 C1489.8,825.7 1494.4,834.6 1498.3,832.7 C1502.2,830.8 1504.6,822.1 1507.7,814.7 C1510.8,807.4 1513.9,796.0 1517.1,788.5 C1520.2,781.1 1524.1,773.1 1526.4,769.8 C1528.8,766.6 1529.2,767.8 1531.1,769.1 C1533.0,770.3 1535.3,772.2 1537.7,777.3 C1540.0,782.4 1543.1,794.2 1545.2,799.8 C1547.2,805.4 1548.3,811.6 1549.8,811.0 C1551.4,810.4 1552.2,810.4 1554.5,796.0 C1556.9,781.7 1560.8,748.0 1563.9,724.9 C1567.0,701.8 1570.1,676.2 1573.2,657.5 C1576.4,638.8 1579.8,622.6 1582.6,612.6 C1585.4,602.6 1587.6,599.2 1590.1,597.6 C1592.6,596.0 1594.9,597.0 1597.6,603.2 C1600.2,609.5 1603.1,621.0 1606.0,635.0 C1609.0,649.1 1612.3,668.7 1615.4,687.5 C1618.5,706.2 1621.6,728.6 1624.7,747.4 C1627.9,766.1 1631.0,786.4 1634.1,799.8 C1637.2,813.2 1641.1,822.7 1643.5,827.9 C1645.8,833.0 1645.0,831.4 1648.2,830.5 C1651.3,829.5 1657.5,825.5 1662.2,822.2 C1666.9,819.0 1672.0,813.7 1676.2,811.0 C1680.5,808.3 1684.0,805.8 1687.5,806.1 C1690.9,806.4 1693.3,808.6 1696.8,812.9 C1700.4,817.1 1705.4,826.9 1709.0,831.6 C1712.6,836.3 1715.3,841.6 1718.4,841.0 C1721.5,840.3 1723.8,834.1 1727.7,827.9 C1731.6,821.6 1737.1,810.1 1741.8,803.5 C1746.5,797.0 1751.6,791.7 1755.8,788.5 C1760.0,785.4 1763.2,784.2 1767.1,784.8 C1771.0,785.4 1774.9,787.3 1779.2,792.3 C1783.6,797.3 1788.6,807.9 1793.3,814.7 C1798.0,821.6 1803.4,829.5 1807.3,833.5 C1811.2,837.4 1812.8,838.0 1816.7,838.3 C1820.6,838.6 1825.3,836.5 1830.7,835.3 C1836.2,834.2 1844.0,831.8 1849.5,831.6 C1854.9,831.4 1858.1,833.1 1863.5,834.2 C1869.0,835.3 1876.0,837.5 1882.2,838.3 C1888.5,839.1 1893.2,838.5 1901.0,839.1 C1908.8,839.6 1919.7,841.4 1929.1,841.7 C1938.4,842.0 1949.3,840.9 1957.1,841.0 C1964.9,841.0 1969.6,841.6 1975.9,842.1 C1982.1,842.6 1991.5,843.6 1994.6,844.0" fill="none" stroke="#ff8000" stroke-width="3.0" stroke-linejoin="round" stroke-linecap="butt"/>
<rect x="1432.8" y="470.3" width="561.8" height="374.4" fill="none" stroke="#000" stroke-width="3.1"/>
<line x1="1432.8" y1="844.7" x2="1432.8" y2="852.7" stroke="#000" stroke-width="2.8"/>
<line x1="1479.6" y1="844.7" x2="1479.6" y2="849.2" stroke="#000" stroke-width="2.8"/>
<line x1="1526.4" y1="844.7" x2="1526.4" y2="852.7" stroke="#000" stroke-width="2.8"/>
<line x1="1573.2" y1="844.7" x2="1573.2" y2="849.2" stroke="#000" stroke-width="2.8"/>
<line x1="1620.1" y1="844.7" x2="1620.1" y2="852.7" stroke="#000" stroke-width="2.8"/>
<line x1="1666.9" y1="844.7" x2="1666.9" y2="849.2" stroke="#000" stroke-width="2.8"/>
<line x1="1713.7" y1="844.7" x2="1713.7" y2="852.7" stroke="#000" stroke-width="2.8"/>
<line x1="1760.5" y1="844.7" x2="1760.5" y2="849.2" stroke="#000" stroke-width="2.8"/>
<line x1="1807.3" y1="844.7" x2="1807.3" y2="852.7" stroke="#000" stroke-width="2.8"/>
<line x1="1854.1" y1="844.7" x2="1854.1" y2="849.2" stroke="#000" stroke-width="2.8"/>
<line x1="1901.0" y1="844.7" x2="1901.0" y2="852.7" stroke="#000" stroke-width="2.8"/>
<line x1="1947.8" y1="844.7" x2="1947.8" y2="849.2" stroke="#000" stroke-width="2.8"/>
<line x1="1994.6" y1="844.7" x2="1994.6" y2="852.7" stroke="#000" stroke-width="2.8"/>
<line x1="1424.8" y1="844.7" x2="1432.8" y2="844.7" stroke="#000" stroke-width="2.8"/>
<line x1="1428.3" y1="807.3" x2="1432.8" y2="807.3" stroke="#000" stroke-width="2.8"/>
<line x1="1424.8" y1="769.8" x2="1432.8" y2="769.8" stroke="#000" stroke-width="2.8"/>
<line x1="1428.3" y1="732.4" x2="1432.8" y2="732.4" stroke="#000" stroke-width="2.8"/>
<line x1="1424.8" y1="694.9" x2="1432.8" y2="694.9" stroke="#000" stroke-width="2.8"/>
<line x1="1428.3" y1="657.5" x2="1432.8" y2="657.5" stroke="#000" stroke-width="2.8"/>
<line x1="1424.8" y1="620.1" x2="1432.8" y2="620.1" stroke="#000" stroke-width="2.8"/>
<line x1="1428.3" y1="582.6" x2="1432.8" y2="582.6" stroke="#000" stroke-width="2.8"/>
<line x1="1424.8" y1="545.2" x2="1432.8" y2="545.2" stroke="#000" stroke-width="2.8"/>
<line x1="1428.3" y1="507.7" x2="1432.8" y2="507.7" stroke="#000" stroke-width="2.8"/>
<line x1="1424.8" y1="470.3" x2="1432.8" y2="470.3" stroke="#000" stroke-width="2.8"/>
<text x="1432.8" y="877.0" font-size="24.5" text-anchor="middle" fill="#000" font-family="Liberation Serif, serif" font-weight="bold" stroke="#000" stroke-width="0.39">0</text>
<text x="1526.4" y="877.0" font-size="24.5" text-anchor="middle" fill="#000" font-family="Liberation Serif, serif" font-weight="bold" stroke="#000" stroke-width="0.39">1</text>
<text x="1620.1" y="877.0" font-size="24.5" text-anchor="middle" fill="#000" font-family="Liberation Serif, serif" font-weight="bold" stroke="#000" stroke-width="0.39">2</text>
<text x="1713.7" y="877.0" font-size="24.5" text-anchor="middle" fill="#000" font-family="Liberation Serif, serif" font-weight="bold" stroke="#000" stroke-width="0.39">3</text>
<text x="1807.3" y="877.0" font-size="24.5" text-anchor="middle" fill="#000" font-family="Liberation Serif, serif" font-weight="bold" stroke="#000" stroke-width="0.39">4</text>
<text x="1901.0" y="877.0" font-size="24.5" text-anchor="middle" fill="#000" font-family="Liberation Serif, serif" font-weight="bold" stroke="#000" stroke-width="0.39">5</text>
<text x="1994.6" y="877.0" font-size="24.5" text-anchor="middle" fill="#000" font-family="Liberation Serif, serif" font-weight="bold" stroke="#000" stroke-width="0.39">6</text>
<text x="1421.0" y="852.7" font-size="24.5" text-anchor="end" fill="#000" font-family="Liberation Serif, serif" font-weight="bold" stroke="#000" stroke-width="0.39">0</text>
<text x="1421.0" y="777.8" font-size="24.5" text-anchor="end" fill="#000" font-family="Liberation Serif, serif" font-weight="bold" stroke="#000" stroke-width="0.39">2</text>
<text x="1421.0" y="702.9" font-size="24.5" text-anchor="end" fill="#000" font-family="Liberation Serif, serif" font-weight="bold" stroke="#000" stroke-width="0.39">4</text>
<text x="1421.0" y="628.1" font-size="24.5" text-anchor="end" fill="#000" font-family="Liberation Serif, serif" font-weight="bold" stroke="#000" stroke-width="0.39">6</text>
<text x="1421.0" y="553.2" font-size="24.5" text-anchor="end" fill="#000" font-family="Liberation Serif, serif" font-weight="bold" stroke="#000" stroke-width="0.39">8</text>
<text x="1421.0" y="478.3" font-size="24.5" text-anchor="end" fill="#000" font-family="Liberation Serif, serif" font-weight="bold" stroke="#000" stroke-width="0.39">10</text>
<text x="1714.0" y="907.0" font-size="29.7" text-anchor="middle" fill="#000" font-family="Liberation Serif, serif" font-weight="bold" stroke="#000" stroke-width="0.48">R (Å)</text>
<text x="1381.5" y="669" font-size="31" text-anchor="middle" font-family="Liberation Serif, serif" font-weight="bold" stroke="#000" stroke-width="0.35" transform="rotate(-90 1381.5 669)">FT(k<tspan dy="-13.5" font-size="22">3</tspan><tspan dy="13.5">χ(k))</tspan></text>
<line x1="1704.4" y1="529.5" x2="1750.3" y2="529.5" stroke="#6b6b14" stroke-width="3.0" stroke-linecap="round"/>
<line x1="1704.4" y1="555.7" x2="1750.3" y2="555.7" stroke="#ff8000" stroke-width="3.0" stroke-linecap="round"/>
<text x="1755.6" y="536.0" font-size="19.9" text-anchor="start" fill="#000" font-family="Liberation Serif, serif" font-weight="bold" stroke="#000" stroke-width="0.32">BZCYYb-MSS</text>
<text x="1755.6" y="562.2" font-size="19.9" text-anchor="start" fill="#000" font-family="Liberation Serif, serif" font-weight="bold" stroke="#000" stroke-width="0.32">BZCYYb-MSS-1450 °C</text>
<text x="1348.9" y="451.4" font-size="55.5" text-anchor="start" fill="#231815" font-family="Liberation Sans, sans-serif" font-weight="bold">g</text>
<rect x="149.3" y="1183.5" width="57.3" height="138.6" fill="#ff0000" stroke="#000" stroke-width="2.65" stroke-linejoin="round"/>
<rect x="206.6" y="1166.2" width="59.7" height="155.9" fill="#0000ff" stroke="#000" stroke-width="2.65" stroke-linejoin="round"/>
<rect x="408.8" y="1131.7" width="58.7" height="190.4" fill="#ff0000" stroke="#000" stroke-width="2.65" stroke-linejoin="round"/>
<rect x="467.5" y="1166.4" width="59.0" height="155.7" fill="#0000ff" stroke="#000" stroke-width="2.65" stroke-linejoin="round"/>
<rect x="77.1" y="975.7" width="519.5" height="346.4" fill="none" stroke="#000" stroke-width="3.1"/>
<line x1="338.0" y1="975.7" x2="338.0" y2="1322.1" stroke="#000" stroke-width="2.8"/>
<line x1="70.1" y1="1322.1" x2="77.1" y2="1322.1" stroke="#000" stroke-width="2.8"/>
<line x1="73.1" y1="1278.8" x2="77.1" y2="1278.8" stroke="#000" stroke-width="2.8"/>
<text x="65.0" y="1330.1" font-size="24.5" text-anchor="end" fill="#000" font-family="Liberation Serif, serif" font-weight="bold" stroke="#000" stroke-width="0.39">5.5</text>
<line x1="70.1" y1="1235.5" x2="77.1" y2="1235.5" stroke="#000" stroke-width="2.8"/>
<line x1="73.1" y1="1192.2" x2="77.1" y2="1192.2" stroke="#000" stroke-width="2.8"/>
<text x="65.0" y="1243.5" font-size="24.5" text-anchor="end" fill="#000" font-family="Liberation Serif, serif" font-weight="bold" stroke="#000" stroke-width="0.39">6.0</text>
<line x1="70.1" y1="1148.9" x2="77.1" y2="1148.9" stroke="#000" stroke-width="2.8"/>
<line x1="73.1" y1="1105.6" x2="77.1" y2="1105.6" stroke="#000" stroke-width="2.8"/>
<text x="65.0" y="1156.9" font-size="24.5" text-anchor="end" fill="#000" font-family="Liberation Serif, serif" font-weight="bold" stroke="#000" stroke-width="0.39">6.5</text>
<line x1="70.1" y1="1062.3" x2="77.1" y2="1062.3" stroke="#000" stroke-width="2.8"/>
<line x1="73.1" y1="1019.0" x2="77.1" y2="1019.0" stroke="#000" stroke-width="2.8"/>
<text x="65.0" y="1070.3" font-size="24.5" text-anchor="end" fill="#000" font-family="Liberation Serif, serif" font-weight="bold" stroke="#000" stroke-width="0.39">7.0</text>
<line x1="70.1" y1="975.7" x2="77.1" y2="975.7" stroke="#000" stroke-width="2.8"/>
<text x="65.0" y="983.7" font-size="24.5" text-anchor="end" fill="#000" font-family="Liberation Serif, serif" font-weight="bold" stroke="#000" stroke-width="0.39">7.5</text>
<line x1="589.6" y1="1322.1" x2="596.6" y2="1322.1" stroke="#000" stroke-width="2.8"/>
<line x1="592.1" y1="1235.5" x2="596.6" y2="1235.5" stroke="#000" stroke-width="2.8"/>
<line x1="589.6" y1="1148.9" x2="596.6" y2="1148.9" stroke="#000" stroke-width="2.8"/>
<line x1="592.1" y1="1062.3" x2="596.6" y2="1062.3" stroke="#000" stroke-width="2.8"/>
<line x1="589.6" y1="975.7" x2="596.6" y2="975.7" stroke="#000" stroke-width="2.8"/>
<text x="605.7" y="1330.1" font-size="24.5" text-anchor="start" fill="#000" font-family="Liberation Serif, serif" font-weight="bold" stroke="#000" stroke-width="0.39">2.2</text>
<text x="605.7" y="1156.9" font-size="24.5" text-anchor="start" fill="#000" font-family="Liberation Serif, serif" font-weight="bold" stroke="#000" stroke-width="0.39">2.3</text>
<text x="605.7" y="983.7" font-size="24.5" text-anchor="start" fill="#000" font-family="Liberation Serif, serif" font-weight="bold" stroke="#000" stroke-width="0.39">2.4</text>
<text x="177.6" y="1178.8" font-size="24" text-anchor="middle" fill="#000" font-family="Liberation Serif, serif" font-weight="bold" stroke="#000" stroke-width="0.38">6.3</text>
<text x="236.0" y="1161.3" font-size="24" text-anchor="middle" fill="#000" font-family="Liberation Serif, serif" font-weight="bold" stroke="#000" stroke-width="0.38">6.4</text>
<text x="437.0" y="1126.6" font-size="24" text-anchor="middle" fill="#000" font-family="Liberation Serif, serif" font-weight="bold" stroke="#000" stroke-width="0.38">2.31</text>
<text x="496.0" y="1161.3" font-size="24" text-anchor="middle" fill="#000" font-family="Liberation Serif, serif" font-weight="bold" stroke="#000" stroke-width="0.38">2.29</text>
<line x1="188.7" y1="1141.4" x2="165.0" y2="1141.4" stroke="#000" stroke-width="2.8"/>
<polygon points="151.7,1141.4 167.7,1135.2 167.7,1147.6" fill="#000" stroke="none" stroke-width="0"/>
<line x1="483.0" y1="1110.8" x2="507.0" y2="1110.8" stroke="#000" stroke-width="2.8"/>
<polygon points="520.7,1110.8 504.7,1104.6 504.7,1117.0" fill="#000" stroke="none" stroke-width="0"/>
<rect x="102.1" y="991.8" width="41.1" height="19.9" fill="#ff0000" stroke="#000" stroke-width="2.65" stroke-linejoin="round"/>
<rect x="102.1" y="1018.8" width="41.1" height="19.8" fill="#0000ff" stroke="#000" stroke-width="2.65" stroke-linejoin="round"/>
<text x="154.0" y="1010.3" font-size="20.2" text-anchor="start" fill="#000" font-family="Liberation Serif, serif" font-weight="bold" stroke="#000" stroke-width="0.32">Before quenching</text>
<text x="154.0" y="1036.6" font-size="20.2" text-anchor="start" fill="#000" font-family="Liberation Serif, serif" font-weight="bold" stroke="#000" stroke-width="0.32">After quenching</text>
<text x="473.5" y="1014.4" font-size="23.8" text-anchor="start" fill="#000" font-family="Liberation Serif, serif" font-weight="bold" stroke="#000" stroke-width="0.38">MSS</text>
<text x="26.5" y="1157.0" font-size="31.6" text-anchor="middle" fill="#000" font-family="Liberation Serif, serif" font-weight="bold" stroke="#000" stroke-width="0.51" transform="rotate(-90 26.5 1157.0)">Coordinate Number, CN</text>
<text x="637.0" y="1150.0" font-size="30.5" text-anchor="middle" fill="#000" font-family="Liberation Serif, serif" font-weight="bold" stroke="#000" stroke-width="0.49" transform="rotate(90 637.0 1150.0)">Y-O bond length&#160;&#160;(Å)</text>
<text x="-0.8" y="953.0" font-size="55.5" text-anchor="start" fill="#231815" font-family="Liberation Sans, sans-serif" font-weight="bold">h</text>
<rect x="844.2" y="975.9" width="84.3" height="354.6" fill="#0000ff" stroke="#000" stroke-width="2.65" stroke-linejoin="round"/>
<rect x="928.5" y="1311.8" width="84.3" height="18.7" fill="#ff0000" stroke="#000" stroke-width="2.65" stroke-linejoin="round"/>
<rect x="1085.2" y="982.2" width="84.3" height="348.3" fill="#0000ff" stroke="#000" stroke-width="2.65" stroke-linejoin="round"/>
<rect x="1169.5" y="1305.5" width="84.2" height="25.0" fill="#ff0000" stroke="#000" stroke-width="2.65" stroke-linejoin="round"/>
<text x="886.0" y="1162.0" font-size="22" text-anchor="middle" fill="#fff" font-family="Liberation Serif, serif" font-weight="bold" stroke="#fff" stroke-width="0.35">95</text>
<text x="1126.0" y="1165.0" font-size="22" text-anchor="middle" fill="#fff" font-family="Liberation Serif, serif" font-weight="bold" stroke="#fff" stroke-width="0.35">93.3</text>
<text x="970.0" y="1330.0" font-size="22" text-anchor="middle" fill="#fff" font-family="Liberation Serif, serif" font-weight="bold" stroke="#fff" stroke-width="0.35">5</text>
<text x="1210.3" y="1327.8" font-size="22" text-anchor="middle" fill="#fff" font-family="Liberation Serif, serif" font-weight="bold" stroke="#fff" stroke-width="0.35">6.7</text>
<rect x="768.3" y="957.2" width="561.5" height="373.3" fill="none" stroke="#000" stroke-width="3.1"/>
<line x1="760.3" y1="1330.5" x2="768.3" y2="1330.5" stroke="#000" stroke-width="2.8"/>
<line x1="763.8" y1="1293.2" x2="768.3" y2="1293.2" stroke="#000" stroke-width="2.8"/>
<line x1="760.3" y1="1255.8" x2="768.3" y2="1255.8" stroke="#000" stroke-width="2.8"/>
<line x1="763.8" y1="1218.5" x2="768.3" y2="1218.5" stroke="#000" stroke-width="2.8"/>
<line x1="760.3" y1="1181.2" x2="768.3" y2="1181.2" stroke="#000" stroke-width="2.8"/>
<line x1="763.8" y1="1143.8" x2="768.3" y2="1143.8" stroke="#000" stroke-width="2.8"/>
<line x1="760.3" y1="1106.5" x2="768.3" y2="1106.5" stroke="#000" stroke-width="2.8"/>
<line x1="763.8" y1="1069.2" x2="768.3" y2="1069.2" stroke="#000" stroke-width="2.8"/>
<line x1="760.3" y1="1031.9" x2="768.3" y2="1031.9" stroke="#000" stroke-width="2.8"/>
<line x1="763.8" y1="994.5" x2="768.3" y2="994.5" stroke="#000" stroke-width="2.8"/>
<line x1="760.3" y1="957.2" x2="768.3" y2="957.2" stroke="#000" stroke-width="2.8"/>
<text x="755.3" y="1338.5" font-size="24.5" text-anchor="end" fill="#000" font-family="Liberation Serif, serif" font-weight="bold" stroke="#000" stroke-width="0.39">0</text>
<text x="755.3" y="1263.8" font-size="24.5" text-anchor="end" fill="#000" font-family="Liberation Serif, serif" font-weight="bold" stroke="#000" stroke-width="0.39">20</text>
<text x="755.3" y="1189.2" font-size="24.5" text-anchor="end" fill="#000" font-family="Liberation Serif, serif" font-weight="bold" stroke="#000" stroke-width="0.39">40</text>
<text x="755.3" y="1114.5" font-size="24.5" text-anchor="end" fill="#000" font-family="Liberation Serif, serif" font-weight="bold" stroke="#000" stroke-width="0.39">60</text>
<text x="755.3" y="1039.9" font-size="24.5" text-anchor="end" fill="#000" font-family="Liberation Serif, serif" font-weight="bold" stroke="#000" stroke-width="0.39">80</text>
<text x="755.3" y="965.2" font-size="24.5" text-anchor="end" fill="#000" font-family="Liberation Serif, serif" font-weight="bold" stroke="#000" stroke-width="0.39">100</text>
<rect x="963.2" y="991.8" width="45.5" height="21.9" fill="#0000ff" stroke="#000" stroke-width="2.65" stroke-linejoin="round"/>
<rect x="963.2" y="1019.4" width="45.5" height="21.9" fill="#ff0000" stroke="#000" stroke-width="2.65" stroke-linejoin="round"/>
<text x="1020.5" y="1011.2" font-size="19.7" text-anchor="start" fill="#000" font-family="Liberation Serif, serif" font-weight="bold" stroke="#000" stroke-width="0.32">B site</text>
<text x="1020.5" y="1038.6" font-size="19.7" text-anchor="start" fill="#000" font-family="Liberation Serif, serif" font-weight="bold" stroke="#000" stroke-width="0.32">A site</text>
<text x="926.2" y="1363.2" font-size="23.1" text-anchor="middle" fill="#000" font-family="Liberation Serif, serif" font-weight="bold" stroke="#000" stroke-width="0.37">MSS</text>
<text x="1167.8" y="1363.2" font-size="23.1" text-anchor="middle" fill="#000" font-family="Liberation Serif, serif" font-weight="bold" stroke="#000" stroke-width="0.37">MSS-quenching</text>
<text x="714.0" y="1145.5" font-size="30.4" text-anchor="middle" fill="#000" font-family="Liberation Serif, serif" font-weight="bold" stroke="#000" stroke-width="0.49" transform="rotate(-90 714.0 1145.5)">Percentage of A/B sites (%)</text>
<text x="678.6" y="949.4" font-size="55.5" text-anchor="start" fill="#231815" font-family="Liberation Sans, sans-serif" font-weight="bold">i</text>
<rect x="1521.1" y="958.9" width="71.8" height="372.3" fill="#0000ff" stroke="#000" stroke-width="2.65" stroke-linejoin="round"/>
<rect x="1760.7" y="996.1" width="72.5" height="335.1" fill="#0000ff" stroke="#000" stroke-width="2.65" stroke-linejoin="round"/>
<rect x="1833.2" y="1294.0" width="71.5" height="37.2" fill="#ff0000" stroke="#000" stroke-width="2.65" stroke-linejoin="round"/>
<text x="1556.8" y="1153.2" font-size="22" text-anchor="middle" fill="#fff" font-family="Liberation Serif, serif" font-weight="bold" stroke="#fff" stroke-width="0.35">100</text>
<text x="1796.8" y="1172.1" font-size="22" text-anchor="middle" fill="#fff" font-family="Liberation Serif, serif" font-weight="bold" stroke="#fff" stroke-width="0.35">90</text>
<text x="1868.6" y="1321.0" font-size="22" text-anchor="middle" fill="#fff" font-family="Liberation Serif, serif" font-weight="bold" stroke="#fff" stroke-width="0.35">10</text>
<rect x="1432.9" y="958.9" width="560.4" height="372.3" fill="none" stroke="#000" stroke-width="3.1"/>
<line x1="1424.9" y1="1331.2" x2="1432.9" y2="1331.2" stroke="#000" stroke-width="2.8"/>
<line x1="1428.4" y1="1294.0" x2="1432.9" y2="1294.0" stroke="#000" stroke-width="2.8"/>
<line x1="1424.9" y1="1256.7" x2="1432.9" y2="1256.7" stroke="#000" stroke-width="2.8"/>
<line x1="1428.4" y1="1219.5" x2="1432.9" y2="1219.5" stroke="#000" stroke-width="2.8"/>
<line x1="1424.9" y1="1182.3" x2="1432.9" y2="1182.3" stroke="#000" stroke-width="2.8"/>
<line x1="1428.4" y1="1145.0" x2="1432.9" y2="1145.0" stroke="#000" stroke-width="2.8"/>
<line x1="1424.9" y1="1107.8" x2="1432.9" y2="1107.8" stroke="#000" stroke-width="2.8"/>
<line x1="1428.4" y1="1070.6" x2="1432.9" y2="1070.6" stroke="#000" stroke-width="2.8"/>
<line x1="1424.9" y1="1033.4" x2="1432.9" y2="1033.4" stroke="#000" stroke-width="2.8"/>
<line x1="1428.4" y1="996.1" x2="1432.9" y2="996.1" stroke="#000" stroke-width="2.8"/>
<line x1="1424.9" y1="958.9" x2="1432.9" y2="958.9" stroke="#000" stroke-width="2.8"/>
<text x="1421.0" y="1339.2" font-size="24.5" text-anchor="end" fill="#000" font-family="Liberation Serif, serif" font-weight="bold" stroke="#000" stroke-width="0.39">0</text>
<text x="1421.0" y="1264.7" font-size="24.5" text-anchor="end" fill="#000" font-family="Liberation Serif, serif" font-weight="bold" stroke="#000" stroke-width="0.39">20</text>
<text x="1421.0" y="1190.3" font-size="24.5" text-anchor="end" fill="#000" font-family="Liberation Serif, serif" font-weight="bold" stroke="#000" stroke-width="0.39">40</text>
<text x="1421.0" y="1115.8" font-size="24.5" text-anchor="end" fill="#000" font-family="Liberation Serif, serif" font-weight="bold" stroke="#000" stroke-width="0.39">60</text>
<text x="1421.0" y="1041.4" font-size="24.5" text-anchor="end" fill="#000" font-family="Liberation Serif, serif" font-weight="bold" stroke="#000" stroke-width="0.39">80</text>
<text x="1421.0" y="966.9" font-size="24.5" text-anchor="end" fill="#000" font-family="Liberation Serif, serif" font-weight="bold" stroke="#000" stroke-width="0.39">100</text>
<rect x="1627.6" y="994.8" width="45.5" height="22.2" fill="#0000ff" stroke="#000" stroke-width="2.65" stroke-linejoin="round"/>
<rect x="1627.6" y="1022.1" width="45.5" height="22.3" fill="#ff0000" stroke="#000" stroke-width="2.65" stroke-linejoin="round"/>
<text x="1684.9" y="1014.4" font-size="19.7" text-anchor="start" fill="#000" font-family="Liberation Serif, serif" font-weight="bold" stroke="#000" stroke-width="0.32">B site</text>
<text x="1684.9" y="1041.7" font-size="19.7" text-anchor="start" fill="#000" font-family="Liberation Serif, serif" font-weight="bold" stroke="#000" stroke-width="0.32">A site</text>
<text x="1558.2" y="1363.2" font-size="23.1" text-anchor="middle" fill="#000" font-family="Liberation Serif, serif" font-weight="bold" stroke="#000" stroke-width="0.37">SSR</text>
<text x="1833.9" y="1363.2" font-size="23.1" text-anchor="middle" fill="#000" font-family="Liberation Serif, serif" font-weight="bold" stroke="#000" stroke-width="0.37">SSR-quenching</text>
<text x="1377.3" y="1146.7" font-size="30.4" text-anchor="middle" fill="#000" font-family="Liberation Serif, serif" font-weight="bold" stroke="#000" stroke-width="0.49" transform="rotate(-90 1377.3 1146.7)">Percentage of A/B sites (%)</text>
<text x="1358.1" y="932.8" font-size="55.5" text-anchor="start" fill="#231815" font-family="Liberation Sans, sans-serif" font-weight="bold">j</text>
<clipPath id="ck"><rect x="57.3" y="1432.9" width="556.8" height="382.9"/></clipPath>
<filter id="bl6" x="-30%" y="-30%" width="160%" height="160%"><feGaussianBlur stdDeviation="6"/></filter>
<filter id="bl2" x="-30%" y="-30%" width="160%" height="160%"><feGaussianBlur stdDeviation="2"/></filter>
<filter id="bl15" x="-50%" y="-50%" width="200%" height="200%"><feGaussianBlur stdDeviation="18"/></filter>
<filter id="noise" x="0" y="0" width="100%" height="100%" color-interpolation-filters="sRGB"><feTurbulence type="fractalNoise" baseFrequency="0.9" numOctaves="2" seed="7" result="n"/><feColorMatrix type="matrix" values="0 0 0 0 0.5  0 0 0 0 0.5  0 0 0 0 0.5  0.9 0.9 0.9 0 -0.95"/></filter>
<linearGradient id="gk" x1="0" y1="0" x2="1" y2="0"><stop offset="0" stop-color="#9a9a9a"/><stop offset="0.3" stop-color="#969696"/><stop offset="0.6" stop-color="#999999"/><stop offset="0.85" stop-color="#a6a6a6"/><stop offset="1" stop-color="#b2b2b2"/></linearGradient>
<g clip-path="url(#ck)">
<rect x="57.3" y="1432.9" width="556.8" height="382.9" fill="url(#gk)" stroke="none" stroke-width="0"/>
<ellipse cx="67.3" cy="1820.8" rx="130" ry="40" fill="#b0b0b0" filter="url(#bl15)"/>
<polyline points="52.1,1510.5 112.4,1494.8 227.1,1469.8 251.3,1459.2 261.8,1432.1" fill="none" stroke="#898989" stroke-width="9" stroke-linejoin="round" stroke-linecap="round" filter="url(#bl6)"/>
<path d="M46.0,1423.0 L257.9,1423.0 L256.1,1445.7 Q251.3,1456.6 227.1,1467.7 L112.4,1491.8 L67.2,1502.1 L46.0,1507.5 Z" fill="#a2a2a2" filter="url(#bl1)"/>
<rect x="57.3" y="1432.9" width="556.8" height="382.9" fill="#808080" stroke="none" stroke-width="0" filter="url(#noise)" opacity="0.5"/>
</g>
<text transform="translate(99.5 1747.4) scale(1.0 1.08)" font-size="44.7" text-anchor="start" fill="#fff" stroke="#fff" stroke-width="0.72" font-family="Liberation Serif, serif" font-weight="bold">200 nm</text>
<rect x="96.0" y="1764.2" width="70.2" height="9.5" fill="#fff" stroke="none" stroke-width="0"/>
<text x="3.0" y="1431.0" font-size="55.5" text-anchor="start" fill="#231815" font-family="Liberation Sans, sans-serif" font-weight="bold">k</text>
<clipPath id="cl"><rect x="745.8" y="1432.2" width="556.8" height="383.6"/></clipPath>
<linearGradient id="gl" x1="0" y1="0" x2="1" y2="0.3"><stop offset="0" stop-color="#797979"/><stop offset="0.5" stop-color="#848484"/><stop offset="1" stop-color="#878787"/></linearGradient>
<g clip-path="url(#cl)">
<rect x="745.8" y="1432.2" width="556.8" height="383.6" fill="url(#gl)" stroke="none" stroke-width="0"/>
<polygon points="745.8,1815.8 745.8,1784.4 905.9,1717.0 1071.1,1673.2 921.1,1815.8" fill="#8d8d8d" stroke="none" stroke-width="0" filter="url(#bl6)"/>
<polygon points="1310.4,1624.4 1175.6,1631.1 1084.6,1656.4 1071.1,1673.9 1007.0,1745.7 959.9,1818.2 1310.4,1818.2" fill="#777777" stroke="none" stroke-width="0" filter="url(#bl1)"/>
<polyline points="1072.8,1673.2 1040.7,1710.3 1000.3,1745.7 959.9,1781.1 936.3,1799.6 921.1,1815.5" fill="none" stroke="#a4a4a4" stroke-width="9" stroke-linejoin="round" stroke-linecap="round" filter="url(#bl2)"/>
<polyline points="1072.8,1673.2 1040.7,1710.3 1000.3,1745.7 959.9,1781.1 936.3,1799.6 921.1,1815.5" fill="none" stroke="#cccccc" stroke-width="3.0" stroke-linejoin="round" stroke-linecap="round" filter="url(#bl1)"/>
<polyline points="1086.2,1657.0 1047.5,1683.3" fill="none" stroke="#a0a0a0" stroke-width="1.6" stroke-linejoin="round" stroke-linecap="round" filter="url(#bl1)"/>
<polyline points="745.8,1514.8 798.1,1521.6 858.7,1528.3" fill="none" stroke="#7a7a7a" stroke-width="4" stroke-linejoin="round" stroke-linecap="round" filter="url(#bl1)"/>
<polyline points="872.2,1491.2 926.2,1464.3 949.7,1447.4" fill="none" stroke="#7e7e7e" stroke-width="6" stroke-linejoin="round" stroke-linecap="round" filter="url(#bl1)"/>
<rect x="745.8" y="1432.2" width="556.8" height="383.6" fill="#808080" stroke="none" stroke-width="0" filter="url(#noise)" opacity="0.6"/>
</g>
<text transform="translate(779.5 1751.8) scale(1.0 1.08)" font-size="44" text-anchor="start" fill="#fff" stroke="#fff" stroke-width="0.70" font-family="Liberation Serif, serif" font-weight="bold">2 μm</text>
<rect x="783.2" y="1773.0" width="53.6" height="9.4" fill="#fff" stroke="none" stroke-width="0"/>
<text x="678.8" y="1431.4" font-size="55.5" text-anchor="start" fill="#231815" font-family="Liberation Sans, sans-serif" font-weight="bold">l</text>
<line x1="1469.2" y1="1566.4" x2="1955.2" y2="1616.6" stroke="#8a7f0d" stroke-width="2.8"/>
<line x1="1469.2" y1="1599.1" x2="1955.2" y2="1680.0" stroke="#0b8b0b" stroke-width="2.8"/>
<line x1="1469.2" y1="1623.3" x2="1955.2" y2="1718.1" stroke="#0b7f8c" stroke-width="2.8"/>
<polygon points="1469.2,1556.0 1460.9,1570.3 1477.5,1570.3" fill="#8a7f0d" stroke="none" stroke-width="0"/>
<polygon points="1545.7,1564.4 1537.4,1578.8 1554.0,1578.8" fill="#8a7f0d" stroke="none" stroke-width="0"/>
<polygon points="1630.0,1573.5 1621.7,1587.9 1638.3,1587.9" fill="#8a7f0d" stroke="none" stroke-width="0"/>
<polygon points="1725.3,1582.9 1717.0,1597.3 1733.6,1597.3" fill="#8a7f0d" stroke="none" stroke-width="0"/>
<polygon points="1832.9,1593.7 1824.6,1608.1 1841.2,1608.1" fill="#8a7f0d" stroke="none" stroke-width="0"/>
<polygon points="1955.2,1606.2 1946.9,1620.6 1963.5,1620.6" fill="#8a7f0d" stroke="none" stroke-width="0"/>
<circle cx="1469.2" cy="1595.0" r="7" fill="#0b8b0b"/>
<circle cx="1545.7" cy="1611.9" r="7" fill="#0b8b0b"/>
<circle cx="1630.0" cy="1627.7" r="7" fill="#0b8b0b"/>
<circle cx="1725.3" cy="1643.9" r="7" fill="#0b8b0b"/>
<circle cx="1832.9" cy="1664.8" r="7" fill="#0b8b0b"/>
<circle cx="1955.2" cy="1676.6" r="7" fill="#0b8b0b"/>
<polygon points="1469.2,1628.7 1460.9,1614.3 1477.5,1614.3" fill="#0b7f8c" stroke="none" stroke-width="0"/>
<polygon points="1545.7,1649.9 1537.4,1635.6 1554.0,1635.6" fill="#0b7f8c" stroke="none" stroke-width="0"/>
<polygon points="1630.0,1669.1 1621.7,1654.8 1638.3,1654.8" fill="#0b7f8c" stroke="none" stroke-width="0"/>
<polygon points="1725.3,1686.3 1717.0,1672.0 1733.6,1672.0" fill="#0b7f8c" stroke="none" stroke-width="0"/>
<polygon points="1832.9,1703.8 1824.6,1689.5 1841.2,1689.5" fill="#0b7f8c" stroke="none" stroke-width="0"/>
<polygon points="1955.2,1725.8 1946.9,1711.4 1963.5,1711.4" fill="#0b7f8c" stroke="none" stroke-width="0"/>
<rect x="1431.6" y="1432.5" width="546.2" height="364.7" fill="none" stroke="#000" stroke-width="3.1"/>
<line x1="1431.6" y1="1797.2" x2="1431.6" y2="1805.2" stroke="#000" stroke-width="2.8"/>
<line x1="1499.9" y1="1797.2" x2="1499.9" y2="1801.7" stroke="#000" stroke-width="2.8"/>
<line x1="1568.1" y1="1797.2" x2="1568.1" y2="1805.2" stroke="#000" stroke-width="2.8"/>
<line x1="1636.4" y1="1797.2" x2="1636.4" y2="1801.7" stroke="#000" stroke-width="2.8"/>
<line x1="1704.7" y1="1797.2" x2="1704.7" y2="1805.2" stroke="#000" stroke-width="2.8"/>
<line x1="1773.0" y1="1797.2" x2="1773.0" y2="1801.7" stroke="#000" stroke-width="2.8"/>
<line x1="1841.2" y1="1797.2" x2="1841.2" y2="1805.2" stroke="#000" stroke-width="2.8"/>
<line x1="1909.5" y1="1797.2" x2="1909.5" y2="1801.7" stroke="#000" stroke-width="2.8"/>
<line x1="1977.8" y1="1797.2" x2="1977.8" y2="1805.2" stroke="#000" stroke-width="2.8"/>
<text x="1431.6" y="1829.8" font-size="25" text-anchor="middle" fill="#000" font-family="Liberation Serif, serif" font-weight="bold" stroke="#000" stroke-width="0.40">1.0</text>
<text x="1568.1" y="1829.8" font-size="25" text-anchor="middle" fill="#000" font-family="Liberation Serif, serif" font-weight="bold" stroke="#000" stroke-width="0.40">1.1</text>
<text x="1704.7" y="1829.8" font-size="25" text-anchor="middle" fill="#000" font-family="Liberation Serif, serif" font-weight="bold" stroke="#000" stroke-width="0.40">1.2</text>
<text x="1841.2" y="1829.8" font-size="25" text-anchor="middle" fill="#000" font-family="Liberation Serif, serif" font-weight="bold" stroke="#000" stroke-width="0.40">1.3</text>
<text x="1977.8" y="1829.8" font-size="25" text-anchor="middle" fill="#000" font-family="Liberation Serif, serif" font-weight="bold" stroke="#000" stroke-width="0.40">1.4</text>
<line x1="1423.6" y1="1797.2" x2="1431.6" y2="1797.2" stroke="#000" stroke-width="2.8"/>
<text x="1417.5" y="1805.2" font-size="22" text-anchor="end" font-family="Liberation Serif, serif" font-weight="bold" stroke="#000" stroke-width="0.35">10<tspan dy="-9.5" font-size="14.5">-2</tspan></text>
<line x1="1423.6" y1="1478.8" x2="1431.6" y2="1478.8" stroke="#000" stroke-width="2.8"/>
<text x="1417.5" y="1486.8" font-size="22" text-anchor="end" font-family="Liberation Serif, serif" font-weight="bold" stroke="#000" stroke-width="0.35">10<tspan dy="-9.5" font-size="14.5">-1</tspan></text>
<line x1="1427.1" y1="1701.3" x2="1431.6" y2="1701.3" stroke="#000" stroke-width="2.8"/>
<line x1="1427.1" y1="1645.3" x2="1431.6" y2="1645.3" stroke="#000" stroke-width="2.8"/>
<line x1="1427.1" y1="1605.5" x2="1431.6" y2="1605.5" stroke="#000" stroke-width="2.8"/>
<line x1="1427.1" y1="1574.6" x2="1431.6" y2="1574.6" stroke="#000" stroke-width="2.8"/>
<line x1="1427.1" y1="1549.4" x2="1431.6" y2="1549.4" stroke="#000" stroke-width="2.8"/>
<line x1="1427.1" y1="1528.1" x2="1431.6" y2="1528.1" stroke="#000" stroke-width="2.8"/>
<line x1="1427.1" y1="1509.6" x2="1431.6" y2="1509.6" stroke="#000" stroke-width="2.8"/>
<line x1="1427.1" y1="1493.3" x2="1431.6" y2="1493.3" stroke="#000" stroke-width="2.8"/>
<text x="1715" y="1867.9" font-size="31.6" text-anchor="middle" font-family="Liberation Serif, serif" font-weight="bold" stroke="#000" stroke-width="0.35">1000 / T&#160; <tspan font-size="42" dy="2">(</tspan><tspan dy="-2">K</tspan><tspan dy="-12" font-size="22.5">-1</tspan><tspan dy="14" font-size="42">)</tspan></text>
<text x="1372.5" y="1613.5" font-size="32.4" text-anchor="middle" font-family="Liberation Serif, serif" font-weight="bold" stroke="#000" stroke-width="0.35" transform="rotate(-90 1372.5 1613.5)">Conductivity&#160; <tspan font-size="42" dy="2">(</tspan><tspan dy="-2">S cm</tspan><tspan dy="-12" font-size="22.5">-1</tspan><tspan dy="14" font-size="42">)</tspan></text>
<circle cx="1751.3" cy="1460.9" r="7" fill="#0b8b0b"/>
<polygon points="1751.3,1479.8 1743.0,1494.1 1759.6,1494.1" fill="#8a7f0d" stroke="none" stroke-width="0"/>
<polygon points="1751.3,1525.2 1743.0,1510.9 1759.6,1510.9" fill="#0b7f8c" stroke="none" stroke-width="0"/>
<text x="1781.6" y="1468.0" font-size="21" text-anchor="start" fill="#000" font-family="Liberation Serif, serif" font-weight="bold" stroke="#000" stroke-width="0.34">BZCYYb-MSS-1:1</text>
<text x="1781.6" y="1495.8" font-size="21" text-anchor="start" fill="#000" font-family="Liberation Serif, serif" font-weight="bold" stroke="#000" stroke-width="0.34">BZCYYb-MSS-2:1</text>
<text x="1781.6" y="1523.6" font-size="21" text-anchor="start" fill="#000" font-family="Liberation Serif, serif" font-weight="bold" stroke="#000" stroke-width="0.34">BZCYYb-MSS-3:1</text>
<text x="1341.9" y="1427.6" font-size="55.5" text-anchor="start" fill="#231815" font-family="Liberation Sans, sans-serif" font-weight="bold">m</text>
</svg></body></html>
